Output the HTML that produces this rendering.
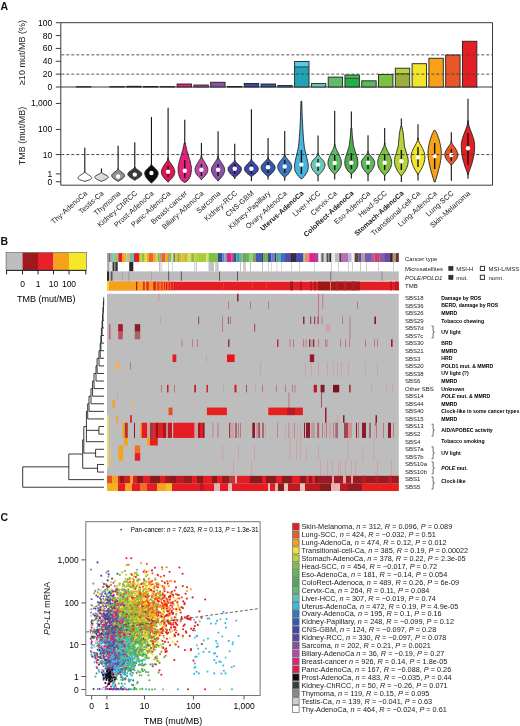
<!DOCTYPE html>
<html><head><meta charset="utf-8"><title>fig</title>
<style>
html,body{margin:0;padding:0;background:#fff;width:520px;height:726px;overflow:hidden}
svg{display:block;filter:blur(0.3px)}
text{font-family:"Liberation Sans",sans-serif}
</style></head><body>
<svg width="520" height="726" viewBox="0 0 520 726">
<text x="0.60" y="9.80" font-size="10.5" font-weight="bold" fill="#111">A</text>
<g stroke="#3a3a3a" stroke-width="1" fill="none">
<path d="M60.8 22.7H492.5V185.2H60.8Z"/>
<path d="M60.8 87.0H492.5"/>
</g>
<g stroke="#3a3a3a" stroke-width="1">
<path d="M55.8 87.00H60.8"/>
<path d="M55.8 74.14H60.8"/>
<path d="M55.8 61.28H60.8"/>
<path d="M55.8 48.42H60.8"/>
<path d="M55.8 35.56H60.8"/>
<path d="M55.8 22.70H60.8"/>
</g>
<text x="52.20" y="90.00" font-size="8.5" text-anchor="end">0</text>
<text x="52.20" y="77.14" font-size="8.5" text-anchor="end">20</text>
<text x="52.20" y="64.28" font-size="8.5" text-anchor="end">40</text>
<text x="52.20" y="51.42" font-size="8.5" text-anchor="end">60</text>
<text x="52.20" y="38.56" font-size="8.5" text-anchor="end">80</text>
<text x="52.20" y="25.70" font-size="8.5" text-anchor="end">100</text>
<text transform="translate(25.2 52.6) rotate(-90)" font-size="9" text-anchor="middle" fill="#222">≥10 mut/MB (%)</text>
<rect x="76.40" y="86.60" width="14.4" height="0.40" fill="#ffffff" stroke="#222" stroke-width="0.9"/>
<rect x="109.97" y="86.60" width="14.4" height="0.40" fill="#909090" stroke="#222" stroke-width="0.9"/>
<rect x="126.75" y="86.30" width="14.4" height="0.70" fill="#3c3c3c" stroke="#222" stroke-width="0.9"/>
<rect x="143.54" y="86.50" width="14.4" height="0.50" fill="#0c0c0c" stroke="#222" stroke-width="0.9"/>
<rect x="160.32" y="86.60" width="14.4" height="0.40" fill="#e0174f" stroke="#222" stroke-width="0.9"/>
<rect x="177.11" y="84.00" width="14.4" height="3.00" fill="#e6207e" stroke="#222" stroke-width="0.9"/>
<rect x="193.90" y="85.00" width="14.4" height="2.00" fill="#b84aa5" stroke="#222" stroke-width="0.9"/>
<rect x="210.68" y="82.25" width="14.4" height="4.75" fill="#8c52a8" stroke="#222" stroke-width="0.9"/>
<rect x="227.47" y="86.50" width="14.4" height="0.50" fill="#4a3f9c" stroke="#222" stroke-width="0.9"/>
<rect x="244.25" y="83.50" width="14.4" height="3.50" fill="#3d47a6" stroke="#222" stroke-width="0.9"/>
<rect x="261.04" y="84.00" width="14.4" height="3.00" fill="#3358a8" stroke="#222" stroke-width="0.9"/>
<rect x="277.82" y="85.50" width="14.4" height="1.50" fill="#3b78c0" stroke="#222" stroke-width="0.9"/>
<rect x="294.61" y="61.50" width="14.4" height="5.40" fill="#5cc8ea"/>
<rect x="294.61" y="66.90" width="14.4" height="20.10" fill="#1fa3b5"/>
<path d="M294.61 66.90h14.4" stroke="#222" stroke-width="0.8"/>
<rect x="294.61" y="61.50" width="14.4" height="25.50" fill="none" stroke="#222" stroke-width="0.9"/>
<rect x="311.39" y="83.60" width="14.4" height="3.40" fill="#6cc9b7" stroke="#222" stroke-width="0.9"/>
<rect x="328.18" y="77.10" width="14.4" height="9.90" fill="#5fba6a" stroke="#222" stroke-width="0.9"/>
<rect x="344.96" y="75.00" width="14.4" height="3.30" fill="#4cc060"/>
<rect x="344.96" y="78.30" width="14.4" height="8.70" fill="#22b04a"/>
<path d="M344.96 78.30h14.4" stroke="#222" stroke-width="0.8"/>
<rect x="344.96" y="75.00" width="14.4" height="12.00" fill="none" stroke="#222" stroke-width="0.9"/>
<rect x="361.75" y="80.80" width="14.4" height="6.20" fill="#5cb85c" stroke="#222" stroke-width="0.9"/>
<rect x="378.53" y="74.50" width="14.4" height="12.50" fill="#7dc142" stroke="#222" stroke-width="0.9"/>
<rect x="395.31" y="68.20" width="14.4" height="5.60" fill="#bad53a"/>
<rect x="395.31" y="73.80" width="14.4" height="13.20" fill="#9cae3c"/>
<path d="M395.31 73.80h14.4" stroke="#222" stroke-width="0.8"/>
<rect x="395.31" y="68.20" width="14.4" height="18.80" fill="none" stroke="#222" stroke-width="0.9"/>
<rect x="412.10" y="63.70" width="14.4" height="23.30" fill="#f0e52a" stroke="#222" stroke-width="0.9"/>
<rect x="428.89" y="58.25" width="14.4" height="28.75" fill="#f7a11a" stroke="#222" stroke-width="0.9"/>
<rect x="445.67" y="55.00" width="14.4" height="32.00" fill="#e8562a" stroke="#222" stroke-width="0.9"/>
<rect x="462.45" y="41.25" width="14.4" height="45.75" fill="#e31e24" stroke="#222" stroke-width="0.9"/>
<g stroke="#444" stroke-width="0.9" stroke-dasharray="3 2" fill="none">
<path d="M61.3 54.85H492.0"/>
<path d="M61.3 74.14H492.0"/>
</g>
<g stroke="#3a3a3a" stroke-width="1">
<path d="M55.8 181.75H60.8"/>
<path d="M55.8 173.89H60.8"/>
<path d="M55.8 154.57H60.8"/>
<path d="M55.8 129.44H60.8"/>
<path d="M55.8 103.44H60.8"/>
</g>
<text x="52.20" y="184.75" font-size="8.5" text-anchor="end">0</text>
<text x="52.20" y="176.89" font-size="8.5" text-anchor="end">1</text>
<text x="52.20" y="157.57" font-size="8.5" text-anchor="end">10</text>
<text x="52.20" y="132.44" font-size="8.5" text-anchor="end">100</text>
<text x="52.20" y="106.44" font-size="8.5" text-anchor="end">1,000</text>
<text transform="translate(25.2 136) rotate(-90)" font-size="9" text-anchor="middle" fill="#222">TMB (mut/MB)</text>
<path d="M84.80 147.70V181.30" stroke="#111" stroke-width="1.1"/>
<polygon points="85.1,171.7 85.1,172.1 85.2,172.4 85.6,172.8 86.0,173.1 86.5,173.5 87.0,173.8 87.6,174.2 88.2,174.5 88.7,174.9 89.2,175.3 89.8,175.6 90.2,176.0 90.7,176.3 91.0,176.7 91.3,177.0 91.5,177.4 91.7,177.7 91.7,178.1 91.6,178.5 91.2,178.8 90.8,179.2 90.1,179.5 89.3,179.9 88.3,180.2 87.2,180.6 86.0,180.9 85.1,181.3 84.5,181.3 83.6,180.9 82.4,180.6 81.3,180.2 80.3,179.9 79.5,179.5 78.8,179.2 78.4,178.8 78.0,178.5 77.9,178.1 77.9,177.7 78.1,177.4 78.3,177.0 78.6,176.7 78.9,176.3 79.4,176.0 79.8,175.6 80.4,175.3 80.9,174.9 81.4,174.5 82.0,174.2 82.6,173.8 83.1,173.5 83.6,173.1 84.0,172.8 84.4,172.4 84.5,172.1 84.5,171.7" fill="#ffffff" stroke="#222" stroke-width="0.9"/>
<path d="M101.46 168.50V181.30" stroke="#111" stroke-width="1.1"/>
<polygon points="101.8,172.3 101.8,172.6 102.0,173.0 102.5,173.3 103.1,173.6 103.8,174.0 104.5,174.3 105.1,174.6 105.8,175.0 106.4,175.3 107.0,175.6 107.4,176.0 107.8,176.3 108.1,176.6 108.2,177.0 108.1,177.3 108.0,177.6 107.8,178.0 107.5,178.3 107.1,178.6 106.6,179.0 106.1,179.3 105.5,179.6 104.8,180.0 104.0,180.3 103.2,180.6 102.3,181.0 101.8,181.3 101.2,181.3 100.6,181.0 99.8,180.6 98.9,180.3 98.2,180.0 97.5,179.6 96.8,179.3 96.3,179.0 95.8,178.6 95.4,178.3 95.1,178.0 94.9,177.6 94.8,177.3 94.8,177.0 94.9,176.6 95.1,176.3 95.5,176.0 95.9,175.6 96.5,175.3 97.1,175.0 97.8,174.6 98.5,174.3 99.1,174.0 99.8,173.6 100.4,173.3 100.9,173.0 101.2,172.6 101.2,172.3" fill="#dadada" stroke="#222" stroke-width="0.9"/>
<path d="M118.12 145.80V181.30" stroke="#111" stroke-width="1.1"/>
<polygon points="118.4,168.8 118.4,169.3 118.6,169.7 119.1,170.2 119.7,170.7 120.3,171.1 120.9,171.6 121.5,172.0 122.1,172.5 122.7,173.0 123.3,173.4 123.7,173.9 124.1,174.4 124.4,174.8 124.5,175.3 124.5,175.7 124.4,176.2 124.2,176.7 124.0,177.1 123.6,177.6 123.2,178.1 122.6,178.5 122.0,179.0 121.3,179.4 120.6,179.9 119.8,180.4 118.9,180.8 118.4,181.3 117.8,181.3 117.3,180.8 116.5,180.4 115.6,179.9 114.9,179.4 114.2,179.0 113.6,178.5 113.1,178.1 112.6,177.6 112.3,177.1 112.0,176.7 111.8,176.2 111.7,175.7 111.7,175.3 111.9,174.8 112.1,174.4 112.5,173.9 113.0,173.4 113.5,173.0 114.1,172.5 114.7,172.0 115.4,171.6 116.0,171.1 116.6,170.7 117.1,170.2 117.6,169.7 117.8,169.3 117.8,168.8" fill="#909090" stroke="#222" stroke-width="0.9"/>
<circle cx="118.12" cy="176.50" r="2.2" fill="#fff"/>
<path d="M134.78 142.30V180.50" stroke="#111" stroke-width="1.1"/>
<polygon points="135.1,167.0 135.1,167.5 135.3,168.0 135.9,168.4 136.5,168.9 137.1,169.4 137.8,169.9 138.5,170.4 139.2,170.9 139.8,171.3 140.4,171.8 140.9,172.3 141.3,172.8 141.6,173.3 141.8,173.7 141.8,174.2 141.7,174.7 141.5,175.2 141.2,175.7 140.8,176.1 140.3,176.6 139.7,177.1 139.1,177.6 138.3,178.1 137.5,178.6 136.6,179.0 135.7,179.5 135.1,180.0 134.5,180.0 133.9,179.5 133.0,179.0 132.1,178.6 131.2,178.1 130.5,177.6 129.8,177.1 129.2,176.6 128.8,176.1 128.4,175.7 128.1,175.2 127.9,174.7 127.8,174.2 127.8,173.7 128.0,173.3 128.3,172.8 128.7,172.3 129.2,171.8 129.8,171.3 130.4,170.9 131.1,170.4 131.8,169.9 132.5,169.4 133.1,168.9 133.7,168.4 134.2,168.0 134.5,167.5 134.5,167.0" fill="#3c3c3c" stroke="#222" stroke-width="0.9"/>
<circle cx="134.78" cy="174.60" r="2.2" fill="#fff"/>
<path d="M151.44 117.00V183.00" stroke="#111" stroke-width="1.1"/>
<polygon points="151.7,164.0 151.7,164.7 152.1,165.4 152.7,166.1 153.4,166.8 154.1,167.5 154.9,168.2 155.6,168.9 156.3,169.6 156.9,170.3 157.4,171.0 157.8,171.7 158.1,172.4 158.1,173.1 158.1,173.9 158.0,174.6 157.8,175.3 157.5,176.0 157.2,176.7 156.7,177.4 156.3,178.1 155.7,178.8 155.1,179.5 154.5,180.2 153.7,180.9 153.0,181.6 152.2,182.3 151.7,183.0 151.1,183.0 150.7,182.3 149.9,181.6 149.1,180.9 148.4,180.2 147.8,179.5 147.2,178.8 146.6,178.1 146.1,177.4 145.7,176.7 145.4,176.0 145.1,175.3 144.9,174.6 144.8,173.9 144.7,173.1 144.8,172.4 145.0,171.7 145.4,171.0 146.0,170.3 146.6,169.6 147.3,168.9 148.0,168.2 148.8,167.5 149.5,166.8 150.2,166.1 150.8,165.4 151.1,164.7 151.1,164.0" fill="#0c0c0c" stroke="#222" stroke-width="0.9"/>
<circle cx="151.44" cy="173.00" r="2.2" fill="#fff"/>
<path d="M168.10 107.70V182.00" stroke="#111" stroke-width="1.1"/>
<polygon points="168.4,158.0 168.4,158.9 168.6,159.8 169.0,160.7 169.6,161.6 170.1,162.4 170.8,163.3 171.4,164.2 172.0,165.1 172.6,166.0 173.1,166.9 173.6,167.8 174.1,168.7 174.4,169.6 174.7,170.4 174.8,171.3 174.8,172.2 174.7,173.1 174.4,174.0 174.1,174.9 173.7,175.8 173.1,176.7 172.5,177.6 171.7,178.4 170.9,179.3 170.0,180.2 169.0,181.1 168.4,182.0 167.8,182.0 167.2,181.1 166.2,180.2 165.3,179.3 164.5,178.4 163.7,177.6 163.1,176.7 162.5,175.8 162.1,174.9 161.8,174.0 161.5,173.1 161.4,172.2 161.4,171.3 161.5,170.4 161.8,169.6 162.1,168.7 162.6,167.8 163.1,166.9 163.6,166.0 164.2,165.1 164.8,164.2 165.4,163.3 166.1,162.4 166.6,161.6 167.2,160.7 167.6,159.8 167.8,158.9 167.8,158.0" fill="#e0174f" stroke="#222" stroke-width="0.9"/>
<path d="M168.10 166.00V177.00" stroke="#111" stroke-width="1.4"/>
<circle cx="168.10" cy="171.70" r="2.2" fill="#fff"/>
<path d="M184.76 119.80V182.30" stroke="#111" stroke-width="1.1"/>
<polygon points="185.3,143.0 185.5,144.3 185.8,145.5 186.1,146.8 186.3,148.1 186.6,149.3 186.9,150.6 187.3,151.9 187.7,153.1 188.1,154.4 188.5,155.7 188.8,156.9 189.2,158.2 189.6,159.5 190.0,160.7 190.4,162.0 190.6,163.3 190.9,164.6 191.1,165.8 191.4,167.1 191.4,168.4 191.4,169.6 191.3,170.9 191.2,172.2 191.0,173.4 190.7,174.7 190.3,176.0 189.8,177.2 189.2,178.5 188.2,179.8 187.2,181.0 185.3,182.3 184.3,182.3 182.3,181.0 181.3,179.8 180.3,178.5 179.7,177.2 179.2,176.0 178.8,174.7 178.5,173.4 178.3,172.2 178.2,170.9 178.1,169.6 178.1,168.4 178.2,167.1 178.4,165.8 178.6,164.6 178.9,163.3 179.2,162.0 179.5,160.7 179.9,159.5 180.3,158.2 180.7,156.9 181.1,155.7 181.4,154.4 181.8,153.1 182.2,151.9 182.6,150.6 182.9,149.3 183.2,148.1 183.4,146.8 183.7,145.5 184.0,144.3 184.3,143.0" fill="#e6207e" stroke="#222" stroke-width="0.9"/>
<path d="M184.76 160.00V178.00" stroke="#111" stroke-width="1.4"/>
<circle cx="184.76" cy="170.80" r="2.2" fill="#fff"/>
<path d="M201.42 142.90V179.40" stroke="#111" stroke-width="1.1"/>
<polygon points="201.7,155.4 201.7,156.3 201.9,157.2 202.2,158.1 202.7,159.0 203.2,159.8 203.8,160.7 204.3,161.6 204.9,162.5 205.5,163.4 206.0,164.3 206.5,165.2 206.9,166.1 207.3,167.0 207.5,167.8 207.7,168.7 207.8,169.6 207.8,170.5 207.6,171.4 207.3,172.3 207.0,173.2 206.4,174.1 205.8,175.0 205.1,175.8 204.3,176.7 203.3,177.6 202.4,178.5 201.7,179.4 201.1,179.4 200.5,178.5 199.5,177.6 198.6,176.7 197.7,175.8 197.0,175.0 196.4,174.1 195.9,173.2 195.5,172.3 195.2,171.4 195.1,170.5 195.0,169.6 195.1,168.7 195.3,167.8 195.6,167.0 195.9,166.1 196.4,165.2 196.9,164.3 197.4,163.4 197.9,162.5 198.5,161.6 199.1,160.7 199.6,159.8 200.1,159.0 200.6,158.1 201.0,157.2 201.1,156.3 201.1,155.4" fill="#b84aa5" stroke="#222" stroke-width="0.9"/>
<path d="M201.42 164.00V176.00" stroke="#111" stroke-width="1.4"/>
<circle cx="201.42" cy="169.80" r="2.2" fill="#fff"/>
<path d="M218.08 131.30V180.80" stroke="#111" stroke-width="1.1"/>
<polygon points="218.4,156.3 218.4,157.2 218.6,158.1 219.1,159.0 219.6,159.9 220.2,160.8 220.8,161.7 221.5,162.7 222.1,163.6 222.7,164.5 223.2,165.4 223.7,166.3 224.1,167.2 224.4,168.1 224.6,169.0 224.7,169.9 224.6,170.8 224.5,171.7 224.2,172.6 223.8,173.5 223.4,174.4 222.9,175.4 222.2,176.3 221.5,177.2 220.7,178.1 219.9,179.0 218.9,179.9 218.4,180.8 217.8,180.8 217.2,179.9 216.3,179.0 215.4,178.1 214.7,177.2 213.9,176.3 213.3,175.4 212.8,174.4 212.3,173.5 212.0,172.6 211.7,171.7 211.5,170.8 211.5,169.9 211.5,169.0 211.7,168.1 212.0,167.2 212.4,166.3 212.9,165.4 213.5,164.5 214.1,163.6 214.7,162.7 215.3,161.7 216.0,160.8 216.6,159.9 217.1,159.0 217.6,158.1 217.8,157.2 217.8,156.3" fill="#8c52a8" stroke="#222" stroke-width="0.9"/>
<path d="M218.08 164.00V176.00" stroke="#111" stroke-width="1.4"/>
<circle cx="218.08" cy="169.80" r="2.2" fill="#fff"/>
<path d="M234.74 143.80V179.00" stroke="#111" stroke-width="1.1"/>
<polygon points="235.0,160.2 235.0,160.8 235.4,161.5 235.9,162.1 236.5,162.8 237.2,163.4 238.0,164.0 238.7,164.7 239.3,165.3 240.0,166.0 240.5,166.6 240.9,167.2 241.3,167.9 241.4,168.5 241.4,169.2 241.3,169.8 241.2,170.5 240.9,171.1 240.6,171.7 240.2,172.4 239.7,173.0 239.2,173.7 238.6,174.3 237.9,174.9 237.1,175.6 236.3,176.2 235.5,176.9 235.0,177.5 234.4,177.5 234.0,176.9 233.1,176.2 232.3,175.6 231.6,174.9 230.9,174.3 230.3,173.7 229.7,173.0 229.3,172.4 228.9,171.7 228.5,171.1 228.3,170.5 228.1,169.8 228.1,169.2 228.1,168.5 228.2,167.9 228.5,167.2 229.0,166.6 229.5,166.0 230.1,165.3 230.8,164.7 231.5,164.0 232.2,163.4 232.9,162.8 233.6,162.1 234.1,161.5 234.4,160.8 234.4,160.2" fill="#4a3f9c" stroke="#222" stroke-width="0.9"/>
<path d="M234.74 164.00V174.00" stroke="#111" stroke-width="1.4"/>
<circle cx="234.74" cy="168.80" r="2.2" fill="#fff"/>
<path d="M251.40 109.20V181.30" stroke="#111" stroke-width="1.1"/>
<polygon points="251.7,159.0 251.7,159.6 251.9,160.3 252.4,160.9 253.0,161.6 253.6,162.2 254.2,162.9 254.9,163.5 255.5,164.2 256.1,164.8 256.7,165.5 257.2,166.1 257.6,166.8 258.0,167.4 258.2,168.1 258.3,168.7 258.3,169.4 258.1,170.0 257.9,170.7 257.5,171.3 257.0,172.0 256.5,172.6 255.8,173.3 255.0,173.9 254.2,174.6 253.3,175.2 252.3,175.9 251.7,176.5 251.1,176.5 250.5,175.9 249.5,175.2 248.6,174.6 247.8,173.9 247.0,173.3 246.3,172.6 245.8,172.0 245.3,171.3 244.9,170.7 244.7,170.0 244.5,169.4 244.5,168.7 244.6,168.1 244.8,167.4 245.2,166.8 245.6,166.1 246.1,165.5 246.7,164.8 247.3,164.2 247.9,163.5 248.6,162.9 249.2,162.2 249.8,161.6 250.4,160.9 250.9,160.3 251.1,159.6 251.1,159.0" fill="#3d47a6" stroke="#222" stroke-width="0.9"/>
<path d="M251.40 164.00V174.00" stroke="#111" stroke-width="1.4"/>
<circle cx="251.40" cy="168.80" r="2.2" fill="#fff"/>
<path d="M268.06 138.00V179.40" stroke="#111" stroke-width="1.1"/>
<polygon points="268.4,157.3 268.4,158.0 268.7,158.7 269.2,159.4 269.8,160.1 270.5,160.9 271.2,161.6 271.9,162.3 272.6,163.0 273.3,163.7 273.8,164.4 274.3,165.1 274.7,165.8 275.0,166.5 275.1,167.3 275.0,168.0 274.9,168.7 274.7,169.4 274.4,170.1 273.9,170.8 273.5,171.5 272.9,172.2 272.2,172.9 271.5,173.7 270.7,174.4 269.8,175.1 268.9,175.8 268.4,176.5 267.8,176.5 267.2,175.8 266.3,175.1 265.4,174.4 264.6,173.7 263.9,172.9 263.2,172.2 262.7,171.5 262.2,170.8 261.8,170.1 261.5,169.4 261.2,168.7 261.1,168.0 261.1,167.3 261.2,166.5 261.4,165.8 261.8,165.1 262.3,164.4 262.9,163.7 263.5,163.0 264.2,162.3 264.9,161.6 265.6,160.9 266.3,160.1 266.9,159.4 267.5,158.7 267.8,158.0 267.8,157.3" fill="#3358a8" stroke="#222" stroke-width="0.9"/>
<path d="M268.06 162.00V173.00" stroke="#111" stroke-width="1.4"/>
<circle cx="268.06" cy="167.30" r="2.2" fill="#fff"/>
<path d="M284.72 131.00V180.80" stroke="#111" stroke-width="1.1"/>
<polygon points="285.0,154.4 285.0,155.3 285.3,156.1 285.8,157.0 286.5,157.8 287.1,158.7 287.8,159.5 288.6,160.4 289.2,161.2 289.9,162.1 290.5,163.0 291.0,163.8 291.3,164.7 291.6,165.5 291.7,166.4 291.7,167.2 291.6,168.1 291.3,168.9 291.0,169.8 290.6,170.7 290.1,171.5 289.6,172.4 288.9,173.2 288.2,174.1 287.4,174.9 286.5,175.8 285.6,176.6 285.0,177.5 284.4,177.5 283.9,176.6 282.9,175.8 282.1,174.9 281.3,174.1 280.5,173.2 279.9,172.4 279.3,171.5 278.8,170.7 278.4,169.8 278.1,168.9 277.9,168.1 277.8,167.2 277.7,166.4 277.8,165.5 278.1,164.7 278.5,163.8 279.0,163.0 279.6,162.1 280.2,161.2 280.9,160.4 281.6,159.5 282.3,158.7 283.0,157.8 283.6,157.0 284.1,156.1 284.4,155.3 284.4,154.4" fill="#3b78c0" stroke="#222" stroke-width="0.9"/>
<path d="M284.72 160.00V173.00" stroke="#111" stroke-width="1.4"/>
<circle cx="284.72" cy="166.50" r="2.2" fill="#fff"/>
<path d="M301.38 101.20V178.80" stroke="#111" stroke-width="1.1"/>
<polygon points="301.7,101.2 301.8,103.7 301.9,106.2 302.0,108.7 302.0,111.2 302.1,113.7 302.2,116.2 302.3,118.7 302.5,121.2 302.6,123.7 302.7,126.2 302.8,128.7 303.0,131.2 303.1,133.7 303.3,136.2 303.5,138.7 303.7,141.3 304.0,143.8 304.2,146.3 304.6,148.8 305.2,151.3 305.8,153.8 306.4,156.3 307.0,158.8 307.6,161.3 308.1,163.8 308.3,166.3 308.1,168.8 307.5,171.3 306.1,173.8 304.2,176.3 301.9,178.8 300.9,178.8 298.6,176.3 296.7,173.8 295.2,171.3 294.7,168.8 294.5,166.3 294.7,163.8 295.2,161.3 295.7,158.8 296.3,156.3 296.9,153.8 297.5,151.3 298.1,148.8 298.5,146.3 298.8,143.8 299.0,141.3 299.3,138.7 299.4,136.2 299.6,133.7 299.8,131.2 300.0,128.7 300.1,126.2 300.2,123.7 300.3,121.2 300.4,118.7 300.5,116.2 300.6,113.7 300.7,111.2 300.8,108.7 300.9,106.2 301.0,103.7 301.1,101.2" fill="#45b5e0" stroke="#222" stroke-width="0.9"/>
<path d="M301.38 150.00V174.00" stroke="#111" stroke-width="1.4"/>
<circle cx="301.38" cy="164.60" r="2.2" fill="#fff"/>
<path d="M318.04 135.60V181.30" stroke="#111" stroke-width="1.1"/>
<polygon points="318.3,153.5 318.3,154.3 318.7,155.1 319.2,156.0 319.9,156.8 320.6,157.6 321.3,158.4 322.1,159.2 322.8,160.0 323.4,160.9 324.0,161.7 324.5,162.5 324.8,163.3 325.0,164.1 325.0,165.0 325.0,165.8 324.8,166.6 324.5,167.4 324.2,168.2 323.8,169.1 323.3,169.9 322.7,170.7 322.1,171.5 321.4,172.3 320.6,173.1 319.7,174.0 318.9,174.8 318.3,175.6 317.7,175.6 317.2,174.8 316.3,174.0 315.5,173.1 314.7,172.3 314.0,171.5 313.4,170.7 312.8,169.9 312.3,169.1 311.9,168.2 311.5,167.4 311.3,166.6 311.1,165.8 311.0,165.0 311.1,164.1 311.3,163.3 311.6,162.5 312.1,161.7 312.6,160.9 313.3,160.0 314.0,159.2 314.7,158.4 315.5,157.6 316.2,156.8 316.8,156.0 317.4,155.1 317.7,154.3 317.7,153.5" fill="#6cc9b7" stroke="#222" stroke-width="0.9"/>
<path d="M318.04 159.00V171.00" stroke="#111" stroke-width="1.4"/>
<circle cx="318.04" cy="164.60" r="2.2" fill="#fff"/>
<path d="M334.70 110.80V179.40" stroke="#111" stroke-width="1.1"/>
<polygon points="335.0,143.8 335.0,144.9 335.1,146.1 335.5,147.2 336.0,148.4 336.5,149.5 337.0,150.6 337.6,151.8 338.2,152.9 338.7,154.1 339.3,155.2 339.8,156.3 340.2,157.5 340.6,158.6 341.0,159.8 341.2,160.9 341.4,162.1 341.4,163.2 341.3,164.3 341.1,165.5 340.7,166.6 340.2,167.8 339.5,168.9 338.7,170.0 337.8,171.2 336.8,172.3 335.8,173.5 335.0,174.6 334.4,174.6 333.6,173.5 332.6,172.3 331.6,171.2 330.7,170.0 329.9,168.9 329.2,167.8 328.7,166.6 328.3,165.5 328.1,164.3 328.0,163.2 328.0,162.1 328.2,160.9 328.4,159.8 328.8,158.6 329.2,157.5 329.6,156.3 330.1,155.2 330.7,154.1 331.2,152.9 331.8,151.8 332.4,150.6 332.9,149.5 333.4,148.4 333.9,147.2 334.3,146.1 334.4,144.9 334.4,143.8" fill="#5fba6a" stroke="#222" stroke-width="0.9"/>
<path d="M334.70 155.00V170.00" stroke="#111" stroke-width="1.4"/>
<circle cx="334.70" cy="163.00" r="2.2" fill="#fff"/>
<path d="M351.36 111.50V178.50" stroke="#111" stroke-width="1.1"/>
<polygon points="351.8,128.0 351.9,129.5 352.0,130.9 352.1,132.4 352.2,133.9 352.3,135.4 352.5,136.8 352.6,138.3 352.8,139.8 353.0,141.3 353.2,142.7 353.3,144.2 353.5,145.7 353.9,147.2 354.4,148.6 354.8,150.1 355.2,151.6 355.7,153.1 356.2,154.5 356.7,156.0 357.2,157.5 357.5,159.0 357.7,160.4 357.9,161.9 357.9,163.4 357.7,164.9 357.5,166.3 356.9,167.8 355.9,169.3 355.0,170.8 353.5,172.2 351.9,173.7 350.9,173.7 349.2,172.2 347.7,170.8 346.8,169.3 345.9,167.8 345.3,166.3 345.0,164.9 344.8,163.4 344.8,161.9 345.0,160.4 345.2,159.0 345.5,157.5 346.0,156.0 346.5,154.5 347.0,153.1 347.5,151.6 347.9,150.1 348.4,148.6 348.8,147.2 349.2,145.7 349.4,144.2 349.6,142.7 349.8,141.3 349.9,139.8 350.1,138.3 350.3,136.8 350.4,135.4 350.5,133.9 350.6,132.4 350.7,130.9 350.8,129.5 351.0,128.0" fill="#4cae4f" stroke="#222" stroke-width="0.9"/>
<path d="M351.36 153.00V169.00" stroke="#111" stroke-width="1.4"/>
<circle cx="351.36" cy="162.70" r="2.2" fill="#fff"/>
<path d="M368.02 135.20V181.30" stroke="#111" stroke-width="1.1"/>
<polygon points="368.3,151.5 368.3,152.4 368.7,153.2 369.2,154.1 369.9,154.9 370.6,155.8 371.3,156.6 372.1,157.5 372.8,158.3 373.4,159.2 373.9,160.1 374.3,160.9 374.6,161.8 374.7,162.6 374.7,163.5 374.6,164.3 374.4,165.2 374.1,166.0 373.8,166.9 373.4,167.8 372.9,168.6 372.4,169.5 371.8,170.3 371.1,171.2 370.4,172.0 369.6,172.9 368.8,173.7 368.3,174.6 367.7,174.6 367.3,173.7 366.5,172.9 365.7,172.0 364.9,171.2 364.3,170.3 363.7,169.5 363.1,168.6 362.6,167.8 362.2,166.9 361.9,166.0 361.6,165.2 361.5,164.3 361.4,163.5 361.3,162.6 361.4,161.8 361.7,160.9 362.1,160.1 362.7,159.2 363.3,158.3 364.0,157.5 364.7,156.6 365.4,155.8 366.1,154.9 366.8,154.1 367.4,153.2 367.7,152.4 367.7,151.5" fill="#5cb85c" stroke="#222" stroke-width="0.9"/>
<path d="M368.02 157.00V169.00" stroke="#111" stroke-width="1.4"/>
<circle cx="368.02" cy="162.70" r="2.2" fill="#fff"/>
<path d="M384.68 128.00V180.80" stroke="#111" stroke-width="1.1"/>
<polygon points="385.0,142.9 385.0,144.1 385.1,145.3 385.6,146.5 386.1,147.7 386.6,149.0 387.2,150.2 387.8,151.4 388.5,152.6 389.1,153.8 389.6,155.0 390.2,156.2 390.6,157.4 391.0,158.6 391.3,159.9 391.6,161.1 391.7,162.3 391.7,163.5 391.5,164.7 391.2,165.9 390.8,167.1 390.2,168.3 389.5,169.5 388.7,170.8 387.8,172.0 386.8,173.2 385.7,174.4 385.0,175.6 384.4,175.6 383.6,174.4 382.5,173.2 381.5,172.0 380.6,170.8 379.8,169.5 379.1,168.3 378.6,167.1 378.2,165.9 377.9,164.7 377.7,163.5 377.7,162.3 377.8,161.1 378.0,159.9 378.3,158.6 378.7,157.4 379.2,156.2 379.7,155.0 380.3,153.8 380.9,152.6 381.5,151.4 382.1,150.2 382.7,149.0 383.3,147.7 383.8,146.5 384.2,145.3 384.4,144.1 384.4,142.9" fill="#7dc142" stroke="#222" stroke-width="0.9"/>
<path d="M384.68 154.00V170.00" stroke="#111" stroke-width="1.4"/>
<circle cx="384.68" cy="162.70" r="2.2" fill="#fff"/>
<path d="M401.34 118.50V182.00" stroke="#111" stroke-width="1.1"/>
<polygon points="401.7,126.0 402.1,127.6 402.5,129.2 402.8,130.8 403.1,132.4 403.3,134.0 403.4,135.6 403.6,137.2 403.8,138.8 404.0,140.4 404.1,142.0 404.2,143.6 404.3,145.2 404.6,146.8 405.1,148.4 405.6,150.0 406.0,151.6 406.5,153.2 407.0,154.8 407.5,156.4 407.9,158.0 408.1,159.6 408.3,161.2 408.1,162.8 407.8,164.4 407.5,166.0 406.8,167.6 406.0,169.2 405.2,170.8 404.1,172.4 403.0,174.0 401.8,175.6 400.8,175.6 399.7,174.0 398.5,172.4 397.4,170.8 396.7,169.2 395.9,167.6 395.1,166.0 394.9,164.4 394.6,162.8 394.3,161.2 394.6,159.6 394.8,158.0 395.1,156.4 395.6,154.8 396.2,153.2 396.7,151.6 397.1,150.0 397.6,148.4 398.0,146.8 398.4,145.2 398.5,143.6 398.6,142.0 398.7,140.4 398.9,138.8 399.1,137.2 399.2,135.6 399.4,134.0 399.6,132.4 399.9,130.8 400.2,129.2 400.6,127.6 400.9,126.0" fill="#b8d438" stroke="#222" stroke-width="0.9"/>
<path d="M401.34 150.00V170.00" stroke="#111" stroke-width="1.4"/>
<circle cx="401.34" cy="161.20" r="2.2" fill="#fff"/>
<path d="M418.00 124.20V180.40" stroke="#111" stroke-width="1.1"/>
<polygon points="418.3,138.0 418.3,139.4 418.6,140.7 419.2,142.1 419.8,143.4 420.5,144.8 421.3,146.1 422.0,147.5 422.7,148.8 423.3,150.2 423.9,151.6 424.4,152.9 424.7,154.3 424.9,155.6 424.9,157.0 424.8,158.3 424.6,159.7 424.4,161.0 424.1,162.4 423.7,163.8 423.2,165.1 422.6,166.5 422.0,167.8 421.3,169.2 420.5,170.5 419.7,171.9 418.8,173.2 418.3,174.6 417.7,174.6 417.2,173.2 416.3,171.9 415.5,170.5 414.7,169.2 414.0,167.8 413.4,166.5 412.8,165.1 412.3,163.8 411.9,162.4 411.6,161.0 411.4,159.7 411.2,158.3 411.1,157.0 411.1,155.6 411.3,154.3 411.6,152.9 412.1,151.6 412.7,150.2 413.3,148.8 414.0,147.5 414.7,146.1 415.5,144.8 416.2,143.4 416.8,142.1 417.4,140.7 417.7,139.4 417.7,138.0" fill="#f0e52a" stroke="#222" stroke-width="0.9"/>
<path d="M418.00 147.00V167.00" stroke="#111" stroke-width="1.4"/>
<circle cx="418.00" cy="157.30" r="2.2" fill="#fff"/>
<path d="M434.66 130.40V182.00" stroke="#111" stroke-width="1.1"/>
<polygon points="435.2,130.4 436.1,132.1 437.0,133.7 437.6,135.4 438.2,137.1 438.8,138.7 439.4,140.4 439.7,142.1 440.1,143.7 440.5,145.4 440.8,147.0 441.0,148.7 441.2,150.4 441.3,152.0 441.3,153.7 441.2,155.4 441.1,157.0 440.9,158.7 440.7,160.4 440.4,162.0 440.1,163.7 439.8,165.4 439.3,167.0 438.9,168.7 438.5,170.3 438.1,172.0 437.6,173.7 437.1,175.3 436.6,177.0 436.1,178.7 435.6,180.3 435.1,182.0 434.3,182.0 433.8,180.3 433.3,178.7 432.8,177.0 432.3,175.3 431.8,173.7 431.3,172.0 430.8,170.3 430.4,168.7 430.0,167.0 429.6,165.4 429.2,163.7 429.0,162.0 428.7,160.4 428.4,158.7 428.2,157.0 428.1,155.4 428.1,153.7 428.0,152.0 428.1,150.4 428.3,148.7 428.5,147.0 428.8,145.4 429.2,143.7 429.6,142.1 430.0,140.4 430.5,138.7 431.1,137.1 431.7,135.4 432.3,133.7 433.2,132.1 434.2,130.4" fill="#f7a11a" stroke="#222" stroke-width="0.9"/>
<path d="M434.66 143.00V169.00" stroke="#111" stroke-width="1.4"/>
<circle cx="434.66" cy="156.00" r="2.2" fill="#fff"/>
<path d="M451.32 132.30V180.80" stroke="#111" stroke-width="1.1"/>
<polygon points="451.6,141.0 451.6,141.9 451.8,142.8 452.3,143.7 452.8,144.6 453.4,145.4 454.0,146.3 454.6,147.2 455.2,148.1 455.8,149.0 456.3,149.9 456.8,150.8 457.2,151.7 457.5,152.6 457.7,153.4 457.8,154.3 457.8,155.2 457.6,156.1 457.4,157.0 457.0,157.9 456.6,158.8 456.1,159.7 455.5,160.6 454.7,161.4 454.0,162.3 453.1,163.2 452.2,164.1 451.6,165.0 451.0,165.0 450.5,164.1 449.5,163.2 448.7,162.3 447.9,161.4 447.2,160.6 446.6,159.7 446.0,158.8 445.6,157.9 445.2,157.0 445.0,156.1 444.9,155.2 444.8,154.3 444.9,153.4 445.1,152.6 445.4,151.7 445.8,150.8 446.3,149.9 446.9,149.0 447.4,148.1 448.0,147.2 448.7,146.3 449.3,145.4 449.9,144.6 450.4,143.7 450.8,142.8 451.0,141.9 451.0,141.0" fill="#e8562a" stroke="#222" stroke-width="0.9"/>
<path d="M451.32 149.00V161.00" stroke="#111" stroke-width="1.4"/>
<circle cx="451.32" cy="155.00" r="2.2" fill="#fff"/>
<path d="M467.98 98.70V178.80" stroke="#111" stroke-width="1.1"/>
<polygon points="468.3,120.8 468.3,122.8 468.7,124.8 469.3,126.8 470.0,128.8 470.7,130.8 471.5,132.8 472.2,134.7 472.9,136.7 473.6,138.7 474.1,140.7 474.4,142.7 474.6,144.7 474.7,146.7 474.6,148.7 474.5,150.7 474.3,152.7 474.0,154.7 473.6,156.7 473.2,158.7 472.7,160.7 472.2,162.6 471.6,164.6 470.9,166.6 470.2,168.6 469.5,170.6 468.7,172.6 468.3,174.6 467.7,174.6 467.2,172.6 466.5,170.6 465.7,168.6 465.0,166.6 464.4,164.6 463.8,162.6 463.2,160.7 462.7,158.7 462.3,156.7 462.0,154.7 461.7,152.7 461.5,150.7 461.4,148.7 461.3,146.7 461.3,144.7 461.5,142.7 461.9,140.7 462.4,138.7 463.0,136.7 463.7,134.7 464.5,132.8 465.2,130.8 466.0,128.8 466.7,126.8 467.3,124.8 467.7,122.8 467.7,120.8" fill="#e31e24" stroke="#222" stroke-width="0.9"/>
<path d="M467.98 133.00V165.00" stroke="#111" stroke-width="1.4"/>
<circle cx="467.98" cy="148.30" r="2.2" fill="#fff"/>
<path d="M61.3 154.57H492.0" stroke="#333" stroke-width="0.9" stroke-dasharray="3 2"/>
<text transform="translate(87.70 193.9) rotate(-42)" font-size="7.4" text-anchor="end" font-weight="normal" fill="#222">Thy-AdenoCa</text>
<text transform="translate(104.36 193.9) rotate(-42)" font-size="7.4" text-anchor="end" font-weight="normal" fill="#222">Testis-Ca</text>
<text transform="translate(121.02 193.9) rotate(-42)" font-size="7.4" text-anchor="end" font-weight="normal" fill="#222">Thymoma</text>
<text transform="translate(137.68 193.9) rotate(-42)" font-size="7.4" text-anchor="end" font-weight="normal" fill="#222">Kidney-ChRCC</text>
<text transform="translate(154.34 193.9) rotate(-42)" font-size="7.4" text-anchor="end" font-weight="normal" fill="#222">Prost-AdenoCa</text>
<text transform="translate(171.00 193.9) rotate(-42)" font-size="7.4" text-anchor="end" font-weight="normal" fill="#222">Panc-AdenoCa</text>
<text transform="translate(187.66 193.9) rotate(-42)" font-size="7.4" text-anchor="end" font-weight="normal" fill="#222">Breast-cancer</text>
<text transform="translate(204.32 193.9) rotate(-42)" font-size="7.4" text-anchor="end" font-weight="normal" fill="#222">Biliary-AdenoCa</text>
<text transform="translate(220.98 193.9) rotate(-42)" font-size="7.4" text-anchor="end" font-weight="normal" fill="#222">Sarcoma</text>
<text transform="translate(237.64 193.9) rotate(-42)" font-size="7.4" text-anchor="end" font-weight="normal" fill="#222">Kidney-RCC</text>
<text transform="translate(254.30 193.9) rotate(-42)" font-size="7.4" text-anchor="end" font-weight="normal" fill="#222">CNS-GBM</text>
<text transform="translate(270.96 193.9) rotate(-42)" font-size="7.4" text-anchor="end" font-weight="normal" fill="#222">Kidney-Papillary</text>
<text transform="translate(287.62 193.9) rotate(-42)" font-size="7.4" text-anchor="end" font-weight="normal" fill="#222">Ovary-AdenoCa</text>
<text transform="translate(304.28 193.9) rotate(-42)" font-size="7.1" text-anchor="end" font-weight="bold" fill="#222">Uterus-AdenoCa</text>
<text transform="translate(320.94 193.9) rotate(-42)" font-size="7.4" text-anchor="end" font-weight="normal" fill="#222">Liver-HCC</text>
<text transform="translate(337.60 193.9) rotate(-42)" font-size="7.4" text-anchor="end" font-weight="normal" fill="#222">Cervix-Ca</text>
<text transform="translate(354.26 193.9) rotate(-42)" font-size="7.1" text-anchor="end" font-weight="bold" fill="#222">ColoRect-AdenoCa</text>
<text transform="translate(370.92 193.9) rotate(-42)" font-size="7.4" text-anchor="end" font-weight="normal" fill="#222">Eso-AdenoCa</text>
<text transform="translate(387.58 193.9) rotate(-42)" font-size="7.4" text-anchor="end" font-weight="normal" fill="#222">Head-SCC</text>
<text transform="translate(404.24 193.9) rotate(-42)" font-size="7.1" text-anchor="end" font-weight="bold" fill="#222">Stomach-AdenoCa</text>
<text transform="translate(420.90 193.9) rotate(-42)" font-size="7.4" text-anchor="end" font-weight="normal" fill="#222">Transitional-cell-Ca</text>
<text transform="translate(437.56 193.9) rotate(-42)" font-size="7.4" text-anchor="end" font-weight="normal" fill="#222">Lung-AdenoCa</text>
<text transform="translate(454.22 193.9) rotate(-42)" font-size="7.4" text-anchor="end" font-weight="normal" fill="#222">Lung-SCC</text>
<text transform="translate(470.88 193.9) rotate(-42)" font-size="7.4" text-anchor="end" font-weight="normal" fill="#222">Skin-Melanoma</text>
<text x="0.60" y="245.30" font-size="10.5" font-weight="bold" fill="#111">B</text>
<rect x="6.1" y="252.6" width="16.40" height="17.6" fill="#bebebe"/>
<rect x="22.5" y="252.6" width="15.50" height="17.6" fill="#9e1a1e"/>
<rect x="38.0" y="252.6" width="15.50" height="17.6" fill="#e8202a"/>
<rect x="53.5" y="252.6" width="15.50" height="17.6" fill="#f7a21b"/>
<rect x="69.0" y="252.6" width="17.30" height="17.6" fill="#f5e82a"/>
<rect x="6.1" y="252.6" width="80.2" height="17.6" fill="none" stroke="#555" stroke-width="0.6"/>
<path d="M6.1 270.4H86.3" stroke="#222" stroke-width="1"/>
<g stroke="#222" stroke-width="1"><path d="M6.6 270.4V274.4"/><path d="M22.5 270.4V274.4"/><path d="M38.0 270.4V274.4"/><path d="M53.5 270.4V274.4"/><path d="M69.0 270.4V274.4"/><path d="M85.8 270.4V274.4"/></g>
<text x="22.50" y="286.80" font-size="8.5" text-anchor="middle">0</text>
<text x="38.00" y="286.80" font-size="8.5" text-anchor="middle">1</text>
<text x="53.50" y="286.80" font-size="8.5" text-anchor="middle">10</text>
<text x="69.00" y="286.80" font-size="8.5" text-anchor="middle">100</text>
<text x="46.20" y="302.00" font-size="9.0" text-anchor="middle">TMB (mut/MB)</text>
<rect x="107.1" y="253.1" width="1.4" height="8.9" fill="#8aa0a8"/>
<rect x="108.5" y="253.1" width="1.7" height="8.9" fill="#7a6a60"/>
<rect x="110.2" y="253.1" width="1.7" height="8.9" fill="#8aa6a0"/>
<rect x="111.9" y="253.1" width="1.8" height="8.9" fill="#6cc9b7"/>
<rect x="113.7" y="253.1" width="3.4" height="8.9" fill="#8cc87a"/>
<rect x="117.1" y="253.1" width="1.2" height="8.9" fill="#a8a8a0"/>
<rect x="118.3" y="253.1" width="4.0" height="8.9" fill="#e31e24"/>
<rect x="122.3" y="253.1" width="1.7" height="8.9" fill="#f7a11a"/>
<rect x="124.0" y="253.1" width="2.3" height="8.9" fill="#f0b030"/>
<rect x="126.3" y="253.1" width="1.8" height="8.9" fill="#b0c890"/>
<rect x="128.1" y="253.1" width="1.7" height="8.9" fill="#f0a040"/>
<rect x="129.8" y="253.1" width="4.0" height="8.9" fill="#5cc2c0"/>
<rect x="133.8" y="253.1" width="5.8" height="8.9" fill="#e31e24"/>
<rect x="139.6" y="253.1" width="2.3" height="8.9" fill="#b8d438"/>
<rect x="141.9" y="253.1" width="2.9" height="8.9" fill="#8cc63f"/>
<rect x="144.8" y="253.1" width="1.7" height="8.9" fill="#f0e040"/>
<rect x="146.5" y="253.1" width="2.3" height="8.9" fill="#f7a11a"/>
<rect x="148.8" y="253.1" width="4.7" height="8.9" fill="#e8662a"/>
<rect x="153.5" y="253.1" width="2.3" height="8.9" fill="#f7a11a"/>
<rect x="155.8" y="253.1" width="1.7" height="8.9" fill="#d0d850"/>
<rect x="157.5" y="253.1" width="1.7" height="8.9" fill="#7dc142"/>
<rect x="159.2" y="253.1" width="2.3" height="8.9" fill="#a0a090"/>
<rect x="161.5" y="253.1" width="3.7" height="8.9" fill="#e8602a"/>
<rect x="165.2" y="253.1" width="2.9" height="8.9" fill="#f7a11a"/>
<rect x="168.1" y="253.1" width="1.7" height="8.9" fill="#70a0a8"/>
<rect x="169.8" y="253.1" width="1.7" height="8.9" fill="#7dc142"/>
<rect x="171.5" y="253.1" width="1.8" height="8.9" fill="#f0e030"/>
<rect x="173.3" y="253.1" width="1.7" height="8.9" fill="#6a7ab0"/>
<rect x="175.0" y="253.1" width="2.3" height="8.9" fill="#b8d438"/>
<rect x="177.3" y="253.1" width="2.3" height="8.9" fill="#a8a040"/>
<rect x="179.6" y="253.1" width="1.7" height="8.9" fill="#f7a11a"/>
<rect x="181.3" y="253.1" width="2.9" height="8.9" fill="#b8d438"/>
<rect x="184.2" y="253.1" width="1.8" height="8.9" fill="#f0a030"/>
<rect x="186.0" y="253.1" width="1.7" height="8.9" fill="#a8c840"/>
<rect x="187.7" y="253.1" width="3.5" height="8.9" fill="#d0e060"/>
<rect x="191.2" y="253.1" width="3.4" height="8.9" fill="#a8b040"/>
<rect x="194.6" y="253.1" width="3.4" height="8.9" fill="#b8d438"/>
<rect x="198.0" y="253.1" width="8.2" height="8.9" fill="#a8cc40"/>
<rect x="206.2" y="253.1" width="2.3" height="8.9" fill="#d0e070"/>
<rect x="208.5" y="253.1" width="9.4" height="8.9" fill="#7dc142"/>
<rect x="217.9" y="253.1" width="1.1" height="8.9" fill="#404a60"/>
<rect x="219.0" y="253.1" width="3.5" height="8.9" fill="#3d47a6"/>
<rect x="222.5" y="253.1" width="1.7" height="8.9" fill="#4a8ab0"/>
<rect x="224.2" y="253.1" width="2.3" height="8.9" fill="#6ab0c8"/>
<rect x="226.5" y="253.1" width="4.7" height="8.9" fill="#e0207f"/>
<rect x="231.2" y="253.1" width="2.8" height="8.9" fill="#b84aa5"/>
<rect x="234.0" y="253.1" width="2.3" height="8.9" fill="#2a6070"/>
<rect x="236.3" y="253.1" width="1.7" height="8.9" fill="#45a0b0"/>
<rect x="238.0" y="253.1" width="1.8" height="8.9" fill="#4a9a90"/>
<rect x="239.8" y="253.1" width="2.9" height="8.9" fill="#5cbfa8"/>
<rect x="242.7" y="253.1" width="2.3" height="8.9" fill="#a08a50"/>
<rect x="245.0" y="253.1" width="4.6" height="8.9" fill="#5cb85c"/>
<rect x="249.6" y="253.1" width="3.4" height="8.9" fill="#90d080"/>
<rect x="253.0" y="253.1" width="2.4" height="8.9" fill="#90a040"/>
<rect x="255.4" y="253.1" width="5.8" height="8.9" fill="#3d5fb0"/>
<rect x="261.2" y="253.1" width="2.3" height="8.9" fill="#304080"/>
<rect x="263.5" y="253.1" width="2.3" height="8.9" fill="#80a040"/>
<rect x="265.8" y="253.1" width="2.2" height="8.9" fill="#5cb85c"/>
<rect x="268.0" y="253.1" width="3.5" height="8.9" fill="#3d47a6"/>
<rect x="271.5" y="253.1" width="3.1" height="8.9" fill="#6a80b0"/>
<rect x="274.6" y="253.1" width="1.7" height="8.9" fill="#303a70"/>
<rect x="276.3" y="253.1" width="1.7" height="8.9" fill="#4aa0a0"/>
<rect x="278.0" y="253.1" width="2.4" height="8.9" fill="#60b080"/>
<rect x="280.4" y="253.1" width="4.6" height="8.9" fill="#3b6fc0"/>
<rect x="285.0" y="253.1" width="5.2" height="8.9" fill="#5a4aa8"/>
<rect x="290.2" y="253.1" width="5.8" height="8.9" fill="#3a2a40"/>
<rect x="296.0" y="253.1" width="7.5" height="8.9" fill="#4050a8"/>
<rect x="303.5" y="253.1" width="1.1" height="8.9" fill="#c0a080"/>
<rect x="304.6" y="253.1" width="4.6" height="8.9" fill="#e09070"/>
<rect x="309.2" y="253.1" width="5.8" height="8.9" fill="#e62090"/>
<rect x="315.0" y="253.1" width="3.5" height="8.9" fill="#a04a9a"/>
<rect x="318.5" y="253.1" width="2.3" height="8.9" fill="#f0f0f0"/>
<rect x="320.8" y="253.1" width="1.2" height="8.9" fill="#999999"/>
<rect x="322.0" y="253.1" width="1.0" height="8.9" fill="#606060"/>
<rect x="323.0" y="253.1" width="1.2" height="8.9" fill="#a0a0a0"/>
<rect x="324.2" y="253.1" width="2.3" height="8.9" fill="#d0d0d0"/>
<rect x="326.5" y="253.1" width="1.5" height="8.9" fill="#505050"/>
<rect x="328.0" y="253.1" width="1.3" height="8.9" fill="#909090"/>
<rect x="329.3" y="253.1" width="2.2" height="8.9" fill="#303030"/>
<rect x="331.5" y="253.1" width="3.5" height="8.9" fill="#e8e8e8"/>
<rect x="335.0" y="253.1" width="4.4" height="8.9" fill="#b8bcc8"/>
<rect x="339.4" y="253.1" width="1.6" height="8.9" fill="#5a3a3a"/>
<rect x="341.0" y="253.1" width="2.0" height="8.9" fill="#c07090"/>
<rect x="343.0" y="253.1" width="5.0" height="8.9" fill="#b070c0"/>
<rect x="348.0" y="253.1" width="3.7" height="8.9" fill="#c8b0d8"/>
<rect x="351.7" y="253.1" width="2.9" height="8.9" fill="#f0f0f0"/>
<rect x="354.6" y="253.1" width="3.6" height="8.9" fill="#5a4a30"/>
<rect x="358.2" y="253.1" width="2.8" height="8.9" fill="#6a4aa8"/>
<rect x="361.0" y="253.1" width="3.7" height="8.9" fill="#b0a090"/>
<rect x="364.7" y="253.1" width="6.3" height="8.9" fill="#7a5ab0"/>
<rect x="371.0" y="253.1" width="3.8" height="8.9" fill="#a060a8"/>
<rect x="374.8" y="253.1" width="5.0" height="8.9" fill="#d04060"/>
<rect x="379.8" y="253.1" width="4.3" height="8.9" fill="#8a5ab0"/>
<rect x="384.1" y="253.1" width="5.8" height="8.9" fill="#6a4aa8"/>
<rect x="389.9" y="253.1" width="2.9" height="8.9" fill="#3a2a30"/>
<rect x="392.8" y="253.1" width="2.9" height="8.9" fill="#c09060"/>
<rect x="395.7" y="253.1" width="3.1" height="8.9" fill="#5a3a30"/>
<rect x="107.0" y="262.0" width="291.8" height="9.4" fill="#ffffff"/>
<rect x="107.1" y="262.0" width="2.5" height="9.4" fill="#a8a8a8"/>
<rect x="109.6" y="262.0" width="2.4" height="9.4" fill="#e0e0e0"/>
<rect x="112.5" y="262.0" width="2.1" height="9.4" fill="#333333"/>
<rect x="114.6" y="262.0" width="0.7" height="9.4" fill="#888888"/>
<rect x="115.3" y="262.0" width="2.4" height="9.4" fill="#333333"/>
<rect x="129.2" y="262.0" width="4.1" height="9.4" fill="#2a2a2a"/>
<rect x="159.2" y="262.0" width="1.2" height="9.4" fill="#b0b0b0"/>
<rect x="161.5" y="262.0" width="0.7" height="9.4" fill="#c0c0c0"/>
<rect x="168.0" y="262.0" width="0.8" height="9.4" fill="#c0c0c0"/>
<rect x="172.0" y="262.0" width="0.7" height="9.4" fill="#c8c8c8"/>
<rect x="194.3" y="262.0" width="0.9" height="9.4" fill="#c0c0c0"/>
<rect x="196.0" y="262.0" width="1.0" height="9.4" fill="#c8c8c8"/>
<rect x="208.5" y="262.0" width="5.5" height="9.4" fill="#c0c0c8"/>
<rect x="216.0" y="262.0" width="2.5" height="9.4" fill="#c0c0c0"/>
<rect x="215.0" y="262.0" width="2.0" height="9.4" fill="#d0d0d0"/>
<rect x="240.0" y="262.0" width="1.0" height="9.4" fill="#c0c0c0"/>
<rect x="243.0" y="262.0" width="3.0" height="9.4" fill="#d0d0d0"/>
<rect x="250.0" y="262.0" width="1.0" height="9.4" fill="#c0c0c0"/>
<rect x="262.0" y="262.0" width="1.0" height="9.4" fill="#c0c0c0"/>
<rect x="268.0" y="262.0" width="0.8" height="9.4" fill="#c8c8c8"/>
<rect x="271.0" y="262.0" width="0.8" height="9.4" fill="#d0d0d0"/>
<rect x="276.5" y="262.0" width="0.8" height="9.4" fill="#d0d0d0"/>
<rect x="281.0" y="262.0" width="0.8" height="9.4" fill="#d0d0d0"/>
<rect x="291.0" y="262.0" width="1.0" height="9.4" fill="#d0d0d0"/>
<rect x="299.0" y="262.0" width="1.0" height="9.4" fill="#d0d0d0"/>
<rect x="314.0" y="262.0" width="1.0" height="9.4" fill="#d8d8d8"/>
<rect x="331.0" y="262.0" width="1.0" height="9.4" fill="#d0d0d0"/>
<rect x="338.0" y="262.0" width="1.0" height="9.4" fill="#d0d0d0"/>
<rect x="348.0" y="262.0" width="1.0" height="9.4" fill="#d0d0d0"/>
<rect x="352.0" y="262.0" width="1.0" height="9.4" fill="#d0d0d0"/>
<rect x="360.0" y="262.0" width="1.0" height="9.4" fill="#c8c8c8"/>
<rect x="366.0" y="262.0" width="1.0" height="9.4" fill="#d0d0d0"/>
<rect x="378.0" y="262.0" width="1.0" height="9.4" fill="#d0d0d0"/>
<rect x="393.0" y="262.0" width="1.0" height="9.4" fill="#d0d0d0"/>
<rect x="107.0" y="271.4" width="291.8" height="9.4" fill="#bcbcbc"/>
<rect x="107.1" y="271.4" width="1.9" height="9.4" fill="#222222"/>
<rect x="110.8" y="271.4" width="1.7" height="9.4" fill="#555555"/>
<rect x="122.3" y="271.4" width="0.7" height="9.4" fill="#a0a0a0"/>
<rect x="128.5" y="271.4" width="0.8" height="9.4" fill="#909090"/>
<rect x="151.0" y="271.4" width="0.8" height="9.4" fill="#a0a0a0"/>
<rect x="168.3" y="271.4" width="0.8" height="9.4" fill="#444444"/>
<rect x="180.9" y="271.4" width="0.8" height="9.4" fill="#444444"/>
<rect x="219.2" y="271.4" width="0.8" height="9.4" fill="#444444"/>
<rect x="237.1" y="271.4" width="0.8" height="9.4" fill="#444444"/>
<rect x="330.4" y="271.4" width="0.8" height="9.4" fill="#666666"/>
<rect x="381.6" y="271.4" width="0.8" height="9.4" fill="#888888"/>
<rect x="107.0" y="281.6" width="291.8" height="8.7" fill="#e31e24"/>
<rect x="107.1" y="281.6" width="2.5" height="8.7" fill="#f5e030"/>
<rect x="109.6" y="281.6" width="26.6" height="8.7" fill="#f7a11a"/>
<rect x="136.2" y="281.6" width="1.1" height="8.7" fill="#a01a1a"/>
<rect x="137.3" y="281.6" width="5.7" height="8.7" fill="#f7a11a"/>
<rect x="143.0" y="281.6" width="1.8" height="8.7" fill="#e8302a"/>
<rect x="144.8" y="281.6" width="1.7" height="8.7" fill="#f7a11a"/>
<rect x="146.5" y="281.6" width="2.3" height="8.7" fill="#e8302a"/>
<rect x="148.8" y="281.6" width="4.7" height="8.7" fill="#f79a1a"/>
<rect x="153.5" y="281.6" width="2.3" height="8.7" fill="#e31e24"/>
<rect x="155.8" y="281.6" width="1.7" height="8.7" fill="#f08a1a"/>
<rect x="157.5" y="281.6" width="1.7" height="8.7" fill="#e8402a"/>
<rect x="159.2" y="281.6" width="2.3" height="8.7" fill="#f07a1a"/>
<rect x="161.5" y="281.6" width="1.0" height="8.7" fill="#e8302a"/>
<rect x="162.5" y="281.6" width="1.5" height="8.7" fill="#f0801a"/>
<rect x="165.0" y="281.6" width="1.0" height="8.7" fill="#f06a20"/>
<rect x="167.5" y="281.6" width="1.0" height="8.7" fill="#f08a20"/>
<rect x="170.0" y="281.6" width="1.0" height="8.7" fill="#f06020"/>
<rect x="173.0" y="281.6" width="1.0" height="8.7" fill="#e84a24"/>
<rect x="223.0" y="281.6" width="0.6" height="8.7" fill="#f04a24"/>
<rect x="252.3" y="281.6" width="0.6" height="8.7" fill="#f04a24"/>
<rect x="266.0" y="281.6" width="0.6" height="8.7" fill="#f04a24"/>
<rect x="290.0" y="281.6" width="3.0" height="8.7" fill="#a01a1a"/>
<rect x="300.0" y="281.6" width="2.0" height="8.7" fill="#b01a1a"/>
<rect x="310.0" y="281.6" width="2.0" height="8.7" fill="#b81a1e"/>
<rect x="314.0" y="281.6" width="2.0" height="8.7" fill="#a81a1e"/>
<rect x="318.0" y="281.6" width="12.0" height="8.7" fill="#9a1a1a"/>
<rect x="330.0" y="281.6" width="1.0" height="8.7" fill="#f07a20"/>
<rect x="331.0" y="281.6" width="29.0" height="8.7" fill="#a41a1c"/>
<rect x="336.0" y="281.6" width="2.0" height="8.7" fill="#c01a20"/>
<rect x="344.0" y="281.6" width="2.0" height="8.7" fill="#c81a20"/>
<rect x="352.0" y="281.6" width="3.0" height="8.7" fill="#b01a1e"/>
<rect x="390.0" y="281.6" width="2.0" height="8.7" fill="#b81a1e"/>
<rect x="395.0" y="281.6" width="3.8" height="8.7" fill="#c01a1e"/>
<rect x="107.0" y="293.8" width="291.8" height="197.21" fill="#bdbdbd"/>
<g>
<rect x="158.0" y="293.80" width="1.5" height="7.58" fill="#cca0a6"/>
<rect x="237.0" y="293.80" width="1.6" height="7.58" fill="#8b2a3a"/>
<rect x="318.0" y="293.80" width="1.0" height="22.75" fill="#bc7880"/>
<rect x="322.3" y="293.80" width="0.9" height="15.17" fill="#bc7880"/>
<rect x="228.0" y="301.38" width="1.0" height="7.58" fill="#bc7880"/>
<rect x="250.0" y="301.38" width="1.0" height="7.58" fill="#bc7880"/>
<rect x="268.0" y="301.38" width="1.0" height="7.58" fill="#bc7880"/>
<rect x="357.0" y="301.38" width="1.0" height="7.58" fill="#bc7880"/>
<rect x="160.0" y="316.56" width="1.0" height="7.58" fill="#cca0a6"/>
<rect x="198.0" y="316.56" width="1.2" height="7.58" fill="#a05060"/>
<rect x="222.0" y="316.56" width="1.0" height="15.17" fill="#bc7880"/>
<rect x="228.0" y="316.56" width="1.0" height="7.58" fill="#a05060"/>
<rect x="230.0" y="316.56" width="1.0" height="7.58" fill="#bc7880"/>
<rect x="303.0" y="316.56" width="1.5" height="7.58" fill="#8b2a3a"/>
<rect x="310.0" y="316.56" width="1.2" height="7.58" fill="#a04050"/>
<rect x="314.0" y="316.56" width="1.2" height="7.58" fill="#a04050"/>
<rect x="317.5" y="316.56" width="1.2" height="7.58" fill="#a04050"/>
<rect x="321.5" y="316.56" width="1.0" height="7.58" fill="#bc7880"/>
<rect x="342.0" y="316.56" width="1.0" height="7.58" fill="#bc7880"/>
<rect x="349.5" y="316.56" width="1.0" height="22.75" fill="#bc7880"/>
<rect x="374.3" y="316.56" width="1.7" height="7.58" fill="#8b1a3a"/>
<rect x="109.0" y="324.14" width="1.5" height="15.17" fill="#c06070"/>
<rect x="118.2" y="324.14" width="4.6" height="7.58" fill="#b0142a"/>
<rect x="118.2" y="331.73" width="4.6" height="7.58" fill="#c05060"/>
<rect x="134.8" y="324.14" width="5.4" height="7.58" fill="#8b1a2a"/>
<rect x="134.8" y="331.73" width="5.4" height="7.58" fill="#b06060"/>
<rect x="254.0" y="324.14" width="1.2" height="7.58" fill="#a05060"/>
<rect x="326.0" y="324.14" width="4.0" height="7.58" fill="#cca0a6"/>
<rect x="181.5" y="339.31" width="1.0" height="7.58" fill="#bc7880"/>
<rect x="192.0" y="339.31" width="1.0" height="7.58" fill="#bc7880"/>
<rect x="197.0" y="339.31" width="1.0" height="7.58" fill="#bc7880"/>
<rect x="289.5" y="339.31" width="1.0" height="7.58" fill="#bc7880"/>
<rect x="293.0" y="339.31" width="1.0" height="7.58" fill="#bc7880"/>
<rect x="303.0" y="339.31" width="1.0" height="7.58" fill="#bc7880"/>
<rect x="305.5" y="339.31" width="1.0" height="7.58" fill="#bc7880"/>
<rect x="311.5" y="339.31" width="1.0" height="7.58" fill="#bc7880"/>
<rect x="318.0" y="339.31" width="1.0" height="7.58" fill="#bc7880"/>
<rect x="325.0" y="339.31" width="1.0" height="7.58" fill="#bc7880"/>
<rect x="326.5" y="339.31" width="1.0" height="7.58" fill="#bc7880"/>
<rect x="340.0" y="339.31" width="1.0" height="7.58" fill="#bc7880"/>
<rect x="345.0" y="339.31" width="1.0" height="7.58" fill="#bc7880"/>
<rect x="349.0" y="339.31" width="1.0" height="7.58" fill="#bc7880"/>
<rect x="365.0" y="339.31" width="1.0" height="7.58" fill="#bc7880"/>
<rect x="374.0" y="339.31" width="1.0" height="7.58" fill="#bc7880"/>
<rect x="377.0" y="339.31" width="1.0" height="7.58" fill="#bc7880"/>
<rect x="228.0" y="339.31" width="1.5" height="7.58" fill="#8b3a4a"/>
<rect x="277.0" y="339.31" width="1.5" height="7.58" fill="#c0303a"/>
<rect x="309.0" y="339.31" width="1.3" height="7.58" fill="#8b2a3a"/>
<rect x="313.0" y="339.31" width="1.3" height="7.58" fill="#8b2a3a"/>
<rect x="391.0" y="339.31" width="1.6" height="7.58" fill="#a01a2a"/>
<rect x="172.5" y="354.48" width="3.8" height="7.58" fill="#e41c24"/>
<rect x="227.0" y="354.48" width="7.6" height="7.58" fill="#e8141c"/>
<rect x="309.8" y="354.48" width="4.4" height="7.58" fill="#a0142a"/>
<rect x="206.0" y="354.48" width="1.0" height="7.58" fill="#cca0a6"/>
<rect x="115.5" y="362.06" width="3.9" height="7.58" fill="#f0b060"/>
<rect x="130.0" y="362.06" width="1.0" height="7.58" fill="#bc7880"/>
<rect x="260.0" y="362.06" width="0.9" height="15.17" fill="#cca0a6"/>
<rect x="305.0" y="362.06" width="0.9" height="15.17" fill="#cca0a6"/>
<rect x="311.0" y="362.06" width="0.9" height="15.17" fill="#cca0a6"/>
<rect x="318.0" y="362.06" width="0.9" height="15.17" fill="#cca0a6"/>
<rect x="327.0" y="362.06" width="0.9" height="15.17" fill="#cca0a6"/>
<rect x="333.0" y="362.06" width="0.9" height="15.17" fill="#cca0a6"/>
<rect x="337.0" y="362.06" width="0.9" height="15.17" fill="#cca0a6"/>
<rect x="341.0" y="362.06" width="0.9" height="15.17" fill="#cca0a6"/>
<rect x="348.0" y="362.06" width="0.9" height="15.17" fill="#cca0a6"/>
<rect x="365.0" y="362.06" width="0.9" height="15.17" fill="#cca0a6"/>
<rect x="377.0" y="362.06" width="0.9" height="15.17" fill="#cca0a6"/>
<rect x="161.0" y="384.82" width="1.0" height="7.58" fill="#bc7880"/>
<rect x="167.0" y="384.82" width="1.5" height="7.58" fill="#c02030"/>
<rect x="174.0" y="384.82" width="1.0" height="7.58" fill="#bc7880"/>
<rect x="194.3" y="384.82" width="1.7" height="7.58" fill="#c0182a"/>
<rect x="206.5" y="384.82" width="1.5" height="7.58" fill="#d0202a"/>
<rect x="223.0" y="384.82" width="1.0" height="7.58" fill="#cca0a6"/>
<rect x="234.5" y="384.82" width="2.0" height="7.58" fill="#d0182a"/>
<rect x="246.0" y="384.82" width="1.0" height="7.58" fill="#a05060"/>
<rect x="255.0" y="384.82" width="1.0" height="7.58" fill="#cca0a6"/>
<rect x="262.0" y="384.82" width="1.0" height="7.58" fill="#bc7880"/>
<rect x="276.0" y="384.82" width="1.0" height="7.58" fill="#bc7880"/>
<rect x="285.0" y="384.82" width="1.0" height="7.58" fill="#bc7880"/>
<rect x="292.0" y="384.82" width="1.0" height="7.58" fill="#bc7880"/>
<rect x="294.5" y="384.82" width="1.0" height="7.58" fill="#bc7880"/>
<rect x="313.7" y="384.82" width="3.3" height="7.58" fill="#c01a2a"/>
<rect x="320.6" y="384.82" width="3.9" height="7.58" fill="#7a1a2a"/>
<rect x="333.0" y="384.82" width="6.2" height="7.58" fill="#7a1020"/>
<rect x="349.2" y="384.82" width="1.4" height="7.58" fill="#9a1a2a"/>
<rect x="371.0" y="384.82" width="1.0" height="7.58" fill="#cca0a6"/>
<rect x="386.0" y="384.82" width="1.0" height="7.58" fill="#cca0a6"/>
<rect x="392.0" y="384.82" width="1.0" height="7.58" fill="#cca0a6"/>
<rect x="117.0" y="392.41" width="1.0" height="7.58" fill="#cca0a6"/>
<rect x="288.5" y="392.41" width="1.0" height="22.75" fill="#bc7880"/>
<rect x="321.0" y="392.41" width="1.0" height="15.17" fill="#a05060"/>
<rect x="112.5" y="399.99" width="2.3" height="7.58" fill="#f5a21e"/>
<rect x="132.5" y="399.99" width="1.5" height="7.58" fill="#f0b060"/>
<rect x="168.6" y="407.58" width="3.9" height="7.58" fill="#e84a1a"/>
<rect x="206.9" y="407.58" width="20.0" height="7.58" fill="#e8201c"/>
<rect x="268.3" y="407.58" width="18.7" height="7.58" fill="#e8201c"/>
<rect x="287.0" y="407.58" width="8.0" height="7.58" fill="#b81a2a"/>
<rect x="295.0" y="407.58" width="7.9" height="7.58" fill="#e02020"/>
<rect x="325.0" y="407.58" width="1.5" height="15.17" fill="#a01a2a"/>
<rect x="116.3" y="415.16" width="1.7" height="7.58" fill="#f5a21e"/>
<rect x="130.0" y="415.16" width="2.0" height="7.58" fill="#e0303a"/>
<rect x="343.0" y="415.16" width="1.5" height="7.58" fill="#8b1a2a"/>
<rect x="337.0" y="415.16" width="1.0" height="7.58" fill="#cca0a6"/>
<rect x="375.5" y="415.16" width="1.5" height="10.62" fill="#8b1a2a"/>
<rect x="122.5" y="422.75" width="2.3" height="15.17" fill="#f5a21e"/>
<rect x="124.8" y="422.75" width="3.0" height="15.17" fill="#c0302a"/>
<rect x="134.0" y="422.75" width="1.0" height="15.17" fill="#8b1a1a"/>
<rect x="140.2" y="422.75" width="1.5" height="15.17" fill="#f5a21e"/>
<rect x="141.7" y="422.75" width="5.3" height="15.17" fill="#e41c24"/>
<rect x="147.0" y="422.75" width="3.0" height="15.17" fill="#d0a0a0"/>
<rect x="150.0" y="422.75" width="3.2" height="15.17" fill="#9a3a3a"/>
<rect x="153.2" y="422.75" width="2.8" height="15.17" fill="#e41c24"/>
<rect x="156.0" y="422.75" width="2.0" height="15.17" fill="#8b1a1a"/>
<rect x="158.0" y="422.75" width="5.0" height="15.17" fill="#e41c24"/>
<rect x="163.0" y="422.75" width="3.0" height="15.17" fill="#a01a1a"/>
<rect x="166.0" y="422.75" width="2.0" height="15.17" fill="#d08080"/>
<rect x="168.0" y="422.75" width="4.0" height="15.17" fill="#c01a24"/>
<rect x="173.2" y="422.75" width="21.4" height="15.17" fill="#e41c24"/>
<rect x="194.6" y="422.75" width="3.4" height="15.17" fill="#d0a0a0"/>
<rect x="198.0" y="422.75" width="2.0" height="15.17" fill="#a01a2a"/>
<rect x="200.0" y="422.75" width="3.0" height="15.17" fill="#e41c24"/>
<rect x="203.0" y="422.75" width="1.6" height="15.17" fill="#8b1a2a"/>
<rect x="212.5" y="422.75" width="0.8" height="15.17" fill="#bc7880"/>
<rect x="217.5" y="422.75" width="1.0" height="15.17" fill="#bc7880"/>
<rect x="229.2" y="422.75" width="1.0" height="15.17" fill="#8b1a2a"/>
<rect x="230.2" y="422.75" width="3.8" height="15.17" fill="#cca0a6"/>
<rect x="235.5" y="422.75" width="1.0" height="15.17" fill="#8b1a2a"/>
<rect x="238.0" y="422.75" width="1.0" height="15.17" fill="#bc7880"/>
<rect x="240.0" y="422.75" width="1.0" height="15.17" fill="#bc7880"/>
<rect x="252.3" y="422.75" width="2.7" height="15.17" fill="#8b1a2a"/>
<rect x="256.5" y="422.75" width="1.0" height="15.17" fill="#bc7880"/>
<rect x="259.0" y="422.75" width="1.0" height="15.17" fill="#bc7880"/>
<rect x="258.5" y="422.75" width="1.0" height="15.17" fill="#8b1a2a"/>
<rect x="262.5" y="422.75" width="1.0" height="15.17" fill="#8b1a2a"/>
<rect x="265.0" y="422.75" width="1.0" height="15.17" fill="#cca0a6"/>
<rect x="277.0" y="422.75" width="0.8" height="15.17" fill="#bc7880"/>
<rect x="285.0" y="422.75" width="0.8" height="15.17" fill="#cca0a6"/>
<rect x="288.5" y="422.75" width="0.8" height="15.17" fill="#bc7880"/>
<rect x="292.0" y="422.75" width="0.8" height="15.17" fill="#cca0a6"/>
<rect x="294.0" y="422.75" width="0.8" height="15.17" fill="#bc7880"/>
<rect x="297.0" y="422.75" width="0.8" height="15.17" fill="#cca0a6"/>
<rect x="300.0" y="422.75" width="0.8" height="15.17" fill="#cca0a6"/>
<rect x="304.0" y="422.75" width="1.0" height="15.17" fill="#8b1a2a"/>
<rect x="306.0" y="422.75" width="4.0" height="15.17" fill="#8b1a2a"/>
<rect x="311.5" y="422.75" width="1.0" height="15.17" fill="#bc7880"/>
<rect x="313.5" y="422.75" width="1.0" height="15.17" fill="#bc7880"/>
<rect x="317.5" y="422.75" width="1.0" height="15.17" fill="#8b1a2a"/>
<rect x="319.0" y="422.75" width="1.0" height="15.17" fill="#cca0a6"/>
<rect x="322.0" y="422.75" width="1.0" height="15.17" fill="#bc7880"/>
<rect x="324.0" y="422.75" width="1.0" height="15.17" fill="#cca0a6"/>
<rect x="326.0" y="422.75" width="1.0" height="15.17" fill="#bc7880"/>
<rect x="329.0" y="422.75" width="2.0" height="15.17" fill="#cca0a6"/>
<rect x="333.0" y="422.75" width="1.0" height="15.17" fill="#bc7880"/>
<rect x="335.0" y="422.75" width="1.0" height="15.17" fill="#bc7880"/>
<rect x="336.5" y="422.75" width="1.0" height="15.17" fill="#8b1a2a"/>
<rect x="344.0" y="422.75" width="4.0" height="15.17" fill="#a04848"/>
<rect x="348.0" y="422.75" width="4.0" height="15.17" fill="#d09098"/>
<rect x="356.0" y="422.75" width="1.0" height="15.17" fill="#8b1a2a"/>
<rect x="358.0" y="422.75" width="1.0" height="15.17" fill="#bc7880"/>
<rect x="362.0" y="422.75" width="4.0" height="15.17" fill="#8b1a2a"/>
<rect x="369.5" y="422.75" width="1.0" height="15.17" fill="#8b1a2a"/>
<rect x="374.0" y="422.75" width="1.0" height="15.17" fill="#cca0a6"/>
<rect x="376.0" y="422.75" width="1.0" height="15.17" fill="#bc7880"/>
<rect x="383.0" y="422.75" width="1.0" height="15.17" fill="#bc7880"/>
<rect x="388.0" y="422.75" width="3.0" height="15.17" fill="#8b1a2a"/>
<rect x="393.0" y="422.75" width="1.0" height="15.17" fill="#bc7880"/>
<rect x="124.0" y="437.92" width="3.8" height="7.58" fill="#f5a21e"/>
<rect x="147.0" y="437.92" width="3.0" height="7.58" fill="#f5a21e"/>
<rect x="150.0" y="437.92" width="7.8" height="7.58" fill="#e8201c"/>
<rect x="289.5" y="437.92" width="0.9" height="22.75" fill="#cca0a6"/>
<rect x="296.0" y="437.92" width="0.9" height="22.75" fill="#cca0a6"/>
<rect x="300.0" y="437.92" width="0.9" height="22.75" fill="#cca0a6"/>
<rect x="347.5" y="437.92" width="0.9" height="22.75" fill="#cca0a6"/>
<rect x="373.5" y="437.92" width="0.9" height="22.75" fill="#cca0a6"/>
<rect x="222.5" y="445.50" width="0.9" height="15.17" fill="#cca0a6"/>
<rect x="238.0" y="445.50" width="0.9" height="15.17" fill="#cca0a6"/>
<rect x="254.0" y="445.50" width="0.9" height="15.17" fill="#cca0a6"/>
<rect x="306.0" y="445.50" width="0.9" height="15.17" fill="#cca0a6"/>
<rect x="318.0" y="445.50" width="0.9" height="15.17" fill="#cca0a6"/>
<rect x="362.5" y="445.50" width="0.9" height="15.17" fill="#cca0a6"/>
<rect x="233.0" y="460.67" width="0.9" height="15.17" fill="#cca0a6"/>
<rect x="251.0" y="460.67" width="0.9" height="15.17" fill="#cca0a6"/>
<rect x="320.0" y="460.67" width="0.9" height="15.17" fill="#cca0a6"/>
<rect x="327.0" y="460.67" width="0.9" height="15.17" fill="#cca0a6"/>
<rect x="332.0" y="460.67" width="0.9" height="15.17" fill="#cca0a6"/>
<rect x="338.0" y="460.67" width="0.9" height="15.17" fill="#cca0a6"/>
<rect x="340.0" y="460.67" width="0.9" height="15.17" fill="#cca0a6"/>
<rect x="345.0" y="460.67" width="0.9" height="15.17" fill="#cca0a6"/>
<rect x="351.0" y="460.67" width="0.9" height="15.17" fill="#cca0a6"/>
<rect x="355.0" y="460.67" width="0.9" height="15.17" fill="#cca0a6"/>
<rect x="377.0" y="460.67" width="0.9" height="15.17" fill="#cca0a6"/>
<rect x="391.0" y="460.67" width="0.9" height="15.17" fill="#cca0a6"/>
<rect x="118.6" y="445.50" width="4.6" height="15.17" fill="#f5a21e"/>
<rect x="134.8" y="445.50" width="5.4" height="7.58" fill="#f07020"/>
<rect x="134.8" y="453.09" width="5.4" height="7.58" fill="#e81c24"/>
<rect x="110.0" y="445.50" width="1.0" height="15.17" fill="#f0c080"/>
<rect x="107.0" y="415.16" width="1.6" height="53.09" fill="#f0e060"/>
</g>
<rect x="107.0" y="475.84" width="5.0" height="7.58" fill="#e8501c"/>
<rect x="112.0" y="475.84" width="6.0" height="7.58" fill="#f5a21e"/>
<rect x="118.0" y="475.84" width="2.0" height="7.58" fill="#e41c24"/>
<rect x="120.0" y="475.84" width="4.0" height="7.58" fill="#8b1a1a"/>
<rect x="124.0" y="475.84" width="6.0" height="7.58" fill="#d01c24"/>
<rect x="130.0" y="475.84" width="3.0" height="7.58" fill="#f5a21e"/>
<rect x="133.0" y="475.84" width="4.0" height="7.58" fill="#e41c24"/>
<rect x="137.0" y="475.84" width="6.0" height="7.58" fill="#8b1a1a"/>
<rect x="143.0" y="475.84" width="7.0" height="7.58" fill="#e41c24"/>
<rect x="150.0" y="475.84" width="10.0" height="7.58" fill="#8b1a1a"/>
<rect x="160.0" y="475.84" width="5.0" height="7.58" fill="#e41c24"/>
<rect x="165.0" y="475.84" width="5.0" height="7.58" fill="#a01a1a"/>
<rect x="170.0" y="475.84" width="6.0" height="7.58" fill="#8b1a1a"/>
<rect x="176.0" y="475.84" width="8.0" height="7.58" fill="#c01a20"/>
<rect x="184.0" y="475.84" width="8.0" height="7.58" fill="#a01a1a"/>
<rect x="192.0" y="475.84" width="5.0" height="7.58" fill="#e41c24"/>
<rect x="197.0" y="475.84" width="6.0" height="7.58" fill="#8b1a1a"/>
<rect x="203.0" y="475.84" width="9.0" height="7.58" fill="#e41c24"/>
<rect x="212.0" y="475.84" width="5.0" height="7.58" fill="#8b1a1a"/>
<rect x="217.0" y="475.84" width="5.0" height="7.58" fill="#e41c24"/>
<rect x="222.0" y="475.84" width="7.0" height="7.58" fill="#9a1a1a"/>
<rect x="229.0" y="475.84" width="6.0" height="7.58" fill="#b83a3a"/>
<rect x="235.0" y="475.84" width="2.0" height="7.58" fill="#e0b0b0"/>
<rect x="237.0" y="475.84" width="13.0" height="7.58" fill="#e41c24"/>
<rect x="250.0" y="475.84" width="6.0" height="7.58" fill="#8b1a1a"/>
<rect x="256.0" y="475.84" width="6.0" height="7.58" fill="#8b1a1a"/>
<rect x="262.0" y="475.84" width="4.0" height="7.58" fill="#e41c24"/>
<rect x="266.0" y="475.84" width="10.0" height="7.58" fill="#8b1a1a"/>
<rect x="276.0" y="475.84" width="6.0" height="7.58" fill="#e41c24"/>
<rect x="282.0" y="475.84" width="10.0" height="7.58" fill="#8b1a1a"/>
<rect x="292.0" y="475.84" width="8.0" height="7.58" fill="#e41c24"/>
<rect x="300.0" y="475.84" width="6.0" height="7.58" fill="#8b1a1a"/>
<rect x="306.0" y="475.84" width="3.0" height="7.58" fill="#e41c24"/>
<rect x="309.0" y="475.84" width="3.0" height="7.58" fill="#8b1a1a"/>
<rect x="312.0" y="475.84" width="3.0" height="7.58" fill="#e41c24"/>
<rect x="315.0" y="475.84" width="3.0" height="7.58" fill="#8b1a1a"/>
<rect x="318.0" y="475.84" width="14.0" height="7.58" fill="#9a1a2a"/>
<rect x="332.0" y="475.84" width="2.0" height="7.58" fill="#e0a0a0"/>
<rect x="334.0" y="475.84" width="9.0" height="7.58" fill="#a01a24"/>
<rect x="343.0" y="475.84" width="3.0" height="7.58" fill="#e0a0a0"/>
<rect x="346.0" y="475.84" width="5.0" height="7.58" fill="#a01a24"/>
<rect x="351.0" y="475.84" width="2.0" height="7.58" fill="#e0a0a0"/>
<rect x="353.0" y="475.84" width="45.8" height="7.58" fill="#9a1a24"/>
<rect x="362.0" y="475.84" width="4.0" height="7.58" fill="#b81a20"/>
<rect x="375.0" y="475.84" width="3.0" height="7.58" fill="#b81a20"/>
<rect x="388.0" y="475.84" width="4.0" height="7.58" fill="#c01a20"/>
<rect x="107.0" y="483.43" width="11.0" height="7.58" fill="#f5b020"/>
<rect x="118.0" y="483.43" width="7.0" height="7.58" fill="#e41c24"/>
<rect x="125.0" y="483.43" width="7.0" height="7.58" fill="#f5a21e"/>
<rect x="132.0" y="483.43" width="8.0" height="7.58" fill="#e41c24"/>
<rect x="140.0" y="483.43" width="7.0" height="7.58" fill="#f07020"/>
<rect x="147.0" y="483.43" width="10.0" height="7.58" fill="#e41c24"/>
<rect x="157.0" y="483.43" width="9.0" height="7.58" fill="#f5a21e"/>
<rect x="166.0" y="483.43" width="6.0" height="7.58" fill="#f5c030"/>
<rect x="172.0" y="483.43" width="42.0" height="7.58" fill="#e41c24"/>
<rect x="200.0" y="483.43" width="4.0" height="7.58" fill="#c01a20"/>
<rect x="214.0" y="483.43" width="6.0" height="7.58" fill="#e8b0b0"/>
<rect x="220.0" y="483.43" width="8.0" height="7.58" fill="#e41c24"/>
<rect x="228.0" y="483.43" width="4.0" height="7.58" fill="#e8b8b8"/>
<rect x="232.0" y="483.43" width="24.0" height="7.58" fill="#e41c24"/>
<rect x="256.0" y="483.43" width="12.0" height="7.58" fill="#e41c24"/>
<rect x="268.0" y="483.43" width="2.0" height="7.58" fill="#e8c0c0"/>
<rect x="270.0" y="483.43" width="5.0" height="7.58" fill="#e41c24"/>
<rect x="275.0" y="483.43" width="3.0" height="7.58" fill="#e8b0b0"/>
<rect x="278.0" y="483.43" width="6.0" height="7.58" fill="#8b1a1a"/>
<rect x="284.0" y="483.43" width="4.0" height="7.58" fill="#e8c0c0"/>
<rect x="288.0" y="483.43" width="12.0" height="7.58" fill="#c01a20"/>
<rect x="300.0" y="483.43" width="5.0" height="7.58" fill="#e8c0c0"/>
<rect x="305.0" y="483.43" width="15.0" height="7.58" fill="#b81a20"/>
<rect x="320.0" y="483.43" width="11.0" height="7.58" fill="#8b1a1a"/>
<rect x="331.0" y="483.43" width="5.0" height="7.58" fill="#e8b0b0"/>
<rect x="336.0" y="483.43" width="4.0" height="7.58" fill="#e8b8b8"/>
<rect x="340.0" y="483.43" width="8.0" height="7.58" fill="#c01a20"/>
<rect x="348.0" y="483.43" width="14.0" height="7.58" fill="#9a1a24"/>
<rect x="362.0" y="483.43" width="36.8" height="7.58" fill="#e8201c"/>
<text x="405.00" y="300.10" font-size="6.0" fill="#1a1a1a">SBS18</text>
<text x="405.00" y="307.65" font-size="6.0" fill="#1a1a1a">SBS36</text>
<text x="405.00" y="315.20" font-size="6.0" fill="#1a1a1a">SBS26</text>
<text x="405.00" y="322.75" font-size="6.0" fill="#1a1a1a">SBS29</text>
<text x="405.00" y="330.30" font-size="6.0" fill="#1a1a1a">SBS7d</text>
<text x="405.00" y="337.85" font-size="6.0" fill="#1a1a1a">SBS7c</text>
<text x="405.00" y="345.40" font-size="6.0" fill="#1a1a1a">SBS30</text>
<text x="405.00" y="352.95" font-size="6.0" fill="#1a1a1a">SBS21</text>
<text x="405.00" y="360.50" font-size="6.0" fill="#1a1a1a">SBS3</text>
<text x="405.00" y="368.05" font-size="6.0" fill="#1a1a1a">SBS20</text>
<text x="405.00" y="375.60" font-size="6.0" fill="#1a1a1a">SBS38</text>
<text x="405.00" y="383.15" font-size="6.0" fill="#1a1a1a">SBS6</text>
<text x="405.00" y="390.70" font-size="6.0" fill="#1a1a1a">Other SBS</text>
<text x="405.00" y="398.25" font-size="6.0" fill="#1a1a1a">SBS14</text>
<text x="405.00" y="405.80" font-size="6.0" fill="#1a1a1a">SBS44</text>
<text x="405.00" y="413.35" font-size="6.0" fill="#1a1a1a">SBS40</text>
<text x="405.00" y="420.90" font-size="6.0" fill="#1a1a1a">SBS15</text>
<text x="405.00" y="428.45" font-size="6.0" fill="#1a1a1a">SBS13</text>
<text x="405.00" y="436.00" font-size="6.0" fill="#1a1a1a">SBS2</text>
<text x="405.00" y="443.55" font-size="6.0" fill="#1a1a1a">SBS4</text>
<text x="405.00" y="451.10" font-size="6.0" fill="#1a1a1a">SBS7a</text>
<text x="405.00" y="458.65" font-size="6.0" fill="#1a1a1a">SBS7b</text>
<text x="405.00" y="466.20" font-size="6.0" fill="#1a1a1a">SBS10a</text>
<text x="405.00" y="473.75" font-size="6.0" fill="#1a1a1a">SBS10b</text>
<text x="405.00" y="481.30" font-size="6.0" fill="#1a1a1a">SBS1</text>
<text x="405.00" y="488.85" font-size="6.0" fill="#1a1a1a">SBS5</text>
<text x="441.30" y="299.90" font-size="5.15" font-weight="bold">Damage by ROS</text>
<text x="441.30" y="307.45" font-size="5.15" font-weight="bold">BERD, damage by ROS</text>
<text x="441.30" y="315.00" font-size="5.15" font-weight="bold">MMRD</text>
<text x="441.30" y="322.55" font-size="5.15" font-weight="bold">Tobacco chewing</text>
<text x="441.30" y="345.20" font-size="5.15" font-weight="bold">BRD</text>
<text x="441.30" y="352.75" font-size="5.15" font-weight="bold">MMRD</text>
<text x="441.30" y="360.30" font-size="5.15" font-weight="bold">HRD</text>
<text x="441.30" y="367.85" font-size="5.15" font-weight="bold">POLD1 mut. &amp; MMRD</text>
<text x="441.30" y="375.40" font-size="5.15" font-weight="bold">UV light (?)</text>
<text x="441.30" y="382.95" font-size="5.15" font-weight="bold">MMRD</text>
<text x="441.30" y="390.50" font-size="5.15" font-weight="bold">Unknown</text>
<text x="441.30" y="405.60" font-size="5.15" font-weight="bold">MMRD</text>
<text x="441.30" y="413.15" font-size="5.15" font-weight="bold">Clock-like in some cancer types</text>
<text x="441.30" y="420.70" font-size="5.15" font-weight="bold">MMRD</text>
<text x="441.30" y="443.35" font-size="5.15" font-weight="bold">Tobacco smoking</text>
<text x="441.30" y="398.05" font-size="5.15" font-weight="bold"><tspan font-style="italic">POLE</tspan> mut. &amp; MMRD</text>
<path d="M431.5 326.00h1.6v5.18l1.4 0.8l-1.4 0.8v5.17h-1.6" fill="none" stroke="#333" stroke-width="0.7"/>
<text x="441.30" y="333.88" font-size="5.15" font-weight="bold">UV light</text>
<path d="M431.5 424.15h1.6v5.17l1.4 0.8l-1.4 0.8v5.17h-1.6" fill="none" stroke="#333" stroke-width="0.7"/>
<text x="441.30" y="432.02" font-size="5.15" font-weight="bold">AID/APOBEC activity</text>
<path d="M431.5 446.80h1.6v5.17l1.4 0.8l-1.4 0.8v5.17h-1.6" fill="none" stroke="#333" stroke-width="0.7"/>
<text x="441.30" y="454.67" font-size="5.15" font-weight="bold">UV light</text>
<path d="M431.5 461.90h1.6v5.17l1.4 0.8l-1.4 0.8v5.17h-1.6" fill="none" stroke="#333" stroke-width="0.7"/>
<text x="441.30" y="469.77" font-size="5.15" font-weight="bold"><tspan font-style="italic">POLE</tspan> mut.</text>
<path d="M431.5 477.00h1.6v5.18l1.4 0.8l-1.4 0.8v5.17h-1.6" fill="none" stroke="#333" stroke-width="0.7"/>
<text x="441.30" y="482.88" font-size="5.15" font-weight="bold">Clock-like</text>
<text x="405.00" y="260.70" font-size="6.0" fill="#1a1a1a">Cancer type</text>
<text x="405.00" y="270.60" font-size="6.0" fill="#1a1a1a">Microsatellites</text>
<text x="405.00" y="279.50" font-size="6.0" fill="#1a1a1a"><tspan font-style="italic">POLE/POLD1</tspan></text>
<text x="405.00" y="288.40" font-size="6.0" fill="#1a1a1a">TMB</text>
<rect x="448.8" y="266.3" width="4.2" height="4.2" fill="#333" stroke="#222" stroke-width="0.6"/>
<text x="456.20" y="270.60" font-size="6.0" fill="#1a1a1a">MSI-H</text>
<rect x="480.3" y="266.3" width="4.2" height="4.2" fill="#fff" stroke="#222" stroke-width="0.9"/>
<text x="488.50" y="270.60" font-size="6.0" fill="#1a1a1a">MSI-L/MSS</text>
<rect x="448.8" y="275.2" width="4.2" height="4.2" fill="#333" stroke="#222" stroke-width="0.6"/>
<text x="456.20" y="279.50" font-size="6.0" fill="#1a1a1a">mut.</text>
<rect x="480.3" y="275.2" width="4.2" height="4.2" fill="#fff" stroke="#222" stroke-width="0.9"/>
<text x="488.50" y="279.50" font-size="6.0" fill="#1a1a1a">norm.</text>
<path d="M103.70 297.59V305.18M103.70 305.18H104.0M103.70 297.59H104.0M103.40 301.38V312.76M103.40 312.76H104.0M103.40 301.38H103.70M103.00 307.07V320.35M103.00 320.35H104.0M103.00 307.07H103.40M102.60 313.71V327.93M102.60 327.93H104.0M102.60 313.71H103.00M102.10 320.82V335.52M102.10 335.52H104.0M102.10 320.82H102.60M101.40 328.17V343.10M101.40 343.10H104.0M101.40 328.17H102.10M100.90 335.64V350.69M100.90 350.69H104.0M100.90 335.64H101.40M100.20 343.16V358.27M100.20 358.27H104.0M100.20 343.16H100.90M99.00 350.72V365.86M99.00 365.86H104.0M99.00 350.72H100.20M97.10 358.29V373.44M97.10 373.44H104.0M97.10 358.29H99.00M96.00 365.86V381.03M96.00 381.03H104.0M96.00 365.86H97.10M94.00 373.45V388.61M94.00 388.61H104.0M94.00 373.45H96.00M92.60 381.03V396.20M92.60 396.20H104.0M92.60 381.03H94.00M91.00 388.61V403.78M91.00 403.78H104.0M91.00 388.61H92.60M89.00 396.20V411.37M89.00 411.37H104.0M89.00 396.20H91.00M87.70 403.78V418.95M87.70 418.95H104.0M87.70 403.78H89.00M104.0 426.54H98.9V434.12H104.0M86.4 411.37V441.71H104.0M86.4 411.37H87.70M86.4 430.33H98.9M104.0 449.29H95.6V456.88H104.0M83.8 426.54V453.09H95.6M83.8 426.54H86.4M104.0 464.46H97.5V472.05H104.0M82.7 439.81V468.25H97.5M82.7 439.81H83.8M68.8 454.03V479.63H104.0M68.8 454.03H82.7M22.7 466.83V487.22H104.0M22.7 466.83H68.8" fill="none" stroke="#222" stroke-width="0.9"/>
<text x="0.60" y="521.00" font-size="10.5" font-weight="bold" fill="#111">C</text>
<g stroke-linecap="round" stroke-width="2.1" fill="none">
<path stroke="#f05a28" d="M139.8 608.9h0M119.0 652.1h0M148.5 630.2h0M155.1 596.3h0M139.1 614.2h0M147.3 632.0h0M143.5 603.1h0M143.3 612.9h0M175.9 594.0h0M160.3 595.4h0M152.6 603.5h0M127.5 609.7h0M158.6 633.0h0M136.5 604.8h0M123.5 601.6h0M153.3 605.1h0M131.4 614.9h0M148.5 596.0h0M160.7 576.7h0M122.5 633.9h0M156.8 616.0h0M164.3 605.4h0M168.6 622.6h0M138.6 593.3h0M145.0 606.6h0M136.9 636.5h0M166.9 651.4h0M161.4 602.3h0M122.4 611.1h0M136.9 595.6h0M160.1 654.1h0M169.3 613.3h0M152.0 636.6h0M152.3 596.0h0M152.0 630.4h0M152.5 610.5h0M170.3 609.4h0M150.2 613.5h0M153.1 617.7h0M142.7 605.0h0M118.7 638.0h0M142.3 609.7h0M166.2 598.3h0M153.1 607.3h0M134.0 632.4h0M159.1 597.8h0M169.6 608.9h0M144.1 625.4h0M142.3 606.9h0M135.7 631.5h0M137.3 602.2h0M144.4 584.9h0M154.7 603.2h0M162.9 620.5h0M133.7 649.3h0M144.7 584.9h0M117.9 612.0h0M144.7 616.5h0M138.0 626.0h0M146.9 563.9h0M140.4 621.7h0M114.2 600.0h0M133.5 643.3h0M148.8 635.5h0M127.4 611.6h0M154.2 587.9h0M144.6 619.2h0M157.5 612.3h0M142.1 608.6h0M140.8 600.0h0M132.9 622.9h0M155.4 624.9h0"/>
<path stroke="#4cae4f" d="M139.5 660.7h0M132.6 638.2h0M124.2 653.3h0M139.2 634.2h0M142.6 643.4h0M142.0 660.9h0M136.0 651.3h0M126.5 650.5h0M144.2 630.7h0M124.6 651.6h0M131.9 684.8h0M148.2 672.2h0M137.0 648.7h0M123.2 665.5h0M154.0 637.0h0M152.3 637.6h0M127.2 675.7h0M134.7 616.2h0M143.9 635.5h0M163.1 644.0h0M117.1 645.9h0M157.4 632.4h0M137.1 633.6h0M148.8 658.1h0M135.7 634.7h0M135.6 638.0h0M121.1 670.6h0M126.6 665.7h0M114.8 657.8h0M152.1 689.5h0M140.0 642.5h0M154.5 628.9h0M138.9 665.0h0M125.7 614.8h0M128.8 679.2h0M136.2 649.7h0M132.2 646.7h0M126.0 633.5h0M148.3 638.4h0M141.1 628.0h0M133.9 618.4h0M125.2 623.1h0M127.1 642.3h0M142.9 671.3h0M127.9 662.7h0M107.4 627.8h0M140.3 652.2h0M132.9 673.1h0M123.6 627.4h0M106.0 641.7h0M122.5 651.4h0M101.7 644.6h0M119.4 665.2h0M131.0 655.3h0M130.1 638.1h0M139.1 631.4h0M114.3 665.5h0M125.9 641.4h0M128.9 670.0h0M129.7 627.8h0M145.0 626.0h0M122.4 654.9h0M129.0 664.8h0M120.1 623.2h0M138.5 654.2h0M107.9 638.0h0M127.9 643.2h0M134.3 658.8h0M138.8 635.6h0M125.8 644.7h0M124.9 634.6h0M148.8 635.8h0"/>
<path stroke="#e31e24" d="M165.5 652.0h0M135.7 601.4h0M107.4 630.8h0M175.8 644.6h0M190.7 617.8h0M125.5 605.3h0M152.7 666.3h0M165.9 624.7h0M156.1 595.7h0M183.1 629.2h0M151.2 621.5h0M154.6 620.8h0M170.4 605.5h0M189.7 635.9h0M193.9 628.5h0M133.7 609.7h0M166.0 625.9h0M160.5 607.0h0M150.9 617.9h0M167.1 633.8h0M150.9 621.9h0M138.2 592.0h0M164.3 596.4h0M156.8 610.0h0M183.2 601.4h0M143.7 571.7h0M125.6 608.4h0M118.5 622.7h0M139.3 642.7h0M161.9 608.9h0M145.0 642.4h0M149.5 605.8h0M132.0 614.3h0M152.8 618.0h0M176.3 614.3h0M144.0 625.2h0M186.8 598.6h0M160.7 606.3h0M134.2 621.7h0M186.3 632.8h0M166.9 605.3h0M128.3 615.0h0M163.8 608.1h0M175.5 627.8h0M139.4 628.9h0"/>
<path stroke="#5fba6a" d="M110.4 599.9h0M136.9 648.6h0M124.7 599.5h0M95.8 619.0h0M149.4 637.9h0M144.4 629.4h0M124.5 634.1h0M126.6 642.7h0M118.3 611.5h0M126.0 598.7h0M116.2 590.5h0M117.7 593.2h0M128.5 625.2h0M138.5 652.7h0M127.5 645.5h0M111.0 613.1h0M126.7 629.9h0M123.1 630.2h0M122.9 603.7h0M122.4 609.1h0M136.0 600.6h0M123.4 637.2h0M130.3 608.2h0M117.7 616.3h0M142.2 654.2h0M120.8 626.5h0M136.7 636.4h0M126.4 591.9h0M116.2 637.8h0M124.2 625.2h0M145.6 589.7h0M127.4 592.1h0M128.2 602.0h0M124.1 655.9h0M110.0 628.7h0M121.1 621.4h0M126.7 628.5h0M142.4 655.7h0M136.5 602.6h0M108.1 644.1h0M163.3 616.8h0M120.4 635.0h0M126.9 634.1h0M117.9 622.4h0M141.6 623.7h0M140.3 608.5h0M122.4 618.1h0M102.2 611.2h0M154.8 614.1h0M133.1 619.8h0M105.4 637.3h0M124.9 571.0h0M121.7 612.8h0"/>
<path stroke="#3ab8e6" d="M111.8 637.7h0M131.0 648.9h0M118.3 662.6h0M138.1 647.3h0M111.3 689.0h0M130.3 649.8h0M109.7 675.0h0M128.9 636.5h0M122.2 650.3h0M120.5 651.8h0M116.6 631.1h0M136.0 663.1h0M128.7 657.3h0M215.2 653.3h0M99.8 644.3h0M144.9 659.7h0M116.7 655.9h0M132.3 662.0h0M127.8 665.5h0M126.6 668.3h0M118.7 667.3h0M120.7 672.3h0M146.0 689.2h0M128.4 638.3h0M117.6 658.0h0M111.8 656.8h0M138.7 648.0h0M113.4 657.9h0M120.1 656.0h0M131.3 667.2h0M135.7 637.5h0M114.7 628.5h0M116.6 641.0h0M109.5 659.0h0M122.6 689.0h0M111.8 639.8h0M114.0 652.1h0M226.5 619.1h0M116.9 676.2h0M117.8 657.1h0M117.1 634.4h0M111.0 651.3h0M96.5 666.7h0M139.7 653.4h0M196.5 671.8h0M214.3 673.4h0M134.1 653.4h0M132.3 665.9h0M122.3 618.9h0M104.7 689.0h0M136.7 661.2h0M107.2 649.5h0M109.3 649.6h0M98.5 669.9h0M105.3 638.3h0M123.9 653.3h0M124.0 637.0h0M111.8 640.5h0M123.5 647.0h0M107.9 648.6h0M115.3 646.6h0M124.3 662.9h0M104.0 656.3h0M196.6 656.6h0M131.2 625.4h0M117.4 650.5h0M111.0 649.3h0M113.4 689.0h0M126.5 668.8h0M134.5 641.4h0M208.0 638.6h0M116.6 665.9h0M125.1 656.3h0M120.5 689.0h0M116.2 618.6h0M127.5 662.2h0M216.1 641.1h0M145.0 653.2h0M113.9 632.0h0M112.9 665.1h0M152.4 647.8h0M109.9 638.0h0M103.7 662.0h0"/>
<path stroke="#e2207e" d="M111.0 618.2h0M127.7 602.6h0M115.3 657.4h0M111.1 624.6h0M121.5 635.9h0M103.9 636.2h0M118.2 633.7h0M104.7 629.4h0M111.8 644.7h0M117.2 626.0h0M114.5 633.8h0M115.6 616.9h0M117.7 649.2h0M119.0 620.8h0M124.7 642.8h0M106.0 687.0h0M118.1 608.8h0M114.5 648.7h0M126.7 620.2h0M107.1 661.4h0M113.7 689.0h0M119.8 659.6h0M113.4 634.7h0M110.6 641.0h0M118.0 628.5h0M105.3 622.5h0M109.5 623.9h0M112.5 637.8h0M114.6 623.2h0M113.7 641.0h0M116.5 634.8h0M111.0 646.2h0M111.9 689.0h0M110.1 670.2h0M114.4 652.1h0M94.1 652.7h0M98.9 633.4h0M111.7 612.5h0M109.3 628.2h0M124.3 594.1h0M100.5 655.4h0M111.5 660.4h0M107.0 625.1h0M110.8 633.8h0M114.6 624.5h0M115.9 649.8h0M110.0 632.1h0M122.6 633.5h0M113.9 636.7h0M105.0 674.8h0M122.9 648.2h0M102.0 631.8h0M114.4 643.9h0M116.9 630.7h0M110.5 656.1h0M113.5 689.0h0M97.8 641.3h0M111.6 635.2h0M106.3 646.6h0M115.6 647.4h0M116.7 648.6h0M123.4 585.8h0M116.9 644.6h0M106.9 636.8h0M114.0 667.0h0"/>
<path stroke="#5cc4b8" d="M111.2 633.7h0M128.8 645.4h0M112.0 639.3h0M117.4 674.3h0M121.8 663.7h0M120.5 641.9h0M123.1 660.4h0M135.4 657.4h0M133.4 669.2h0M113.8 655.3h0M120.8 641.0h0M119.4 653.5h0M124.1 614.8h0M117.1 642.1h0M129.6 669.8h0M121.1 629.7h0M109.1 651.4h0M121.7 638.3h0M118.2 631.9h0M125.8 656.2h0M133.6 666.4h0M109.6 649.8h0M112.4 632.8h0M121.1 632.0h0M198.7 653.7h0M114.3 629.4h0M120.5 640.9h0M117.1 659.7h0M112.1 655.9h0M125.5 659.2h0M113.9 649.1h0M199.7 621.3h0M120.8 689.0h0M124.2 658.5h0M122.9 616.5h0M121.1 660.0h0M124.2 660.9h0M118.7 669.6h0M131.3 672.2h0M127.2 656.0h0M117.6 632.3h0M117.9 625.0h0M131.6 644.5h0M116.7 640.8h0M105.1 689.5h0M116.7 642.5h0M128.9 650.0h0M125.0 667.1h0M115.1 650.0h0M122.3 655.0h0M111.0 638.3h0M117.4 664.0h0M124.2 640.6h0"/>
<path stroke="#7dc142" d="M119.7 615.7h0M141.5 607.9h0M130.2 608.8h0M113.7 608.5h0M108.3 605.5h0M109.0 637.6h0M124.3 629.4h0M133.1 627.5h0M124.2 618.3h0M144.4 619.1h0M131.9 635.9h0M131.4 628.1h0M146.4 636.4h0M136.6 610.5h0M141.3 618.6h0M135.7 613.7h0M132.1 608.1h0M128.3 611.5h0M131.3 609.6h0M130.8 617.0h0M115.8 610.6h0M135.3 625.8h0M136.5 586.6h0M96.6 618.3h0M162.1 614.3h0M144.2 611.5h0M150.4 605.4h0M133.1 614.7h0M133.6 606.6h0M122.4 605.6h0M121.8 631.5h0M134.3 614.6h0M128.8 614.5h0M127.5 600.4h0M150.6 611.0h0M134.5 641.8h0M149.3 621.2h0M129.1 630.7h0M134.0 624.7h0M141.1 604.3h0M112.3 612.1h0M132.3 623.7h0M127.8 611.7h0M146.9 622.0h0M122.8 632.1h0M126.5 599.3h0M129.4 629.9h0M121.8 618.4h0M128.6 629.7h0M141.7 631.8h0M116.8 625.0h0M149.1 605.2h0M140.7 621.0h0M124.1 630.5h0M124.3 635.4h0M142.6 654.5h0M111.4 614.5h0M104.2 613.5h0M126.0 620.1h0M130.7 629.0h0M139.5 612.3h0M118.5 594.7h0M132.0 636.4h0M132.6 605.6h0M119.8 622.8h0M117.0 630.4h0M133.1 632.4h0M141.8 596.9h0M148.8 615.8h0M147.2 613.1h0M144.1 607.6h0M133.7 643.3h0M118.2 635.0h0M113.1 622.0h0M105.0 616.3h0M109.1 612.7h0M129.6 621.6h0M114.1 600.6h0M146.6 624.9h0M129.2 622.2h0"/>
<path stroke="#5a44a8" d="M110.1 665.3h0M104.8 640.2h0M106.6 596.2h0M98.1 608.1h0M106.6 622.5h0M99.8 624.6h0M101.0 609.7h0M112.6 641.4h0M121.5 636.6h0M114.0 628.1h0M109.9 647.0h0M100.8 645.4h0M113.5 636.6h0M104.5 628.6h0M108.7 574.4h0M112.6 608.6h0M107.7 653.3h0M118.8 620.2h0M107.0 626.9h0M113.3 644.2h0M111.8 624.9h0M115.0 641.7h0M98.8 638.6h0M101.4 626.9h0M90.8 632.5h0M101.9 602.4h0M108.1 634.9h0M110.9 657.1h0M109.2 633.3h0M94.9 646.8h0M104.6 689.0h0M112.5 643.4h0M111.9 623.6h0M94.5 645.6h0M114.8 633.5h0M103.7 632.1h0M113.3 662.9h0M101.4 614.8h0M98.1 627.0h0M101.3 637.8h0M100.7 645.3h0M112.6 653.0h0M117.1 625.7h0M119.1 645.8h0M102.3 606.6h0"/>
<path stroke="#2b7bc4" d="M126.4 669.2h0M116.6 653.0h0M112.6 630.9h0M112.6 647.5h0M114.1 663.2h0M125.2 661.8h0M103.3 675.2h0M116.6 661.3h0M113.7 653.3h0M121.4 661.6h0M123.6 653.5h0M112.5 679.0h0M111.0 665.6h0M124.6 642.0h0M122.4 640.7h0M116.1 659.5h0M126.4 647.4h0M115.7 647.8h0M107.3 658.0h0M118.1 665.6h0M121.2 687.4h0M119.0 656.1h0M123.7 663.1h0M121.7 656.0h0M120.7 662.6h0M126.0 660.9h0M97.9 689.0h0M112.4 672.1h0M110.7 618.8h0M131.5 637.5h0M118.0 663.2h0M132.8 649.5h0M110.0 652.7h0M104.6 660.9h0M116.7 653.0h0M110.8 659.2h0M110.4 662.1h0M123.1 654.4h0M126.0 636.6h0M102.8 653.0h0"/>
<path stroke="#f0e52a" d="M123.0 653.3h0M121.5 632.1h0M110.5 594.2h0M146.4 631.2h0M150.8 612.5h0M147.6 589.4h0M116.6 634.8h0M127.9 583.9h0M134.2 605.3h0M120.2 633.3h0M144.0 618.3h0M140.9 646.6h0M120.3 614.3h0M157.9 642.6h0M136.4 613.3h0M123.5 607.3h0M139.2 636.6h0M135.6 622.4h0M129.4 620.5h0M125.7 610.1h0M139.4 606.6h0M113.5 607.5h0M136.9 612.1h0M120.3 628.1h0M120.3 609.8h0M130.6 649.1h0M128.8 613.4h0M123.4 603.3h0M139.9 653.7h0M143.6 616.7h0M150.5 611.8h0M154.2 645.2h0M150.5 622.6h0M139.5 593.4h0M137.5 635.8h0M152.6 624.6h0M127.6 631.6h0M145.5 617.2h0M140.6 627.0h0M136.6 579.9h0M156.1 610.7h0M123.7 631.9h0M133.5 642.0h0M137.7 635.7h0M150.1 652.5h0M123.0 602.2h0M138.6 625.5h0M142.9 635.8h0M151.9 615.7h0M151.1 616.0h0M120.6 658.9h0M121.6 612.0h0M136.9 637.7h0M168.0 615.4h0M107.6 622.7h0M145.9 601.9h0M154.6 618.0h0M107.6 602.5h0M142.5 619.0h0M145.7 596.9h0M126.5 608.2h0M143.5 648.7h0M124.2 620.4h0"/>
<path stroke="#2f5bb5" d="M110.3 606.9h0M112.1 658.8h0M114.7 673.1h0M130.1 664.9h0M110.6 611.2h0M108.0 626.6h0M110.7 643.3h0M133.8 653.3h0M121.3 616.3h0M122.0 638.0h0M108.8 638.3h0M109.7 677.1h0M113.1 623.3h0M118.8 639.1h0M105.3 647.0h0M99.4 631.6h0M125.8 651.7h0M125.6 632.1h0M117.1 689.0h0M120.9 641.7h0M117.2 648.6h0M98.6 645.1h0M122.8 663.7h0M107.4 662.3h0M122.5 689.0h0M121.1 634.4h0M125.3 646.0h0M124.0 689.0h0M111.4 638.1h0M115.8 650.8h0M111.2 621.2h0M123.7 631.1h0M124.0 627.5h0M117.5 641.8h0M118.5 624.1h0M122.6 628.2h0M115.4 649.0h0M100.0 645.8h0M118.2 673.1h0M120.1 646.8h0M110.3 599.5h0M113.5 660.0h0M112.3 654.5h0M114.9 616.3h0M121.7 671.4h0M134.5 688.0h0M117.8 609.3h0M125.6 649.6h0"/>
<path stroke="#f7a11a" d="M138.8 623.6h0M145.7 607.3h0M112.4 590.3h0M104.9 618.9h0M171.6 619.1h0M116.6 592.4h0M180.0 610.2h0M144.9 635.8h0M129.7 594.3h0M133.8 615.0h0M155.9 583.2h0M147.4 605.3h0M134.3 619.9h0M128.8 564.7h0M119.3 618.3h0M143.8 631.8h0M119.5 600.6h0M136.4 617.4h0M173.1 595.8h0M134.9 584.0h0M141.6 597.5h0M143.0 612.9h0M132.7 582.4h0M153.3 596.4h0M115.3 606.6h0M149.3 618.5h0M147.9 624.5h0M161.8 615.3h0M145.4 626.4h0M152.9 625.9h0M117.7 643.4h0M132.6 625.2h0M151.6 595.2h0M157.4 605.4h0M136.6 601.9h0M136.5 612.0h0M128.1 631.8h0M149.2 631.1h0M130.9 586.7h0M149.1 613.1h0M148.4 607.4h0M149.2 637.8h0M131.8 593.2h0M148.9 583.4h0M124.8 639.5h0M113.5 603.6h0M122.3 598.3h0M136.1 623.8h0M119.7 645.5h0M123.7 618.6h0M160.4 606.9h0M131.2 626.5h0M138.1 585.1h0M175.8 617.5h0M141.8 637.0h0M160.7 612.7h0M155.0 623.9h0M139.6 579.6h0M113.3 635.2h0M161.9 646.7h0M149.0 613.8h0M156.3 612.7h0M147.1 602.1h0M153.5 607.4h0M157.2 614.6h0M132.9 588.1h0M166.6 630.1h0M154.9 596.4h0M178.2 598.3h0M123.3 598.7h0M156.9 640.7h0M114.2 609.8h0M128.8 600.7h0M150.3 604.2h0M133.8 601.1h0M163.8 627.4h0M178.2 605.7h0M146.0 610.2h0M142.1 594.8h0"/>
<path stroke="#b8d438" d="M133.2 591.1h0M117.6 607.3h0M130.0 634.9h0M130.9 619.9h0M115.5 616.2h0M113.3 608.1h0M130.2 643.1h0M119.2 647.4h0M145.2 640.2h0M129.7 603.9h0M120.9 626.9h0M111.0 620.3h0M121.2 603.8h0M134.9 649.2h0M116.0 624.8h0M122.3 649.2h0M104.4 634.4h0M118.9 603.3h0M148.1 643.9h0M136.0 604.5h0M131.7 628.6h0M126.5 633.3h0M146.5 614.9h0M135.3 614.3h0M130.0 619.8h0M141.2 646.7h0M122.2 600.9h0M126.6 617.0h0M134.7 616.1h0M129.3 644.7h0M145.3 596.7h0M114.9 642.9h0M129.9 633.4h0M138.0 600.8h0M155.1 615.5h0M116.8 629.5h0M115.1 616.9h0M125.8 636.9h0M128.2 623.0h0M117.5 618.5h0M142.5 603.4h0M115.3 644.7h0M146.3 617.7h0M117.0 594.1h0M123.4 656.2h0M126.4 613.3h0M130.4 603.0h0M126.9 629.9h0M108.1 654.0h0M118.9 631.1h0M145.9 615.4h0M146.2 609.5h0M130.4 578.2h0M141.0 635.2h0M118.4 627.8h0M133.9 632.7h0M134.3 633.4h0M149.1 617.0h0M157.1 584.6h0M135.8 620.7h0M100.9 614.7h0M143.4 613.2h0M140.2 589.6h0M115.8 643.4h0M136.1 629.6h0"/>
<path stroke="#3a47b0" d="M103.0 631.5h0M116.7 667.8h0M102.8 629.2h0M106.2 643.5h0M120.8 595.4h0M109.2 689.0h0M127.0 631.0h0M109.4 641.3h0M105.6 622.1h0M100.4 617.0h0M102.5 640.0h0M109.8 634.2h0M117.1 632.8h0M125.9 600.2h0M102.5 670.2h0M109.8 612.4h0M99.3 612.6h0M106.9 615.0h0M114.2 630.3h0M106.9 659.9h0M101.5 617.0h0M115.0 613.1h0M102.5 618.9h0M106.9 613.5h0M102.4 618.4h0M108.7 593.1h0"/>
<path stroke="#8c4aa8" d="M116.8 639.5h0M94.7 655.4h0M118.4 633.6h0M108.2 612.9h0M117.8 621.2h0M112.2 628.3h0M104.0 629.2h0M110.3 636.8h0M112.1 639.2h0M108.6 672.2h0M107.5 609.4h0M103.4 598.7h0M115.9 607.2h0M108.3 571.2h0M106.2 626.7h0M118.2 601.4h0M104.8 678.3h0M103.4 616.4h0M104.3 625.5h0M94.7 636.6h0M107.5 648.4h0M108.5 647.3h0M108.1 627.6h0M106.9 664.1h0M99.6 626.5h0M103.5 601.7h0M105.3 654.8h0"/>
<path stroke="#5cb85c" d="M139.0 635.5h0M115.4 636.3h0M149.5 645.0h0M144.0 605.4h0M130.6 654.2h0M132.9 635.1h0M134.4 622.7h0M147.4 638.7h0M123.5 648.9h0M118.1 655.2h0M141.0 612.0h0M120.0 636.7h0M143.0 648.9h0M100.7 627.6h0M163.6 630.9h0M121.3 627.1h0M133.4 653.4h0M114.2 655.6h0M107.2 653.9h0M123.4 660.8h0M134.2 648.1h0M115.9 627.5h0M138.5 634.9h0M123.4 614.7h0M143.9 643.3h0M153.2 645.8h0M130.6 669.1h0M145.0 605.6h0M143.2 665.8h0M121.5 618.7h0M130.6 625.1h0"/>
<path stroke="#b84aa5" d="M110.3 639.1h0M114.4 651.8h0M97.8 623.7h0M115.9 689.0h0M105.5 623.8h0"/>
<path stroke="#8a8a8a" d="M111.3 592.4h0M100.8 615.0h0M105.3 592.1h0M96.5 613.8h0M104.9 627.8h0M109.5 623.1h0M110.9 607.6h0M101.2 615.4h0M105.2 613.7h0"/>
<path stroke="#0c0c0c" d="M112.4 680.2h0M105.7 674.4h0M109.6 668.4h0M112.4 677.8h0M109.9 664.9h0M107.6 671.2h0M106.5 675.1h0M106.5 673.4h0M109.2 682.2h0M110.9 680.5h0M109.3 680.8h0M115.6 677.7h0M110.0 675.4h0M111.7 671.8h0M109.9 672.0h0M109.2 671.6h0"/>
<path stroke="#3c3c3c" d="M99.8 638.3h0M99.2 649.5h0M91.5 637.4h0M92.5 623.7h0M97.9 633.6h0M102.1 646.1h0M106.4 640.9h0M99.9 638.3h0"/>
<path stroke="#e8184a" d="M114.8 630.8h0M111.9 667.5h0M106.6 603.0h0M110.8 622.7h0M101.8 638.4h0M123.9 647.1h0M116.9 637.9h0M115.2 629.4h0M125.1 660.0h0M98.9 634.8h0M102.0 641.5h0M121.8 626.1h0"/>
<path stroke="#f2f2f2" d="M95.9 592.4h0M92.3 622.8h0M100.5 649.5h0M95.2 658.3h0M104.9 629.0h0M107.0 594.0h0M98.5 646.9h0M103.8 607.4h0M98.4 622.1h0M95.8 629.6h0M102.1 641.5h0"/>
<path stroke="#cfcfcf" d="M102.0 645.2h0M99.9 656.3h0M104.5 632.9h0M96.6 641.7h0M97.2 633.5h0M103.1 621.4h0"/>
<path stroke="#f7a11a" d="M115.1 622.2h0M146.3 623.7h0M135.2 624.2h0M139.3 621.2h0M149.0 603.8h0M164.6 600.7h0M145.2 636.9h0M135.3 593.8h0M91.4 625.4h0M132.0 601.0h0M144.1 603.9h0M162.9 630.3h0M145.1 601.9h0M146.8 581.8h0M143.6 589.7h0M155.1 645.5h0M143.2 610.7h0M138.8 628.3h0M135.5 616.4h0M153.0 628.7h0M127.2 592.0h0M151.9 639.8h0M132.2 624.3h0M144.8 602.2h0M145.6 600.2h0M115.6 627.1h0M138.3 605.7h0M120.3 604.1h0M136.2 626.0h0M110.5 633.8h0M124.3 629.1h0M133.0 584.6h0M140.7 599.4h0M149.7 609.9h0M129.8 609.1h0M112.5 610.6h0M128.9 651.3h0M169.1 607.7h0M123.8 613.9h0M139.9 613.8h0M120.5 621.0h0M150.7 613.2h0M141.7 600.3h0M176.5 608.6h0M139.4 631.9h0M145.3 620.3h0M111.0 612.5h0M144.9 602.5h0M149.6 637.7h0M142.4 593.1h0M147.9 604.3h0M152.7 618.5h0M144.6 622.7h0M148.6 579.1h0M149.2 584.5h0M110.9 632.6h0M135.3 634.9h0M142.5 621.1h0M169.5 581.2h0M151.4 615.5h0M121.1 608.6h0M155.5 598.2h0M140.7 594.8h0M159.1 645.7h0M126.2 602.3h0M140.6 617.9h0M190.8 589.3h0M143.3 596.6h0M132.5 616.7h0M141.3 621.6h0M151.2 616.2h0M156.9 583.1h0M149.3 613.1h0M150.9 617.8h0M169.5 596.9h0M163.3 614.2h0M154.4 586.0h0M110.4 611.0h0M151.1 627.7h0M129.9 624.7h0"/>
<path stroke="#f0e52a" d="M129.7 606.7h0M116.4 617.4h0M129.9 621.3h0M134.1 628.3h0M132.1 574.0h0M132.1 625.6h0M129.5 623.5h0M154.9 613.9h0M128.4 632.9h0M142.4 643.2h0M104.0 654.3h0M126.8 658.5h0M146.6 592.1h0M142.5 617.6h0M163.1 621.3h0M127.0 623.2h0M100.6 610.0h0M122.2 612.4h0M143.7 659.2h0M149.9 616.3h0M134.1 613.8h0M148.9 604.2h0M139.1 614.6h0M138.5 592.4h0M123.9 620.9h0M150.2 618.9h0M124.3 624.8h0M149.7 649.5h0M134.9 622.1h0M158.6 613.5h0M135.9 628.6h0M147.9 591.3h0M126.2 625.0h0M162.7 587.2h0M143.1 594.9h0M139.7 593.2h0M132.0 617.6h0M155.8 635.6h0M119.8 632.9h0M135.9 610.3h0M147.8 639.0h0M150.8 637.8h0M157.1 661.4h0M139.7 626.0h0M136.3 627.8h0M148.8 629.0h0M157.2 636.5h0M147.3 638.7h0M134.0 640.9h0M111.6 638.6h0M117.9 591.1h0M152.4 654.4h0M166.8 620.5h0M152.1 620.8h0M124.0 592.9h0M134.1 646.6h0M145.7 589.4h0M133.7 587.8h0M141.2 655.1h0M121.5 615.4h0M133.4 599.4h0M147.0 625.4h0M139.2 610.3h0M161.5 640.0h0M99.3 603.8h0M172.6 641.6h0"/>
<path stroke="#3ab8e6" d="M127.1 633.5h0M116.3 653.0h0M129.6 663.3h0M99.9 637.0h0M214.4 660.1h0M122.3 633.5h0M221.4 673.6h0M122.5 657.9h0M134.6 641.7h0M121.9 660.1h0M120.3 648.2h0M101.0 653.9h0M131.4 640.8h0M216.1 662.8h0M115.8 658.1h0M132.0 647.1h0M121.9 660.3h0M209.3 651.9h0M119.7 650.0h0M116.8 658.1h0M125.5 668.9h0M142.6 650.0h0M112.4 675.4h0M116.3 661.8h0M223.4 612.1h0M121.8 639.7h0M111.7 643.6h0M104.9 644.1h0M134.3 665.9h0M124.8 683.8h0M198.8 673.4h0M116.2 655.3h0M203.4 651.9h0M114.1 686.9h0M126.0 627.0h0M120.4 622.0h0M116.5 651.5h0M109.5 662.0h0M135.0 641.1h0M128.5 642.7h0M116.3 641.4h0M121.6 642.3h0M128.5 645.0h0M120.5 670.7h0M125.5 658.7h0M117.7 641.9h0M128.0 661.3h0M111.6 670.9h0M112.4 647.4h0M124.2 645.3h0M124.1 635.0h0M104.6 638.2h0M131.4 644.1h0M127.4 651.6h0M123.8 641.4h0M114.4 653.2h0M116.5 624.2h0M107.8 636.7h0M124.7 658.3h0M121.4 636.0h0M108.8 636.8h0M128.2 628.8h0M120.9 649.5h0M133.0 645.4h0M114.0 665.7h0M124.7 642.7h0M127.6 653.6h0M139.7 650.1h0M111.2 648.8h0M130.2 626.3h0M116.6 612.6h0M118.4 663.2h0M95.4 676.6h0M195.3 656.8h0M119.7 653.5h0M130.8 648.8h0M118.1 656.1h0M124.3 643.1h0M122.3 651.9h0M116.2 645.0h0M114.9 661.8h0M129.1 681.6h0M139.6 675.2h0"/>
<path stroke="#8c4aa8" d="M117.4 651.0h0M118.4 616.0h0M116.4 689.5h0M112.0 662.3h0M116.5 641.2h0M104.0 639.6h0M102.6 640.1h0M101.2 618.4h0M91.6 599.3h0M112.0 651.2h0M113.6 619.2h0M109.9 627.0h0M116.9 660.1h0M107.6 602.2h0M113.3 638.6h0M116.2 644.2h0M108.3 655.2h0M112.0 641.5h0M114.3 630.2h0M111.1 632.5h0M112.9 607.9h0M107.4 636.4h0M110.1 640.6h0M100.0 618.8h0M115.1 598.1h0M106.6 603.8h0M123.6 648.4h0M107.0 623.5h0"/>
<path stroke="#0c0c0c" d="M112.2 672.1h0M110.7 676.5h0M109.3 671.5h0M110.4 668.9h0M112.0 680.7h0M112.4 674.4h0M111.9 681.4h0M108.4 672.5h0M106.6 674.2h0M108.2 684.1h0M108.9 675.6h0M108.5 674.8h0M110.0 677.7h0M109.2 669.5h0M108.7 677.5h0M105.0 673.9h0"/>
<path stroke="#2f5bb5" d="M108.7 636.6h0M125.0 670.2h0M117.1 648.1h0M113.9 640.3h0M121.3 637.5h0M108.0 658.7h0M120.9 644.8h0M113.0 624.3h0M117.7 643.5h0M109.6 643.3h0M102.0 637.7h0M117.9 616.0h0M123.5 620.3h0M119.1 630.3h0M113.2 625.0h0M124.8 671.9h0M110.4 621.9h0M112.3 599.4h0M124.1 612.6h0M124.0 653.5h0M114.4 669.8h0M130.8 639.8h0M109.2 673.9h0M112.9 643.4h0M112.4 624.5h0M121.8 668.9h0M106.0 633.0h0M110.2 618.1h0M107.2 643.3h0M117.0 648.0h0M110.7 650.6h0M114.5 638.3h0M110.7 658.0h0M119.3 652.2h0M99.9 650.0h0M123.7 632.1h0"/>
<path stroke="#5a44a8" d="M102.1 619.7h0M99.5 644.5h0M104.8 649.0h0M101.8 672.8h0M110.3 595.8h0M110.3 641.4h0M115.0 613.7h0M114.3 649.7h0M108.2 657.3h0M109.1 627.8h0M109.5 600.8h0M105.0 631.7h0M110.4 667.1h0M109.9 638.4h0M116.9 592.3h0M106.1 605.5h0M98.7 625.4h0M111.6 608.1h0M107.1 648.7h0M105.4 628.9h0M106.1 606.9h0M120.1 639.4h0M104.6 622.7h0M97.8 636.2h0M113.0 653.7h0M105.6 625.2h0M109.0 656.4h0M109.2 614.6h0M105.4 637.7h0M112.3 668.0h0M109.9 598.3h0M106.5 645.5h0M105.6 617.8h0M109.6 613.9h0M101.3 624.8h0M98.2 656.4h0M97.8 596.8h0M112.4 631.5h0M101.0 622.2h0M111.8 630.2h0M103.8 614.6h0M104.5 648.6h0M114.8 631.1h0M115.2 626.9h0M107.9 623.9h0M107.7 635.4h0M112.7 611.1h0M108.5 632.1h0M103.3 610.7h0"/>
<path stroke="#2b7bc4" d="M111.2 657.0h0M108.0 641.7h0M116.4 659.3h0M103.4 676.8h0M125.1 689.0h0M111.1 659.0h0M119.1 662.4h0M120.8 634.6h0M109.1 645.4h0M123.3 659.6h0M110.2 665.6h0M133.2 680.4h0M122.6 649.1h0M116.0 638.9h0M126.8 651.5h0M127.3 663.0h0M112.1 665.4h0M118.6 639.8h0M104.2 661.2h0M127.1 657.8h0M115.5 665.4h0M124.7 649.3h0M124.8 652.1h0M102.5 652.9h0M124.6 634.3h0M112.8 654.2h0M116.4 641.7h0M114.2 647.3h0M117.2 636.1h0M101.4 646.7h0M120.6 656.0h0M105.1 657.1h0M112.8 663.4h0M105.2 657.3h0M119.1 665.1h0"/>
<path stroke="#4cae4f" d="M127.4 647.5h0M135.0 665.3h0M107.3 648.2h0M122.1 624.0h0M125.7 678.0h0M122.8 636.6h0M112.5 630.7h0M118.8 673.5h0M111.8 657.6h0M125.9 622.5h0M130.7 629.2h0M127.1 655.1h0M107.2 663.1h0M131.2 639.8h0M125.2 640.0h0M125.9 637.3h0M120.7 635.4h0M115.9 664.2h0M129.8 632.0h0M126.0 625.5h0M157.2 658.5h0M112.7 648.6h0M124.3 639.9h0M139.2 632.1h0M150.1 637.2h0M94.7 654.2h0M113.2 649.1h0M128.4 658.5h0M141.8 669.7h0M113.9 647.3h0M135.3 630.5h0M129.4 656.2h0M102.7 664.6h0M124.3 641.6h0M132.8 666.0h0M150.5 664.4h0M127.9 663.7h0M133.4 647.3h0M112.6 637.2h0M131.1 663.8h0M134.4 654.8h0M147.0 657.9h0M120.7 639.3h0M133.0 664.0h0M95.6 634.1h0M120.0 658.2h0M130.2 638.1h0M135.0 663.5h0M117.2 666.0h0M119.2 616.3h0M120.9 637.3h0M117.4 662.4h0M114.8 661.6h0M98.4 620.2h0M115.9 638.1h0M126.9 658.5h0M99.4 671.8h0M130.8 648.0h0M123.7 637.4h0M119.8 666.2h0M126.7 634.1h0M116.6 649.9h0M137.2 683.2h0M128.3 658.9h0M123.5 644.5h0M114.4 667.3h0M117.7 666.4h0M120.3 642.3h0M116.0 645.4h0M113.5 648.0h0M124.8 625.2h0M136.1 622.3h0M125.7 653.8h0M149.4 636.6h0M132.5 659.0h0M142.0 638.0h0M115.2 645.7h0M135.7 641.5h0M140.0 664.3h0M130.6 621.6h0M127.2 647.1h0M129.8 662.3h0M129.6 661.8h0M129.3 624.8h0M130.3 637.6h0M130.7 663.2h0M114.4 626.5h0M109.6 656.8h0M132.7 660.4h0"/>
<path stroke="#5cb85c" d="M105.7 655.2h0M136.2 653.7h0M125.1 590.2h0M129.7 619.2h0M122.1 643.9h0M146.6 614.1h0M133.9 628.0h0M110.3 647.5h0M111.7 593.4h0M150.2 636.3h0M154.4 622.6h0M125.8 615.3h0M123.6 664.2h0M113.1 634.2h0M122.9 614.6h0M149.1 626.9h0M131.9 626.9h0M133.4 609.6h0M127.7 630.5h0M133.6 622.3h0M137.5 608.2h0M122.4 622.3h0M99.0 658.5h0"/>
<path stroke="#f05a28" d="M133.1 643.7h0M127.0 621.3h0M141.8 605.0h0M135.8 635.0h0M146.6 618.1h0M147.8 615.5h0M154.7 639.4h0M126.2 619.2h0M141.9 595.1h0M164.1 624.6h0M160.3 605.2h0M127.9 628.6h0M133.8 634.7h0M148.7 620.0h0M145.7 625.5h0M119.0 590.5h0M129.9 620.8h0M158.7 593.7h0M140.6 648.0h0M106.2 584.4h0M164.5 619.8h0M137.0 596.7h0M155.3 632.4h0M116.3 605.5h0M146.4 647.3h0M152.3 639.0h0M156.1 598.2h0M139.3 597.9h0M123.4 619.6h0M137.5 615.5h0M141.4 629.5h0M151.2 619.4h0M141.1 616.2h0M153.4 591.1h0M158.2 604.3h0M140.8 616.2h0M158.1 613.9h0M149.6 602.9h0M114.8 586.3h0M152.2 580.9h0M139.7 598.9h0M139.9 589.8h0M147.4 642.4h0M148.0 634.6h0M147.3 630.6h0M138.7 607.6h0M117.9 618.6h0M142.8 628.4h0M132.9 603.6h0M157.3 638.1h0M142.9 647.6h0M163.6 620.5h0M130.0 617.3h0M146.9 630.0h0M135.1 623.8h0M143.7 629.2h0M166.8 632.0h0M124.7 614.8h0M155.4 620.5h0M146.6 627.9h0M164.0 610.8h0M143.1 627.5h0M128.2 585.8h0M151.9 606.0h0M167.4 600.9h0"/>
<path stroke="#b8d438" d="M141.5 594.1h0M115.9 600.1h0M120.6 628.7h0M134.5 589.4h0M117.1 620.9h0M123.0 600.3h0M150.6 611.9h0M99.8 619.2h0M113.7 609.9h0M118.0 607.8h0M135.3 618.7h0M119.1 618.1h0M138.1 602.7h0M124.2 630.9h0M104.1 636.0h0M108.3 635.1h0M132.8 642.5h0M152.8 598.3h0M146.6 597.1h0M139.5 592.4h0M114.5 603.1h0M143.5 592.2h0M134.2 625.1h0M129.5 623.8h0M118.4 629.5h0M121.0 618.2h0M107.7 620.1h0M129.9 592.6h0M119.3 595.9h0M104.5 612.8h0M114.8 606.5h0M119.9 593.3h0M129.2 611.1h0M114.2 645.3h0M122.3 615.8h0M126.5 602.8h0M143.1 637.0h0M126.6 655.4h0M146.9 645.2h0M123.6 648.9h0M145.5 637.4h0M133.0 639.4h0M122.0 668.3h0M134.8 644.5h0M128.8 646.8h0M121.1 638.6h0M141.7 603.6h0M100.0 642.3h0M124.8 644.4h0M116.1 607.2h0M131.2 617.7h0M122.8 619.4h0M139.6 627.1h0M142.8 618.2h0M149.6 613.8h0M139.0 629.3h0M119.0 627.7h0M160.7 644.5h0M122.0 611.5h0M113.8 623.5h0M162.7 626.7h0M124.8 616.3h0M145.7 641.7h0M130.1 630.4h0M113.1 621.6h0M148.8 605.6h0M110.1 635.1h0M121.8 603.7h0"/>
<path stroke="#5cc4b8" d="M123.3 651.7h0M125.6 665.2h0M118.0 652.3h0M135.6 633.4h0M118.3 649.3h0M118.9 606.5h0M207.5 671.6h0M124.7 635.5h0M115.9 643.7h0M108.7 641.7h0M127.7 631.5h0M136.6 634.6h0M127.0 648.4h0M114.2 655.7h0M129.9 665.1h0M107.4 656.6h0M234.0 666.1h0M125.2 689.0h0M129.7 636.6h0M121.8 647.8h0M114.5 651.9h0M118.1 672.2h0M138.3 643.8h0M124.0 663.5h0M136.7 655.1h0M114.5 622.1h0M125.8 639.8h0M111.1 640.3h0M116.2 645.5h0M121.4 648.9h0M113.5 636.1h0M114.4 645.7h0M129.6 625.6h0M203.8 640.4h0M124.1 644.4h0M141.4 648.0h0M125.7 653.7h0M136.2 626.1h0M134.4 651.4h0M131.6 640.5h0M114.9 661.9h0M127.0 668.3h0M130.4 631.6h0M108.2 633.6h0M104.1 636.2h0M115.1 641.3h0M111.8 670.2h0M123.3 678.1h0M128.3 656.9h0M115.2 669.2h0"/>
<path stroke="#e2207e" d="M112.5 644.5h0M122.5 657.3h0M102.0 652.9h0M106.2 666.4h0M108.4 673.0h0M125.3 640.3h0M113.2 626.5h0M103.6 666.1h0M110.6 621.8h0M108.8 602.2h0M117.2 635.9h0M113.1 627.6h0M113.2 657.2h0M121.1 652.2h0M115.2 621.2h0M100.4 651.3h0M121.2 637.8h0M119.6 660.1h0M100.5 609.4h0M104.9 661.8h0M114.4 659.9h0M100.1 593.8h0M112.0 642.5h0M111.1 646.8h0M122.8 644.5h0M107.3 643.3h0M121.8 627.8h0M117.5 644.2h0M112.5 671.5h0M91.6 633.5h0M111.1 619.1h0M111.2 647.3h0M111.5 689.0h0M113.7 674.8h0M124.3 625.5h0M119.2 620.3h0M110.2 655.8h0M121.7 665.5h0M118.2 632.8h0M98.9 647.1h0M122.6 617.1h0M103.6 616.8h0M115.5 617.5h0M113.8 628.7h0M122.0 614.6h0M107.9 587.4h0M119.8 638.0h0M122.3 613.3h0M97.9 655.6h0M116.2 638.1h0M109.2 657.0h0M110.9 648.6h0M128.4 643.7h0M114.7 632.4h0M101.8 647.8h0M116.2 632.5h0M119.0 646.3h0M116.6 660.9h0M91.9 641.1h0M112.0 638.1h0M115.8 651.1h0M123.5 617.6h0M110.6 639.0h0M126.4 652.7h0M113.7 650.4h0M108.7 618.1h0M110.3 667.5h0M107.0 650.1h0"/>
<path stroke="#5fba6a" d="M132.9 612.2h0M108.8 602.8h0M145.9 622.4h0M112.5 636.6h0M121.7 647.9h0M147.4 613.1h0M123.9 585.9h0M114.1 634.9h0M121.0 626.0h0M145.2 581.0h0M145.0 596.0h0M124.6 633.1h0M132.4 596.1h0M127.3 613.8h0M139.7 623.2h0M113.3 615.8h0M126.4 591.1h0M110.6 625.1h0M128.5 645.6h0M125.1 590.8h0M112.2 603.6h0M138.3 599.3h0M143.5 617.3h0M132.6 602.8h0M118.8 600.3h0M109.9 620.1h0M123.8 612.9h0M114.4 660.0h0M116.6 604.9h0M142.0 595.7h0M132.5 612.0h0M147.1 596.8h0M119.6 604.7h0M128.9 591.6h0M120.3 596.5h0M108.4 576.7h0M166.7 567.2h0M117.1 618.3h0M130.9 628.9h0M114.9 612.0h0M124.4 649.6h0M126.7 608.1h0M155.0 689.2h0M115.8 610.2h0M125.7 637.8h0M131.2 625.0h0M121.9 624.2h0M94.2 593.3h0M118.3 609.2h0M137.2 569.7h0M107.6 626.5h0M131.2 653.9h0M121.6 638.5h0M141.6 620.1h0"/>
<path stroke="#e8184a" d="M113.3 609.2h0M119.0 633.2h0M123.1 629.3h0M102.5 646.3h0M120.3 660.4h0M113.8 652.5h0M109.7 617.2h0M102.7 603.4h0M118.5 633.2h0M126.1 630.0h0M96.8 616.2h0M114.6 644.8h0M124.9 646.9h0M103.1 650.9h0M106.3 614.6h0M109.2 660.5h0M117.2 689.0h0M113.6 655.7h0M118.9 633.1h0M103.6 634.8h0"/>
<path stroke="#e31e24" d="M144.8 617.6h0M134.1 625.4h0M187.1 616.6h0M170.5 595.9h0M158.3 615.3h0M148.8 604.4h0M187.7 618.9h0M162.2 628.2h0M170.5 622.7h0M154.9 567.8h0M157.1 614.7h0M177.4 594.7h0M153.1 612.5h0M205.2 599.5h0M161.2 632.5h0M150.4 632.2h0M140.2 614.8h0M145.3 596.7h0M176.1 623.8h0M169.9 629.6h0M144.1 612.2h0M177.3 625.0h0M112.8 635.2h0M136.9 620.0h0M146.4 613.7h0M130.2 638.0h0M169.8 623.3h0M149.3 620.9h0M150.9 608.5h0M156.5 611.8h0M191.1 628.8h0M159.3 630.6h0M116.6 624.4h0M152.4 621.4h0M145.4 593.4h0M131.2 558.3h0M147.2 623.1h0M177.3 602.0h0M140.1 610.1h0M167.8 620.4h0M165.8 615.9h0M165.9 629.0h0M189.3 618.7h0M109.4 620.9h0M156.1 595.6h0M151.0 589.9h0M201.5 617.8h0M187.2 618.1h0M185.9 631.4h0M170.4 602.6h0M124.4 618.4h0M169.6 571.7h0M166.7 614.7h0M166.9 629.9h0M142.8 632.0h0"/>
<path stroke="#b84aa5" d="M107.3 666.8h0M121.8 618.0h0M116.9 610.4h0M115.6 634.5h0M110.3 620.8h0"/>
<path stroke="#7dc142" d="M111.7 631.0h0M153.0 628.3h0M147.1 607.9h0M150.0 616.0h0M126.9 593.9h0M140.2 624.3h0M120.1 626.3h0M129.6 626.6h0M121.9 633.2h0M144.0 615.2h0M109.8 621.9h0M157.1 590.4h0M156.0 631.8h0M144.4 625.9h0M109.6 597.7h0M135.0 632.7h0M144.2 648.5h0M135.3 618.6h0M127.4 642.7h0M115.9 618.8h0M124.7 595.9h0M121.0 600.6h0M114.0 647.2h0M106.6 635.2h0M120.9 617.5h0M130.4 616.6h0M131.7 592.8h0M134.8 623.9h0M130.5 606.8h0M152.5 630.5h0M125.7 590.0h0M143.3 635.2h0M107.2 589.0h0M131.1 646.2h0M117.4 588.2h0M129.4 632.5h0M146.1 648.3h0M136.0 591.2h0M120.8 624.8h0M117.3 626.7h0M121.0 628.8h0M129.4 609.4h0M153.8 647.9h0M139.8 615.0h0M123.0 599.6h0M133.7 623.9h0M121.4 589.5h0M113.7 624.2h0M133.3 621.0h0M134.6 623.9h0M126.9 631.6h0M129.5 622.4h0M122.4 593.7h0M126.3 640.5h0M140.4 618.2h0M116.8 623.2h0M132.8 633.1h0M150.9 624.9h0M129.1 594.7h0M124.7 607.4h0M112.4 578.5h0M120.1 601.5h0M117.9 633.5h0M149.7 624.3h0M116.0 621.7h0"/>
<path stroke="#f2f2f2" d="M92.1 637.6h0M103.7 647.8h0M106.0 674.9h0M97.6 602.6h0M104.8 638.6h0M96.8 664.4h0M103.0 647.6h0M103.8 583.4h0M95.6 647.6h0M98.8 649.2h0M97.8 608.0h0M97.6 623.0h0M91.9 625.8h0"/>
<path stroke="#8a8a8a" d="M103.8 641.9h0M107.1 586.5h0M98.4 654.3h0M104.6 638.9h0M95.9 618.2h0M91.3 605.0h0M92.3 625.0h0M105.7 603.7h0M91.7 647.7h0"/>
<path stroke="#3a47b0" d="M113.6 636.2h0M107.5 612.7h0M122.0 612.7h0M116.0 628.7h0M112.1 637.2h0M109.3 613.4h0M118.7 658.5h0M120.6 625.6h0M110.5 618.1h0M104.0 584.0h0M106.4 665.0h0M105.3 627.1h0M108.8 635.0h0M121.9 626.1h0M111.5 630.7h0"/>
<path stroke="#cfcfcf" d="M114.3 626.4h0M110.4 680.0h0M105.5 640.7h0M98.5 612.9h0M104.0 631.1h0M100.1 640.5h0M107.3 623.5h0M101.7 619.7h0M93.6 630.7h0M96.4 640.8h0M91.3 633.9h0M101.5 645.2h0M100.9 617.3h0M100.9 591.4h0"/>
<path stroke="#3c3c3c" d="M107.4 619.4h0M98.9 664.6h0M90.8 638.8h0M99.0 629.6h0M95.4 634.2h0M95.7 631.7h0M97.2 622.8h0M91.8 623.2h0"/>
<path stroke="#e31e24" d="M188.0 689.2h0M138.6 637.1h0M156.7 632.4h0M184.7 603.1h0M172.7 613.9h0M162.8 630.0h0M194.8 626.0h0M170.9 624.1h0M161.3 674.8h0M143.1 629.6h0M141.5 625.8h0M158.0 587.2h0M179.4 609.2h0M159.7 635.3h0M174.6 590.5h0M184.4 604.2h0M164.1 600.7h0M168.2 632.7h0M156.3 606.7h0M144.6 640.5h0M157.7 601.2h0M154.6 623.8h0M164.6 591.2h0M176.2 609.4h0M168.0 610.8h0M146.3 618.9h0M133.1 585.9h0M174.7 626.7h0M162.6 641.0h0M146.0 627.7h0M164.5 589.0h0M165.4 602.2h0M156.3 609.3h0M160.5 595.5h0M205.0 689.2h0M185.6 593.7h0M149.3 600.0h0"/>
<path stroke="#f05a28" d="M166.8 604.5h0M124.7 638.4h0M141.3 651.0h0M157.6 630.4h0M143.2 596.5h0M114.4 601.0h0M145.7 601.3h0M165.1 603.4h0M148.3 625.4h0M158.3 638.8h0M144.6 640.2h0M150.3 637.5h0M124.0 593.9h0M130.4 632.9h0M162.6 594.3h0M123.9 589.6h0M155.2 625.7h0M143.0 624.1h0M157.1 584.4h0M124.4 606.8h0M134.3 599.7h0M143.3 600.9h0M149.4 650.2h0M147.0 593.2h0M123.8 609.3h0M168.3 642.2h0M131.6 597.0h0M125.7 624.6h0M143.5 595.2h0M125.5 592.4h0M127.8 579.4h0M146.6 612.6h0M158.6 632.3h0M143.7 622.7h0M155.4 639.8h0M139.6 613.0h0M103.0 605.7h0M155.2 599.8h0M135.8 616.2h0M133.8 598.2h0M179.3 598.5h0M120.1 601.7h0M148.0 596.1h0M151.1 584.8h0M181.8 597.4h0M177.4 641.5h0M160.6 615.8h0M155.3 578.5h0M157.1 597.7h0M143.0 639.8h0M164.2 587.2h0M168.0 622.1h0M155.0 607.5h0M143.5 583.8h0M124.2 617.9h0M156.0 623.4h0M149.7 624.0h0M133.8 610.6h0M140.7 609.1h0M163.5 635.7h0M158.1 575.5h0M156.7 599.0h0M154.4 602.2h0M147.9 634.0h0M155.0 638.8h0M135.9 609.8h0M151.4 627.0h0M138.0 616.9h0M102.9 587.0h0M152.8 602.5h0M162.0 581.1h0M126.7 629.0h0M130.4 601.7h0M173.2 622.7h0M127.7 564.7h0M161.7 629.3h0M142.2 593.1h0M148.1 622.7h0M130.7 626.9h0"/>
<path stroke="#e2207e" d="M116.3 632.4h0M125.6 613.3h0M119.8 630.1h0M122.0 628.3h0M107.4 629.1h0M113.9 654.3h0M123.5 627.5h0M117.4 594.5h0M111.9 651.6h0M119.0 605.3h0M117.7 631.9h0M115.4 685.9h0M105.9 663.4h0M116.6 649.7h0M131.2 631.3h0M122.8 650.3h0M91.7 627.6h0M130.6 658.9h0M118.0 631.6h0M121.8 666.0h0M117.6 624.1h0M102.8 648.7h0M107.4 665.0h0M110.0 671.5h0M109.1 642.0h0M113.0 612.7h0M96.3 595.5h0M119.2 613.6h0M122.1 632.5h0M120.9 633.2h0M107.4 626.4h0M136.7 672.7h0M120.6 627.5h0M111.9 618.7h0M100.0 654.1h0M106.7 635.2h0M105.1 673.9h0M115.0 663.1h0M127.0 653.3h0M112.3 652.8h0M124.9 650.6h0M116.8 653.0h0M120.6 610.6h0M108.9 682.5h0M116.1 637.4h0M113.9 630.7h0M109.4 671.8h0M116.1 615.1h0M118.4 609.1h0M111.0 686.7h0M105.6 675.7h0M122.2 618.3h0M124.2 644.3h0M112.0 578.6h0M112.7 611.3h0M115.7 635.9h0M118.9 632.0h0M121.6 671.4h0M108.9 628.2h0M108.6 625.9h0M118.9 662.5h0M111.9 679.2h0M114.5 667.6h0M102.0 646.4h0M133.9 662.3h0M117.5 633.7h0M116.9 659.7h0M102.1 631.5h0M116.4 688.3h0M116.0 627.0h0"/>
<path stroke="#0c0c0c" d="M111.4 676.5h0M109.8 670.1h0M108.9 675.6h0M108.2 674.7h0M106.4 679.9h0M111.5 677.5h0M114.2 681.6h0M112.8 676.0h0M109.8 674.7h0M109.6 676.4h0"/>
<path stroke="#4cae4f" d="M130.9 652.4h0M129.7 681.0h0M128.3 645.7h0M161.4 651.8h0M138.6 635.4h0M136.1 662.8h0M134.4 666.8h0M123.4 667.0h0M126.3 651.7h0M135.8 652.8h0M130.9 670.7h0M118.8 654.0h0M110.6 639.3h0M142.7 615.5h0M125.0 632.5h0M149.1 689.5h0M140.4 645.7h0M112.4 640.1h0M149.1 624.7h0M131.5 646.8h0M139.2 643.6h0M118.6 652.1h0M132.8 634.8h0M134.2 662.5h0M141.5 636.3h0M131.2 637.7h0M145.9 623.2h0M118.0 666.0h0M160.0 623.9h0M125.7 613.2h0M123.8 634.8h0M142.2 663.2h0M112.1 640.1h0M116.6 651.1h0M113.0 683.8h0M129.1 646.2h0M144.4 670.0h0M131.9 653.7h0M131.6 647.0h0M116.4 640.3h0M123.2 689.5h0M120.1 652.9h0M125.3 650.2h0M139.1 614.1h0M134.6 650.9h0M125.2 656.0h0M136.8 631.8h0M140.8 651.8h0M138.6 654.1h0M117.4 648.3h0M148.3 624.6h0M118.3 636.1h0M148.2 644.6h0M102.0 655.8h0M123.7 642.1h0M114.2 682.0h0M133.4 689.5h0M119.4 660.3h0M131.3 643.0h0M120.1 646.7h0M139.8 655.1h0M120.2 642.7h0M123.9 673.1h0M125.4 643.3h0M136.3 619.6h0M99.5 633.8h0M104.5 639.8h0M114.0 646.7h0M96.8 654.7h0M147.0 646.2h0M96.6 673.4h0M126.0 645.5h0M119.9 639.7h0M115.6 663.9h0M123.8 627.1h0M138.3 658.7h0M152.0 638.3h0M124.9 660.3h0M143.8 618.8h0M118.6 652.9h0M130.9 662.7h0M114.2 659.6h0M137.5 607.8h0"/>
<path stroke="#5cb85c" d="M120.5 640.3h0M152.3 641.1h0M130.5 622.1h0M138.9 624.2h0M125.2 625.8h0M126.0 628.0h0M126.4 630.2h0M133.1 632.3h0M119.7 622.0h0M119.6 644.5h0M127.8 645.4h0M127.3 653.9h0M125.5 593.7h0M130.1 628.8h0M137.5 648.9h0M135.7 605.8h0M143.1 609.1h0M132.7 621.6h0M156.3 621.1h0M132.3 598.1h0M114.1 616.9h0M133.0 631.9h0M134.9 646.7h0M118.0 598.0h0M152.1 600.7h0M148.5 603.1h0M139.8 622.8h0M138.2 635.0h0"/>
<path stroke="#7dc142" d="M129.3 622.7h0M136.5 615.5h0M123.3 627.0h0M140.1 619.0h0M132.8 623.1h0M131.5 625.5h0M134.0 604.8h0M131.1 627.9h0M131.1 663.5h0M133.4 592.7h0M130.1 660.9h0M123.4 627.0h0M135.0 633.6h0M121.6 645.6h0M123.5 615.6h0M115.5 602.4h0M134.9 644.3h0M128.4 623.4h0M144.0 630.8h0M115.1 580.9h0M115.5 624.2h0M154.5 618.0h0M100.8 600.7h0M154.3 659.3h0M112.0 642.9h0M128.2 654.3h0M110.0 630.2h0M121.3 638.1h0M117.2 647.5h0M143.3 620.2h0M130.7 622.0h0M140.1 603.0h0M125.6 632.9h0M124.2 611.3h0M138.0 575.3h0M104.4 603.5h0M126.2 581.1h0M150.0 630.1h0M115.0 628.3h0M157.3 630.0h0M118.3 620.1h0M114.9 631.0h0M120.7 609.9h0M135.0 628.3h0M136.6 572.8h0M128.7 607.7h0M137.6 598.2h0M133.5 602.5h0M120.8 633.1h0M128.9 606.7h0M135.0 601.2h0M140.5 609.3h0M111.8 630.5h0M155.5 624.4h0M139.3 628.6h0M128.6 608.5h0M128.0 633.3h0M105.9 615.2h0M133.4 636.9h0M126.6 612.4h0M137.6 655.1h0M116.0 626.6h0M123.2 595.2h0M130.7 612.7h0M134.8 608.1h0M121.5 644.5h0M127.4 597.7h0M120.6 629.1h0M124.9 608.6h0M122.3 620.8h0M112.5 618.5h0M141.4 629.1h0"/>
<path stroke="#3ab8e6" d="M108.0 657.8h0M125.1 656.9h0M134.3 644.7h0M131.1 635.4h0M223.9 670.8h0M134.6 662.9h0M126.9 638.9h0M124.5 689.0h0M111.6 640.5h0M109.0 643.4h0M119.7 636.4h0M114.2 651.3h0M106.6 643.1h0M115.0 632.6h0M110.6 660.5h0M125.6 634.7h0M130.0 635.3h0M119.9 651.2h0M121.4 650.9h0M118.7 642.0h0M114.8 643.8h0M109.5 659.0h0M128.7 644.6h0M117.5 666.2h0M236.2 620.6h0M128.6 680.0h0M123.8 640.1h0M134.3 649.4h0M136.2 651.2h0M99.2 645.7h0M113.5 653.9h0M134.4 666.8h0M98.7 639.9h0M129.9 631.7h0M121.6 648.2h0M122.8 653.4h0M126.6 658.8h0M102.5 652.1h0M117.9 663.9h0M91.6 637.6h0M107.7 666.2h0M131.2 675.3h0M113.0 636.1h0M119.7 657.3h0M103.8 687.9h0M125.7 654.6h0M110.9 663.8h0M226.0 627.6h0M124.5 669.8h0M116.0 663.9h0M111.8 689.0h0M122.3 634.4h0M124.4 664.3h0M133.1 655.1h0M122.7 635.8h0M114.7 647.7h0M115.3 650.6h0M119.1 655.3h0M131.6 656.0h0M123.6 641.5h0M121.3 669.8h0M132.0 663.5h0M110.6 653.7h0M114.3 658.4h0M111.5 639.9h0M109.6 642.4h0M115.5 647.2h0M91.4 644.1h0M126.9 661.0h0M134.8 657.1h0M225.3 623.1h0M130.3 673.8h0M228.8 640.9h0M132.4 664.8h0M119.8 647.8h0M94.9 653.5h0M130.9 679.7h0M122.0 661.8h0M130.0 636.2h0M109.5 636.1h0M118.1 689.0h0M127.6 652.6h0M132.2 645.5h0M113.7 643.8h0M125.1 648.4h0M129.1 640.0h0M117.0 673.0h0"/>
<path stroke="#f7a11a" d="M138.5 614.6h0M152.8 622.3h0M122.3 617.1h0M131.0 625.7h0M150.5 618.7h0M126.3 643.2h0M147.9 618.8h0M165.1 583.3h0M165.8 602.3h0M137.1 581.2h0M166.6 605.2h0M132.6 623.8h0M154.7 606.6h0M141.0 594.9h0M151.6 607.5h0M138.8 605.2h0M127.3 616.6h0M147.0 603.3h0M137.5 584.5h0M115.1 617.8h0M165.8 597.6h0M168.7 586.1h0M158.2 596.7h0M145.5 608.0h0M173.9 604.4h0M113.8 653.2h0M141.0 632.4h0M130.5 587.3h0M123.8 601.0h0M151.2 610.4h0M135.7 620.8h0M170.1 592.5h0M134.7 573.8h0M148.4 605.1h0M127.8 622.8h0M115.0 601.6h0M139.5 597.8h0M156.4 613.6h0M160.5 596.9h0M146.0 605.1h0M130.8 611.7h0M145.5 593.1h0M116.6 611.1h0M157.1 613.2h0M137.3 604.3h0M140.7 594.7h0M123.7 584.3h0M123.2 605.1h0M144.1 632.6h0M132.6 612.0h0M146.9 585.8h0M163.4 612.3h0M160.9 624.2h0M153.1 611.6h0M95.2 606.7h0M160.2 630.0h0M147.5 574.9h0M126.2 617.8h0M113.4 605.9h0M152.6 611.2h0M134.0 576.5h0M160.1 592.2h0M143.2 596.2h0M124.2 629.1h0M161.4 606.6h0M159.4 631.4h0M137.0 617.3h0M144.1 597.3h0M119.3 602.1h0M134.3 621.4h0M148.7 621.8h0M152.4 629.4h0M136.2 617.1h0M127.2 619.0h0M145.8 588.8h0M153.3 640.4h0M129.1 604.8h0M153.6 623.7h0M150.6 616.3h0"/>
<path stroke="#5fba6a" d="M136.0 615.8h0M137.5 633.8h0M126.3 628.4h0M122.9 628.5h0M110.6 615.9h0M135.4 628.2h0M125.2 639.0h0M117.2 622.3h0M142.0 634.5h0M146.9 611.4h0M127.3 585.3h0M132.8 601.6h0M134.6 640.8h0M135.6 651.9h0M138.9 641.4h0M136.7 619.6h0M132.0 614.4h0M120.6 595.9h0M119.8 583.8h0M145.7 647.7h0M115.4 639.6h0M103.5 609.0h0M120.6 598.6h0M150.2 649.7h0M141.8 633.8h0M126.6 627.9h0M120.2 601.3h0M104.6 653.1h0M130.2 622.6h0M145.5 595.1h0M125.4 594.0h0M138.6 620.0h0M115.4 620.1h0M118.8 600.3h0M118.7 613.4h0M140.8 601.0h0M124.5 604.9h0M119.4 641.2h0M138.6 617.1h0M109.3 591.2h0M150.4 641.1h0M105.8 597.3h0M140.7 629.0h0"/>
<path stroke="#f0e52a" d="M142.6 620.8h0M128.5 626.1h0M137.7 593.3h0M135.6 617.2h0M138.2 604.7h0M152.5 648.3h0M139.6 629.5h0M113.2 611.5h0M120.9 657.8h0M133.3 629.9h0M138.2 630.0h0M176.5 599.2h0M142.1 645.4h0M145.0 632.1h0M147.7 593.0h0M122.7 610.1h0M139.6 629.0h0M132.3 600.3h0M139.0 622.2h0M154.8 617.6h0M131.6 604.2h0M169.1 610.6h0M149.6 620.1h0M145.7 603.7h0M129.1 601.4h0M162.6 609.9h0M147.1 635.6h0M125.1 648.1h0M129.7 599.4h0M146.5 607.6h0M120.5 628.1h0M119.2 649.0h0M127.4 649.5h0M123.8 604.9h0M143.5 604.0h0M127.8 585.2h0M141.0 671.7h0M147.6 656.9h0M120.6 634.1h0M125.2 613.3h0M138.3 629.2h0M107.1 611.9h0M126.2 633.3h0M139.4 613.7h0M138.7 612.8h0M176.7 611.2h0M154.9 590.1h0M139.1 620.7h0M146.2 634.1h0M147.8 604.3h0M131.9 650.3h0M147.1 607.7h0M125.7 628.5h0M143.1 623.1h0M138.6 645.1h0M148.1 606.2h0M139.6 630.6h0M124.3 626.0h0M148.8 570.7h0M151.3 613.8h0M122.3 590.1h0M151.5 653.2h0M127.1 610.4h0M113.4 615.1h0M130.2 611.0h0M140.3 612.9h0M144.2 619.4h0M141.2 636.3h0M104.0 622.9h0M144.3 584.9h0M147.9 639.3h0M162.8 616.3h0"/>
<path stroke="#5cc4b8" d="M137.6 634.7h0M102.3 660.8h0M112.3 638.4h0M138.4 658.8h0M114.7 636.7h0M110.9 646.9h0M194.1 619.8h0M222.2 636.4h0M108.3 638.8h0M113.7 650.0h0M142.8 660.2h0M116.9 652.7h0M128.2 667.8h0M124.1 663.5h0M217.4 643.5h0M123.2 659.4h0M128.4 652.8h0M134.7 651.8h0M106.1 629.8h0M121.3 645.9h0M108.6 644.3h0M122.6 689.0h0M132.0 675.6h0M128.4 657.2h0M107.3 632.8h0M120.9 658.0h0M114.8 643.5h0M120.6 631.1h0M119.2 672.3h0M119.7 647.4h0M123.9 647.4h0M124.9 689.0h0M128.2 639.6h0M116.0 638.3h0M126.6 644.4h0M120.1 647.2h0M126.8 643.3h0M136.5 632.8h0M123.4 638.0h0M117.1 656.6h0M97.5 621.1h0M106.1 673.8h0M122.8 686.1h0M127.7 662.0h0M114.9 637.9h0M106.8 631.9h0M112.0 643.4h0M117.3 670.9h0M127.1 647.5h0M194.9 637.8h0M132.6 655.7h0M220.4 619.3h0M117.8 668.8h0M137.3 657.7h0M107.4 644.4h0M117.1 651.7h0M117.8 650.9h0"/>
<path stroke="#3a47b0" d="M103.0 633.3h0M107.8 604.8h0M113.2 666.2h0M108.9 650.6h0M112.3 621.7h0M104.5 630.1h0M115.9 689.0h0M113.6 633.9h0M119.8 647.4h0M101.7 638.3h0M117.4 622.2h0M103.5 596.5h0M110.0 619.7h0M116.7 623.6h0M118.8 623.8h0M106.0 599.8h0M108.2 622.4h0M123.1 603.2h0M110.5 636.6h0M125.2 630.2h0M109.5 669.1h0M117.0 622.8h0"/>
<path stroke="#2b7bc4" d="M115.1 649.3h0M109.4 648.2h0M118.1 648.9h0M125.4 621.9h0M109.6 681.5h0M130.3 638.7h0M120.0 637.7h0M118.4 673.9h0M118.8 637.0h0M115.6 669.8h0M109.4 645.5h0M114.9 647.8h0M121.1 648.9h0M116.7 657.8h0M115.1 651.8h0M104.1 659.7h0M98.9 647.3h0M124.1 644.4h0M117.5 662.6h0M119.9 648.0h0M125.9 647.9h0M118.6 658.5h0M99.7 635.4h0M114.3 635.6h0M106.9 646.4h0M123.0 643.3h0M115.2 653.1h0M116.4 646.4h0M125.9 649.9h0M116.4 689.0h0M115.0 689.0h0M117.3 646.4h0M114.3 633.8h0"/>
<path stroke="#b8d438" d="M111.0 634.8h0M116.4 631.4h0M129.3 642.0h0M160.1 611.7h0M147.0 656.2h0M123.7 581.7h0M154.9 634.0h0M115.1 623.4h0M109.2 617.8h0M126.3 644.0h0M138.0 634.3h0M151.7 615.1h0M129.4 617.2h0M126.8 623.5h0M98.2 637.4h0M124.0 632.1h0M155.2 650.1h0M126.9 618.9h0M116.4 630.5h0M129.5 617.1h0M130.5 622.1h0M114.5 652.3h0M131.9 618.9h0M102.5 639.8h0M118.3 623.6h0M118.5 618.5h0M144.3 635.8h0M120.6 652.5h0M138.5 622.1h0M128.2 603.9h0M110.9 582.2h0M115.7 597.5h0M117.8 620.3h0M139.9 646.1h0M131.1 603.5h0M123.4 601.6h0M116.6 624.0h0M146.0 627.7h0M133.8 636.8h0M139.2 645.2h0M136.6 612.4h0M123.0 608.4h0M143.4 638.6h0M136.5 625.3h0M131.1 625.0h0M129.2 632.8h0M120.4 622.1h0M137.2 651.6h0M119.0 651.5h0M130.6 634.2h0M134.2 619.2h0M220.0 689.2h0M137.1 626.9h0M154.7 624.2h0M121.3 619.0h0M131.2 634.3h0M117.5 617.7h0M134.9 642.1h0M109.2 604.4h0M118.4 625.0h0"/>
<path stroke="#5a44a8" d="M116.3 620.3h0M97.3 615.3h0M98.8 604.8h0M110.7 608.6h0M110.3 631.0h0M106.6 612.1h0M107.3 594.5h0M103.5 653.7h0M113.3 641.6h0M107.9 650.4h0M106.2 629.1h0M115.1 634.9h0M111.5 632.1h0M108.3 626.3h0M109.5 602.2h0M108.2 613.9h0M109.4 617.8h0M108.8 642.9h0M107.7 622.5h0M107.1 623.1h0M102.8 641.4h0M109.4 670.8h0M104.7 628.0h0M113.0 629.4h0M100.8 599.2h0M99.6 636.7h0M109.5 669.5h0M101.4 621.1h0M104.8 632.3h0M102.2 621.0h0M112.5 639.8h0M113.1 614.9h0M100.9 603.0h0M106.1 660.3h0M101.9 617.3h0M112.9 651.4h0M91.2 612.7h0M109.8 633.1h0M104.6 620.5h0"/>
<path stroke="#cfcfcf" d="M101.0 620.5h0M101.2 639.7h0M96.9 629.9h0M96.5 641.2h0M102.0 689.0h0M109.1 635.1h0M102.8 601.6h0M103.1 689.0h0M102.3 626.5h0M100.0 589.7h0"/>
<path stroke="#2f5bb5" d="M123.1 625.2h0M106.4 617.1h0M120.6 647.3h0M108.6 668.4h0M108.5 618.4h0M118.2 663.3h0M105.3 660.5h0M116.3 632.3h0M122.9 666.7h0M113.8 656.8h0M118.7 670.0h0M103.3 643.4h0M117.4 649.7h0M122.7 632.8h0M125.0 674.6h0M126.5 600.3h0M108.9 625.2h0M122.4 624.6h0M132.4 648.5h0M116.8 646.5h0M114.9 662.8h0M122.0 619.2h0M113.1 645.0h0M127.9 634.1h0M118.9 652.1h0M115.7 656.8h0M109.1 638.7h0M108.5 652.7h0M115.9 637.6h0M111.9 649.9h0M117.4 649.6h0M110.2 647.9h0M126.8 624.3h0M133.6 648.2h0M97.6 627.6h0M104.3 660.5h0M110.1 631.4h0M114.0 656.3h0M107.0 631.7h0M109.1 639.9h0M122.0 644.9h0M113.9 607.1h0M103.7 653.6h0M127.7 655.9h0M119.0 670.2h0"/>
<path stroke="#f2f2f2" d="M96.1 634.7h0M104.0 661.5h0M101.1 644.8h0M95.0 627.0h0M101.9 625.2h0M105.2 647.4h0M100.8 644.0h0M101.2 621.8h0M104.4 597.7h0M105.6 657.9h0M96.4 642.8h0M102.5 607.6h0M91.6 618.6h0M96.1 635.1h0M98.8 639.9h0M97.9 649.3h0M99.1 667.9h0M101.3 632.1h0"/>
<path stroke="#e8184a" d="M109.0 671.6h0M106.3 655.7h0M118.0 631.0h0M102.4 639.4h0M119.0 629.4h0M122.4 647.4h0M104.4 631.3h0M123.2 673.4h0M117.9 646.5h0M103.4 640.3h0M100.3 645.7h0M103.1 626.7h0M123.6 689.0h0M106.7 646.5h0M112.1 632.5h0M118.3 652.4h0M120.0 618.2h0M111.1 637.4h0M121.0 641.4h0M121.8 648.1h0M117.4 645.3h0"/>
<path stroke="#b84aa5" d="M98.6 647.5h0M109.5 653.4h0M125.8 639.2h0M108.7 635.2h0M91.4 621.7h0"/>
<path stroke="#3c3c3c" d="M96.5 653.3h0M100.6 652.8h0M98.7 634.5h0M102.1 639.5h0M95.2 657.0h0M101.9 643.0h0M97.5 653.5h0M97.4 646.0h0M92.3 656.6h0M101.2 634.5h0"/>
<path stroke="#8c4aa8" d="M114.3 640.9h0M111.6 643.3h0M100.8 629.5h0M114.2 621.8h0M96.6 618.1h0M114.7 615.3h0M109.7 637.6h0M99.9 617.7h0M108.0 655.6h0M118.4 632.3h0M106.7 585.8h0M107.8 637.8h0M119.0 624.2h0M103.8 624.5h0M105.8 668.8h0M106.6 618.4h0M113.4 649.0h0M114.8 639.3h0M101.2 635.7h0M107.1 623.1h0M109.4 651.4h0M115.6 622.5h0M106.6 598.2h0"/>
<path stroke="#8a8a8a" d="M91.3 632.3h0M103.6 603.6h0M101.0 596.3h0M102.7 619.2h0M96.0 633.8h0M94.1 629.3h0M103.6 586.7h0M94.8 619.8h0M102.8 636.3h0M113.3 597.2h0M112.9 596.8h0"/>
<path stroke="#e31e24" d="M164.5 604.4h0M180.7 621.1h0M147.6 613.4h0M152.1 612.8h0M147.7 624.0h0M182.9 635.7h0M174.7 617.3h0M137.4 613.5h0M148.3 644.6h0M164.0 612.3h0M155.6 657.4h0M134.6 627.5h0M171.9 610.8h0M154.7 613.9h0M150.7 590.1h0M143.7 624.5h0M154.1 591.9h0M176.0 632.5h0M154.4 635.1h0M176.0 587.4h0M145.6 606.6h0M144.0 606.1h0M127.2 604.8h0M147.0 606.5h0M174.4 634.5h0M193.1 630.3h0M152.9 621.0h0M169.9 599.6h0M143.3 639.7h0M148.1 602.4h0M127.4 614.9h0M161.0 633.1h0M190.9 650.2h0M143.2 628.1h0M183.6 625.9h0M153.9 595.0h0M157.1 634.1h0M106.3 629.5h0M166.0 632.3h0M151.1 648.0h0M164.8 595.2h0M174.8 629.8h0M158.5 584.4h0M182.9 608.1h0M164.1 601.8h0M135.5 588.4h0M171.6 624.8h0M156.8 632.8h0M121.8 606.3h0M132.2 597.9h0M169.0 597.0h0M165.1 605.4h0M168.2 602.6h0M143.7 615.7h0M178.2 634.6h0M163.3 647.9h0M148.4 616.3h0M162.2 603.5h0M173.7 620.5h0M124.1 605.6h0M166.3 604.6h0M162.7 598.4h0M182.6 573.8h0"/>
<path stroke="#f7a11a" d="M140.0 624.8h0M100.0 629.5h0M140.1 643.1h0M144.1 610.4h0M130.5 617.3h0M165.0 622.7h0M160.3 606.6h0M144.5 570.2h0M159.5 593.9h0M127.5 632.7h0M150.2 584.6h0M130.1 619.2h0M147.3 625.0h0M165.4 625.0h0M147.5 632.5h0M147.4 633.9h0M154.4 633.7h0M162.2 605.9h0M152.5 610.3h0M138.1 608.6h0M169.8 621.3h0M136.4 605.8h0M187.1 591.0h0M119.9 620.7h0M180.3 621.5h0M129.7 579.8h0M157.2 615.6h0M149.0 581.2h0M152.3 605.7h0M133.1 583.6h0M163.9 611.7h0M120.3 605.4h0M139.0 631.6h0M132.1 611.8h0M132.4 608.4h0M136.7 607.8h0M150.1 611.7h0M121.7 605.9h0M136.5 599.5h0M157.8 583.3h0M156.0 612.6h0M138.9 621.5h0M132.7 578.8h0M162.7 592.9h0M145.3 593.7h0M161.3 599.8h0M151.0 606.2h0M146.4 594.5h0M137.8 635.2h0M129.0 642.2h0M128.7 613.2h0M150.8 582.0h0M148.2 605.4h0M140.6 611.8h0M148.5 600.6h0M123.3 605.5h0M130.1 582.3h0M147.0 605.5h0M133.3 620.6h0M129.0 609.3h0M128.8 603.6h0M127.0 635.4h0"/>
<path stroke="#b8d438" d="M131.1 591.8h0M144.6 617.4h0M136.9 604.3h0M141.7 612.0h0M137.9 624.4h0M166.4 628.8h0M137.7 672.8h0M155.1 609.0h0M130.5 611.8h0M125.9 638.7h0M110.4 659.3h0M176.3 614.8h0M138.9 621.0h0M155.2 605.9h0M127.4 603.8h0M126.2 574.7h0M150.4 621.7h0M115.8 592.3h0M127.9 604.9h0M120.6 642.2h0M124.3 625.3h0M118.6 635.5h0M126.8 652.3h0M140.1 608.6h0M119.2 585.3h0M112.3 620.6h0M106.0 612.3h0M98.3 630.9h0M159.1 618.3h0M121.3 619.7h0M137.2 622.5h0M127.1 598.0h0M133.8 626.8h0M119.1 611.9h0M154.0 607.4h0M129.3 624.7h0M127.2 631.4h0M139.1 618.4h0M156.0 659.3h0M127.3 606.7h0M140.9 612.3h0M100.0 618.9h0M128.5 607.6h0M130.9 611.3h0M117.4 589.3h0M126.5 631.3h0M125.6 607.6h0M133.5 632.8h0M142.6 629.7h0M154.5 646.5h0M138.1 599.2h0M147.7 631.9h0M119.0 614.4h0M124.0 611.0h0M125.3 586.9h0M112.6 592.9h0M116.2 629.8h0M126.9 596.2h0M137.0 618.2h0M111.3 589.6h0M103.9 591.5h0M155.4 608.0h0M153.8 631.1h0M143.6 630.9h0M124.9 623.8h0M147.3 609.1h0M130.4 630.9h0M147.3 641.6h0M138.5 604.2h0M115.8 654.1h0M152.1 643.1h0M133.3 611.3h0M113.7 630.8h0M131.0 624.1h0M144.7 626.4h0M124.8 609.9h0M118.7 630.8h0M125.5 578.8h0M128.8 632.3h0M133.0 606.5h0"/>
<path stroke="#e8184a" d="M122.0 649.4h0M122.7 660.9h0M114.3 615.5h0M106.5 624.6h0M102.6 671.5h0M106.9 665.7h0M99.3 629.2h0M126.9 643.6h0M98.1 630.6h0M108.4 639.5h0M101.6 621.1h0M116.6 689.0h0M109.4 646.0h0M91.5 642.8h0M109.4 645.9h0M105.2 636.6h0M122.8 633.3h0M112.7 620.9h0M116.7 614.0h0M108.6 649.6h0M107.7 604.5h0M98.2 657.6h0M113.3 637.9h0"/>
<path stroke="#f05a28" d="M163.9 589.5h0M145.8 613.1h0M133.5 639.4h0M153.9 612.7h0M120.9 658.8h0M128.3 589.2h0M167.9 599.4h0M132.9 620.9h0M146.2 593.4h0M137.2 626.2h0M147.7 615.0h0M132.9 599.1h0M153.7 606.5h0M157.4 615.7h0M139.8 616.5h0M138.4 616.2h0M164.1 618.0h0M141.1 639.5h0M167.2 581.2h0M147.9 593.9h0M149.7 629.9h0M131.2 614.8h0M157.6 616.6h0M152.9 584.3h0M150.6 620.0h0M128.2 617.2h0M137.0 618.7h0M150.7 608.4h0M171.4 593.6h0M139.3 651.0h0M133.0 641.2h0M152.5 573.2h0M123.9 624.0h0M156.1 613.1h0M165.1 649.8h0M166.9 599.3h0M172.1 605.6h0M171.0 603.1h0M146.6 645.3h0M144.8 620.5h0M132.4 617.8h0M133.5 625.8h0M144.2 624.5h0M157.1 615.4h0M157.8 606.2h0M151.1 636.5h0M133.8 627.1h0M135.7 586.8h0M149.3 620.1h0M145.4 607.8h0M159.2 601.2h0M116.1 599.6h0M148.6 611.7h0M140.5 592.9h0M140.6 594.4h0M135.0 607.5h0M157.2 606.9h0M151.5 640.2h0M119.1 642.5h0M146.7 611.3h0M145.0 605.0h0M142.8 612.8h0M122.8 609.7h0M147.1 598.7h0M116.5 613.5h0M146.1 592.4h0M155.1 598.9h0M168.0 603.0h0M122.6 613.3h0"/>
<path stroke="#5cc4b8" d="M119.5 637.3h0M120.6 645.9h0M119.4 659.1h0M129.1 642.5h0M112.7 652.2h0M114.0 641.1h0M122.0 661.8h0M114.1 625.3h0M122.1 636.8h0M128.5 641.9h0M113.2 650.3h0M120.0 637.2h0M133.5 621.8h0M104.5 638.4h0M114.2 614.6h0M107.5 649.8h0M116.2 656.4h0M120.9 640.1h0M119.7 689.5h0M124.2 657.8h0M128.9 630.5h0M118.6 654.4h0M130.5 634.2h0M118.2 635.9h0M120.1 630.5h0M113.7 634.6h0M123.3 634.1h0M126.6 657.9h0M120.4 649.9h0M125.0 646.7h0M105.3 629.6h0M123.0 619.6h0M116.9 652.2h0M118.7 657.2h0M125.3 639.2h0M123.7 643.8h0M123.8 658.2h0M131.4 664.7h0M220.8 661.9h0M123.7 629.5h0M114.3 640.7h0M116.2 659.6h0M115.2 650.0h0M125.6 658.1h0M124.1 640.7h0M135.7 689.0h0M116.4 668.5h0M117.2 642.8h0M116.1 658.6h0M102.6 639.7h0M130.7 640.9h0M124.5 639.6h0M123.9 629.6h0M121.1 679.7h0M115.0 629.3h0"/>
<path stroke="#3ab8e6" d="M111.0 651.3h0M108.7 655.0h0M119.6 646.2h0M111.7 672.0h0M107.3 652.7h0M111.8 639.9h0M218.0 646.2h0M123.0 656.6h0M195.0 630.5h0M122.3 654.2h0M142.9 655.0h0M135.5 651.1h0M141.1 635.8h0M114.8 657.8h0M127.2 651.6h0M140.6 636.3h0M104.3 662.7h0M108.3 643.2h0M112.2 656.5h0M122.6 678.6h0M214.1 653.6h0M138.0 657.9h0M111.5 620.9h0M124.5 678.9h0M110.6 678.9h0M113.5 654.9h0M128.4 640.4h0M120.4 659.9h0M126.6 638.0h0M113.0 664.5h0M120.9 659.2h0M110.1 645.3h0M218.4 632.8h0M122.5 670.6h0M130.8 655.3h0M115.0 672.2h0M129.3 689.0h0M217.0 620.9h0M103.8 648.4h0M130.4 634.5h0M96.3 642.9h0M114.1 687.6h0M130.1 635.7h0M127.4 657.5h0M138.9 661.9h0M121.1 639.5h0M136.0 650.6h0M232.6 644.3h0M144.9 628.0h0M136.0 651.3h0M104.5 655.0h0M134.8 650.5h0M94.6 662.4h0M114.6 653.7h0M124.0 644.8h0M101.1 663.1h0M119.8 654.6h0M120.8 639.5h0M113.1 659.8h0M114.6 652.1h0M108.5 665.8h0M141.8 644.9h0M107.3 647.1h0M123.1 669.4h0M219.3 661.5h0M111.8 634.3h0M131.0 657.8h0M105.3 648.9h0M112.6 650.0h0M123.1 636.6h0M100.8 662.9h0M120.6 623.8h0M114.1 661.1h0M194.9 663.4h0M108.9 644.0h0M178.0 689.2h0M119.0 655.2h0M129.1 670.0h0M127.2 653.1h0M111.9 676.0h0M117.3 654.4h0M108.9 653.2h0M111.3 646.6h0M135.0 622.9h0"/>
<path stroke="#4cae4f" d="M156.1 638.9h0M122.3 666.7h0M124.9 645.7h0M99.3 656.1h0M153.9 610.7h0M133.1 637.3h0M129.1 646.1h0M133.2 623.8h0M122.4 663.4h0M124.3 659.5h0M117.6 632.4h0M137.7 682.1h0M107.6 649.0h0M105.7 665.8h0M103.0 661.2h0M126.6 644.9h0M114.3 631.3h0M137.2 621.8h0M125.8 619.6h0M130.1 639.3h0M115.9 626.4h0M131.7 636.0h0M121.1 650.3h0M120.2 646.3h0M115.1 684.4h0M105.1 654.8h0M142.2 669.0h0M137.5 656.9h0M143.5 649.6h0M130.4 668.0h0M128.4 639.1h0M145.9 671.9h0M133.1 685.4h0M141.9 618.8h0M135.7 643.9h0M131.0 689.2h0M142.6 655.9h0M116.6 649.1h0M134.6 670.2h0M136.8 632.4h0M126.4 656.1h0M113.8 626.7h0M143.7 654.3h0M123.7 641.8h0M138.7 627.4h0M120.7 677.0h0M148.7 645.6h0M124.8 647.9h0M141.0 627.7h0M111.8 652.3h0M114.3 634.8h0M128.0 655.5h0M127.4 643.5h0M106.9 629.5h0M129.3 638.2h0M121.7 683.6h0M125.4 653.1h0M117.9 635.3h0M135.1 662.5h0M121.2 650.6h0M131.7 632.7h0M134.9 644.1h0M138.6 660.1h0M117.8 674.3h0M113.0 660.0h0M105.2 618.9h0M126.7 639.2h0M138.3 623.5h0M142.0 644.0h0M105.9 625.3h0M115.0 655.2h0M106.1 632.3h0M110.5 616.9h0M148.4 675.3h0M139.4 652.8h0M140.1 630.5h0M120.6 665.9h0M132.9 631.0h0"/>
<path stroke="#f0e52a" d="M154.4 629.8h0M137.4 652.4h0M129.0 608.5h0M169.6 638.3h0M145.1 619.5h0M149.3 622.5h0M133.6 601.9h0M120.0 601.2h0M135.0 630.6h0M143.0 600.0h0M133.4 631.1h0M141.6 618.5h0M134.4 608.3h0M142.3 600.7h0M178.1 608.1h0M160.5 625.1h0M148.8 599.7h0M151.4 606.7h0M132.1 626.3h0M138.1 620.7h0M136.7 640.0h0M118.6 616.8h0M118.6 600.8h0M151.9 644.4h0M131.2 590.4h0M148.7 614.8h0M134.4 640.0h0M139.5 598.1h0M142.7 618.1h0M143.0 588.4h0M159.1 646.9h0M143.4 623.3h0M147.1 608.0h0M123.8 626.7h0M142.4 603.1h0M173.4 636.7h0M154.9 613.6h0M127.0 617.8h0M150.0 605.7h0M146.5 626.0h0M137.2 632.4h0M142.7 636.8h0M143.1 601.5h0M152.2 639.5h0M118.6 636.0h0M151.8 609.3h0M141.8 625.7h0M134.6 624.8h0M152.4 627.8h0M145.6 626.5h0M157.2 596.6h0M137.2 640.0h0M145.1 648.9h0"/>
<path stroke="#2b7bc4" d="M114.7 633.5h0M125.3 627.8h0M117.7 649.3h0M121.5 661.9h0M129.1 658.7h0M108.7 650.1h0M128.4 657.6h0M123.9 634.4h0M133.4 638.1h0M111.4 660.8h0M105.5 668.5h0M120.3 653.4h0M115.1 689.0h0M121.8 644.7h0M109.8 639.1h0M126.2 656.1h0M113.0 661.8h0M118.4 632.4h0M128.4 640.3h0M124.8 637.0h0M120.3 668.9h0M120.3 657.0h0M122.0 663.5h0M129.7 643.8h0M108.0 648.7h0M119.6 655.4h0M110.4 641.1h0M118.5 662.8h0M125.7 650.5h0M116.9 633.9h0M122.7 654.3h0M110.2 653.1h0M115.4 657.7h0M113.3 650.6h0"/>
<path stroke="#5a44a8" d="M114.3 651.4h0M104.6 634.2h0M111.2 637.9h0M110.2 649.2h0M100.1 625.7h0M108.9 623.3h0M114.5 647.5h0M101.4 622.1h0M107.5 614.8h0M106.5 627.3h0M109.7 601.4h0M100.6 624.3h0M117.8 627.6h0M104.5 614.9h0M121.6 610.7h0M107.6 638.6h0M112.5 640.9h0M107.6 633.3h0M117.1 635.1h0M112.9 631.5h0M105.9 616.4h0M97.5 562.4h0M102.1 642.9h0M113.0 619.3h0M112.1 591.3h0M109.0 600.4h0M107.8 615.6h0M103.6 607.3h0M109.8 649.1h0M109.5 626.2h0M123.2 642.3h0M101.9 621.0h0M115.7 641.4h0M111.9 628.7h0M110.7 632.3h0M123.3 624.1h0M112.9 637.3h0M107.2 640.7h0M111.9 606.7h0M112.0 606.0h0M112.8 667.5h0M99.8 617.9h0M108.5 616.3h0M108.8 645.1h0M121.4 615.3h0M104.5 664.2h0"/>
<path stroke="#2f5bb5" d="M116.0 628.8h0M116.2 623.8h0M123.9 630.4h0M110.2 637.1h0M116.5 618.3h0M113.9 648.4h0M117.8 653.3h0M117.6 653.4h0M124.2 654.5h0M124.3 663.2h0M117.5 643.3h0M125.6 618.0h0M100.8 638.2h0M120.1 658.2h0M107.4 645.7h0M93.9 608.5h0M117.3 642.3h0M108.5 624.6h0M119.3 657.4h0M120.8 651.1h0M114.1 642.0h0M118.2 644.1h0M114.7 651.0h0M110.8 630.0h0M120.0 642.8h0M119.2 641.3h0M122.4 646.6h0M126.8 651.2h0M110.7 617.8h0M105.2 635.1h0M123.0 647.7h0M115.1 630.3h0M126.1 630.9h0M108.7 667.1h0"/>
<path stroke="#e2207e" d="M116.9 641.1h0M123.9 663.8h0M95.0 657.7h0M113.0 616.8h0M112.8 652.7h0M122.1 689.0h0M118.2 623.0h0M113.3 616.4h0M125.3 627.5h0M121.5 660.6h0M115.9 634.0h0M110.7 640.3h0M134.7 651.4h0M116.8 689.1h0M113.6 628.9h0M96.0 658.5h0M109.5 609.9h0M109.0 647.6h0M114.2 624.1h0M114.7 623.1h0M114.9 643.9h0M109.9 611.2h0M110.3 636.1h0M117.0 633.5h0M97.8 636.4h0M108.8 629.5h0M121.1 617.9h0M116.9 648.7h0M126.6 689.5h0M97.1 667.9h0M116.3 623.1h0M119.3 630.6h0M102.7 624.8h0M117.5 604.8h0M118.4 635.9h0M104.2 646.2h0M99.2 644.6h0M111.4 636.2h0M104.0 634.8h0M116.8 641.1h0M113.3 646.1h0M115.8 644.0h0M106.6 610.0h0M113.8 595.1h0M115.5 620.5h0M126.3 655.9h0M108.7 608.7h0M114.3 647.6h0M120.1 635.2h0M106.9 650.7h0M110.3 657.2h0M108.7 650.6h0M112.5 632.7h0M122.6 641.5h0M106.1 634.3h0M108.6 627.8h0"/>
<path stroke="#7dc142" d="M131.0 619.3h0M120.6 603.7h0M121.5 613.3h0M160.1 595.7h0M150.0 646.0h0M109.4 607.3h0M132.8 619.9h0M135.8 597.8h0M131.5 624.6h0M115.8 619.5h0M128.7 584.7h0M135.5 616.9h0M122.5 614.9h0M119.7 617.9h0M146.0 576.2h0M103.0 613.3h0M128.3 591.1h0M121.8 633.7h0M93.6 620.5h0M101.3 601.3h0M127.1 610.6h0M109.9 650.6h0M120.1 601.5h0M127.7 632.9h0M127.0 606.5h0M140.2 616.2h0M125.3 598.3h0M135.0 627.0h0M117.0 615.9h0M102.0 664.1h0M134.2 615.4h0M126.9 586.2h0M140.4 617.1h0M115.5 612.4h0M117.5 627.1h0M134.8 615.5h0M134.4 629.6h0M110.7 584.9h0M123.2 599.6h0M143.7 627.1h0M147.6 619.6h0M124.9 648.7h0M145.0 612.2h0M138.2 654.2h0M135.2 613.1h0M137.0 624.8h0M124.9 615.0h0M135.5 610.3h0M130.9 584.1h0M137.8 604.0h0M97.8 592.3h0M139.4 638.0h0M111.2 613.4h0M126.0 625.8h0M118.6 611.5h0M148.8 630.3h0M129.0 654.9h0M105.2 600.3h0M129.7 586.5h0M120.0 612.9h0M154.5 625.3h0M103.5 603.3h0M107.5 616.4h0M113.9 598.1h0M142.9 622.8h0M121.4 661.5h0M109.9 630.9h0M134.8 628.3h0M155.4 642.0h0M146.0 644.6h0M134.1 586.8h0M131.7 594.2h0M132.3 630.4h0M146.3 621.5h0M143.5 603.9h0M124.4 608.7h0M122.4 589.3h0M123.2 615.1h0M131.9 610.6h0M127.3 581.7h0M128.5 602.7h0M120.6 592.5h0M134.4 638.8h0"/>
<path stroke="#8c4aa8" d="M120.5 630.9h0M115.1 617.0h0M122.1 647.9h0M113.5 606.7h0M110.7 660.6h0M113.9 608.9h0M110.1 617.1h0M115.1 656.4h0M113.4 582.7h0M107.1 628.2h0M116.7 637.8h0M110.5 632.3h0M123.2 632.8h0M111.5 628.4h0M119.7 631.2h0M93.3 614.4h0M129.5 622.5h0M111.2 689.0h0M99.6 661.4h0M107.7 635.8h0M109.3 637.6h0M96.5 637.7h0M105.5 617.8h0M103.4 652.2h0M107.6 636.0h0M111.4 613.2h0M113.5 662.2h0M109.4 628.7h0M106.5 606.0h0M103.0 615.9h0M103.5 679.7h0M98.1 610.9h0M105.6 689.0h0M98.6 654.6h0M100.0 598.3h0M109.2 665.2h0"/>
<path stroke="#5cb85c" d="M114.2 635.3h0M143.1 638.9h0M149.1 629.2h0M145.0 649.5h0M116.4 639.3h0M132.6 617.2h0M118.9 636.9h0M130.7 639.5h0M96.6 615.3h0M101.0 626.1h0M130.3 637.3h0M152.5 651.8h0M124.8 628.8h0M118.8 630.1h0M101.9 629.6h0M139.8 650.2h0M119.2 607.7h0M132.0 652.8h0M102.4 645.8h0M130.3 627.9h0M133.2 627.2h0M134.5 648.4h0M101.1 611.4h0M115.5 635.9h0M123.6 667.5h0M128.7 622.9h0M129.9 635.9h0M152.6 642.5h0"/>
<path stroke="#f2f2f2" d="M101.8 628.4h0M108.5 594.3h0M91.5 603.9h0M104.2 689.0h0M91.1 637.0h0M102.0 617.6h0M98.6 652.9h0M102.4 642.3h0M101.0 627.4h0"/>
<path stroke="#3c3c3c" d="M94.1 636.5h0M99.7 609.9h0M100.0 633.9h0M97.8 632.0h0M97.7 649.7h0M101.2 634.2h0M106.5 640.9h0M96.6 634.4h0M97.7 630.0h0M93.6 689.0h0M102.1 633.0h0M99.7 618.6h0"/>
<path stroke="#cfcfcf" d="M99.2 689.0h0M103.2 629.9h0M91.3 615.7h0M106.1 597.6h0M102.4 582.3h0M103.0 607.7h0M110.2 608.5h0M108.2 626.6h0M100.9 639.6h0M91.1 629.9h0"/>
<path stroke="#0c0c0c" d="M109.4 675.4h0M105.7 676.9h0M109.7 676.7h0M108.2 677.3h0M109.8 677.1h0M103.7 678.5h0M110.1 681.6h0M115.0 679.6h0M107.7 669.5h0M103.0 674.6h0M110.7 676.2h0M110.8 672.7h0M109.1 669.9h0M110.6 677.9h0M108.4 674.9h0M110.2 672.7h0"/>
<path stroke="#3a47b0" d="M112.0 633.3h0M108.0 610.6h0M117.9 615.8h0M112.8 619.9h0M107.1 614.3h0M112.6 615.3h0M107.7 580.4h0M113.3 627.5h0M102.2 650.4h0M101.2 575.7h0M120.7 674.6h0M106.6 614.4h0M109.0 648.9h0M105.6 637.1h0M117.3 622.6h0M110.9 632.3h0M112.2 604.1h0M113.9 650.4h0M110.6 593.7h0M125.3 633.7h0M123.3 621.4h0M112.3 628.2h0M109.7 602.3h0M112.8 645.3h0"/>
<path stroke="#5fba6a" d="M136.3 655.6h0M125.0 608.5h0M111.0 633.7h0M115.4 611.4h0M115.0 624.8h0M129.9 648.5h0M136.8 629.3h0M142.5 629.5h0M122.6 590.2h0M126.0 623.4h0M113.2 608.4h0M132.4 620.7h0M117.9 613.0h0M135.8 624.9h0M108.3 614.6h0M124.4 644.9h0M141.8 592.8h0M111.1 625.3h0M139.6 595.3h0M105.1 625.7h0M114.0 599.4h0M131.7 610.0h0M125.0 601.7h0M148.2 614.5h0M126.9 608.1h0M118.8 644.3h0M143.5 652.7h0M98.8 604.6h0M140.5 641.1h0M131.3 654.2h0M135.9 628.6h0M118.8 593.2h0M115.2 616.1h0M143.2 582.5h0M110.5 628.4h0"/>
<path stroke="#b84aa5" d="M111.7 659.9h0M110.1 640.9h0M125.7 615.0h0M113.5 655.8h0M110.8 641.1h0M112.4 661.0h0M112.8 632.9h0M124.1 642.4h0M115.7 662.9h0M100.1 598.0h0M115.9 653.6h0M119.2 632.2h0M124.1 649.2h0"/>
<path stroke="#8a8a8a" d="M109.6 602.6h0M95.4 630.7h0M111.9 612.3h0M106.6 572.6h0M102.6 632.4h0M95.3 590.9h0M111.2 620.2h0M91.1 569.6h0M104.2 627.2h0M96.9 630.3h0M110.3 610.1h0"/>
<path stroke="#e2207e" d="M124.1 650.4h0M117.7 636.1h0M127.5 655.5h0M112.7 655.6h0M122.5 668.9h0M105.7 637.1h0M111.1 606.8h0M104.2 641.0h0M132.0 649.9h0M116.4 635.4h0M107.4 686.0h0M112.6 662.1h0M119.2 636.4h0M98.6 630.6h0M117.9 640.5h0M121.9 612.3h0M116.5 611.6h0M115.7 642.4h0M99.5 631.0h0M120.7 649.3h0M106.5 640.0h0M122.6 689.5h0M114.9 635.8h0M115.3 646.8h0M119.1 644.2h0M100.2 661.5h0M100.8 647.8h0M107.7 632.1h0M115.1 643.0h0M90.7 630.3h0M111.1 639.1h0M109.5 644.9h0M115.4 646.1h0M121.2 652.0h0M101.3 612.9h0M113.7 591.6h0M121.5 627.5h0M99.8 613.6h0M111.2 652.2h0M110.6 689.0h0M105.6 651.5h0M124.3 635.9h0M112.3 616.0h0M100.8 606.8h0M109.4 641.5h0M115.3 662.3h0M115.6 650.9h0M117.8 658.5h0M101.6 642.3h0M102.3 648.5h0"/>
<path stroke="#3ab8e6" d="M215.8 623.6h0M96.0 652.8h0M104.2 630.8h0M132.2 653.9h0M119.0 656.7h0M131.3 647.5h0M136.2 640.5h0M115.6 638.3h0M107.9 662.2h0M140.3 660.8h0M92.2 645.0h0M124.3 673.9h0M142.3 650.6h0M211.0 623.6h0M223.3 665.5h0M134.6 653.6h0M109.7 643.4h0M111.6 637.7h0M115.3 662.7h0M125.8 659.1h0M108.1 658.6h0M136.9 640.3h0M114.6 649.5h0M116.2 634.0h0M116.3 634.4h0M197.2 636.2h0M107.5 630.7h0M131.7 653.7h0M113.3 681.7h0M115.9 671.6h0M108.3 654.8h0M110.1 661.8h0M130.5 660.8h0M105.3 635.9h0M217.0 656.5h0M98.8 650.4h0M127.6 639.2h0M114.3 667.6h0M128.9 624.2h0M109.9 637.5h0M118.2 654.3h0M116.0 643.3h0M132.3 664.8h0M152.5 664.4h0M105.6 636.6h0M109.8 639.8h0M119.1 630.0h0M129.8 637.6h0M119.3 648.5h0M116.3 651.0h0M112.5 670.4h0M114.3 645.9h0M117.0 665.7h0M127.7 650.2h0M119.9 660.5h0M106.3 641.5h0M129.5 657.8h0M139.1 652.0h0M113.8 646.1h0M120.8 644.5h0M106.0 673.1h0M121.2 657.3h0M128.8 641.1h0M130.6 638.5h0M157.6 660.7h0M225.5 673.4h0M131.6 641.6h0M111.9 670.8h0M105.4 651.4h0M115.4 673.2h0M108.7 678.9h0M117.6 644.5h0M108.0 658.8h0M121.9 652.3h0M118.0 689.0h0M194.5 667.7h0M106.9 666.6h0M209.3 618.5h0M121.5 645.3h0M122.3 622.7h0M119.2 689.5h0M207.5 618.6h0M136.4 660.3h0M110.7 650.8h0M121.8 646.6h0M108.8 627.4h0M109.6 650.4h0M124.7 655.6h0M229.6 651.2h0M100.2 650.4h0M122.1 648.0h0M113.9 657.6h0M108.7 640.3h0M99.5 642.7h0M105.8 649.5h0M194.2 673.7h0M145.6 654.4h0M115.9 635.4h0"/>
<path stroke="#f7a11a" d="M160.8 633.2h0M136.9 623.8h0M124.5 601.0h0M133.4 592.4h0M142.4 614.2h0M111.8 607.6h0M152.7 623.5h0M134.5 602.4h0M119.1 598.6h0M138.8 602.1h0M105.0 620.7h0M142.3 601.5h0M147.1 610.8h0M151.9 625.8h0M162.1 569.3h0M177.6 603.7h0M124.2 591.9h0M158.9 602.3h0M165.0 607.7h0M140.2 587.6h0M124.7 614.7h0M133.7 610.2h0M173.5 597.6h0M153.7 595.0h0M131.0 630.6h0M132.8 607.5h0M139.6 599.0h0M147.8 598.0h0M131.5 609.4h0M132.9 608.1h0M122.2 572.2h0M146.5 594.1h0M124.7 601.3h0M136.5 618.1h0M155.9 617.0h0M145.0 606.3h0M158.5 661.4h0M141.1 563.0h0M138.7 605.4h0M128.1 616.1h0M154.3 606.7h0M131.4 611.3h0M144.1 623.3h0M150.2 606.8h0M118.7 631.6h0M145.2 615.6h0M146.4 615.4h0M141.1 625.5h0M117.0 622.6h0M151.6 610.2h0M138.9 628.8h0M131.6 610.9h0M158.6 597.2h0M151.8 614.1h0M135.0 642.4h0M171.6 617.9h0M119.6 583.6h0M168.0 616.6h0M164.3 602.3h0M145.7 585.7h0M122.6 622.0h0M124.4 641.1h0M150.3 616.9h0M148.9 626.1h0M128.6 611.6h0M153.2 616.5h0M146.1 592.8h0M157.1 633.4h0M171.1 581.1h0M157.8 613.0h0M136.9 591.8h0M127.1 630.5h0M108.9 598.5h0M149.4 602.9h0M144.7 605.3h0M113.3 599.4h0M140.5 618.0h0M149.1 578.5h0M149.2 590.8h0M139.4 614.0h0M133.1 601.9h0"/>
<path stroke="#4cae4f" d="M107.8 626.9h0M136.8 622.2h0M137.3 619.7h0M122.2 670.4h0M124.0 647.9h0M147.6 634.9h0M104.8 629.4h0M142.3 688.9h0M129.2 648.6h0M139.1 640.7h0M124.1 646.4h0M127.2 638.0h0M133.2 630.9h0M128.6 647.0h0M115.5 653.8h0M121.3 632.7h0M154.0 635.8h0M143.7 654.0h0M118.4 621.0h0M111.8 648.4h0M127.6 654.7h0M121.9 661.5h0M124.1 615.4h0M135.4 638.7h0M133.4 685.0h0M104.5 617.0h0M123.2 665.3h0M117.3 640.4h0M108.3 637.8h0M117.3 632.3h0M115.9 675.0h0M131.5 652.3h0M110.5 629.2h0M108.6 660.0h0M129.5 638.4h0M124.6 650.3h0M128.5 660.7h0M147.1 650.9h0M128.2 666.2h0M132.4 650.0h0M135.7 650.8h0M140.9 641.9h0M118.7 683.5h0M123.6 653.0h0M117.9 630.3h0M116.7 679.3h0M117.5 657.0h0M122.7 680.1h0M115.3 643.4h0M142.4 654.9h0M123.1 642.7h0M133.7 668.7h0M140.5 641.5h0M120.9 619.3h0M125.6 646.1h0M101.5 626.2h0M136.4 689.3h0M129.7 668.1h0M149.3 651.3h0M158.1 645.7h0M132.4 669.4h0M121.7 624.0h0M124.0 653.6h0M126.1 621.7h0M138.6 652.1h0M122.6 664.1h0M123.7 643.1h0M129.5 654.3h0M158.6 672.4h0M106.2 662.5h0M120.4 654.1h0M146.4 655.6h0M135.3 654.5h0"/>
<path stroke="#f05a28" d="M150.4 629.1h0M160.1 591.6h0M156.6 632.7h0M143.5 593.1h0M160.6 616.5h0M155.4 629.5h0M130.4 628.2h0M156.1 593.7h0M154.9 613.5h0M142.6 623.0h0M152.9 615.2h0M138.4 609.2h0M152.8 651.6h0M122.4 605.0h0M139.5 590.0h0M96.1 642.6h0M137.5 606.8h0M183.2 636.2h0M146.2 600.4h0M138.5 579.5h0M147.1 606.9h0M147.8 652.7h0M153.2 633.4h0M152.9 612.6h0M140.2 594.4h0M128.0 603.4h0M158.4 621.2h0M152.0 628.6h0M139.6 591.6h0M125.5 612.6h0M162.1 620.7h0M155.3 604.4h0M116.9 608.5h0M158.4 611.9h0M175.2 600.7h0M130.1 618.0h0M166.3 650.9h0M149.9 628.0h0M163.4 597.1h0M152.3 641.0h0M128.1 623.0h0M135.1 626.6h0M141.2 623.8h0M153.4 642.2h0M165.7 655.7h0M132.9 629.0h0M157.5 619.7h0M147.5 597.3h0M140.9 623.5h0M147.6 642.8h0M160.8 622.9h0M118.2 611.3h0M167.4 606.7h0M149.0 588.7h0M157.2 607.8h0M154.4 646.7h0M156.4 626.5h0M138.4 619.5h0M147.2 601.1h0M134.1 597.8h0M139.8 597.9h0M139.5 587.4h0M147.0 625.7h0M145.4 627.7h0M120.7 594.5h0M141.9 603.2h0"/>
<path stroke="#f0e52a" d="M134.5 599.7h0M117.1 622.8h0M134.8 595.2h0M152.9 632.3h0M125.9 601.4h0M135.9 624.2h0M133.7 615.9h0M136.0 621.1h0M137.0 601.5h0M120.8 652.5h0M145.3 653.1h0M144.4 589.0h0M147.6 633.7h0M148.0 648.8h0M138.2 584.7h0M155.1 579.1h0M128.7 618.0h0M132.0 607.3h0M145.0 629.8h0M166.4 609.8h0M142.9 628.3h0M130.0 625.0h0M157.7 634.1h0M122.6 597.0h0M153.1 615.3h0M147.8 611.7h0M135.1 639.0h0M107.2 604.7h0M145.3 573.4h0M146.8 587.0h0M146.1 620.1h0M119.7 624.3h0M128.0 617.9h0M137.6 618.6h0M135.1 623.3h0M159.8 584.7h0M136.4 613.2h0M121.6 606.3h0M128.4 612.8h0M137.6 590.6h0M163.7 612.6h0M125.3 614.2h0M147.8 592.5h0M123.0 635.0h0M151.0 618.1h0M110.2 637.9h0M152.5 587.8h0M134.9 607.8h0M130.7 584.5h0M113.5 653.0h0M141.1 597.1h0M128.4 626.5h0M145.9 635.9h0M136.4 602.0h0M153.7 614.2h0M142.6 592.8h0M133.0 643.4h0M160.2 597.4h0M143.8 632.0h0M152.1 624.0h0M138.1 583.2h0M160.4 623.6h0M182.4 637.4h0M145.4 583.9h0M130.1 603.0h0M162.4 619.0h0M147.5 604.8h0M153.6 634.5h0M116.9 630.8h0M170.6 623.7h0M125.9 565.3h0M128.8 612.9h0"/>
<path stroke="#e8184a" d="M104.1 635.0h0M115.7 638.9h0M108.0 637.3h0M101.6 663.1h0M117.5 628.1h0M105.1 624.8h0M121.3 631.7h0M109.1 658.4h0M118.1 626.1h0M105.2 646.5h0M117.5 660.3h0M111.9 624.4h0M109.1 586.5h0M115.8 625.7h0M109.0 653.6h0M108.4 621.6h0M112.0 638.5h0M96.8 661.2h0M107.3 667.9h0M117.4 645.9h0M111.3 622.4h0M115.4 689.0h0M115.6 661.8h0M115.0 643.8h0M102.7 637.0h0M131.5 631.0h0M125.5 634.5h0"/>
<path stroke="#5cc4b8" d="M116.1 653.4h0M112.9 633.8h0M117.0 639.8h0M125.3 644.0h0M124.0 635.0h0M119.4 648.2h0M120.7 671.4h0M119.9 669.8h0M110.4 643.9h0M119.4 648.1h0M119.5 644.3h0M108.5 639.5h0M124.6 658.5h0M128.1 647.2h0M123.4 646.9h0M132.0 651.2h0M123.2 624.2h0M123.5 646.3h0M130.0 640.6h0M112.0 654.6h0M131.8 655.6h0M233.0 642.3h0M126.4 652.2h0M125.2 659.8h0M107.8 664.8h0M121.2 637.9h0M129.9 652.2h0M122.2 640.3h0M123.1 673.4h0M132.4 645.0h0M129.8 628.8h0M121.8 663.5h0M132.4 646.7h0M124.9 673.3h0M117.5 619.4h0M120.8 658.2h0M121.8 638.7h0M124.4 627.3h0M123.9 651.5h0M122.9 648.1h0M120.8 640.5h0M126.8 645.9h0M117.9 636.5h0M131.2 634.1h0M124.8 652.5h0M205.9 648.6h0M128.1 648.9h0M121.0 649.1h0M115.0 673.0h0M129.1 656.1h0"/>
<path stroke="#f2f2f2" d="M96.6 642.8h0M101.3 591.9h0M95.2 645.9h0M98.3 658.8h0M93.8 609.9h0M101.7 645.9h0M91.7 613.6h0M98.6 627.6h0M98.4 619.7h0M100.4 635.5h0M103.2 670.7h0M106.2 608.9h0M92.9 640.1h0M102.5 617.9h0M103.0 637.3h0M101.8 639.2h0M95.4 612.1h0"/>
<path stroke="#2f5bb5" d="M117.9 664.2h0M107.5 645.0h0M115.9 601.6h0M112.9 668.8h0M108.5 661.7h0M121.1 628.5h0M109.5 632.9h0M120.7 637.0h0M113.2 646.4h0M124.8 625.3h0M106.2 625.7h0M123.1 618.6h0M120.9 689.0h0M115.1 658.8h0M117.4 626.7h0M125.3 622.9h0M123.1 623.3h0M103.7 657.0h0M118.3 633.4h0M111.4 653.9h0M122.4 653.2h0M116.5 661.8h0M111.3 624.7h0M103.8 655.9h0M125.1 647.4h0M107.3 648.8h0M109.8 627.0h0M121.4 646.6h0M120.4 648.4h0M124.8 637.8h0M115.6 659.4h0M108.0 654.0h0M111.5 651.7h0M123.0 622.6h0M102.0 642.6h0M123.1 654.4h0M117.5 655.5h0M114.7 648.0h0M109.3 670.6h0M100.7 646.3h0M128.4 689.5h0M111.9 632.2h0M117.3 652.9h0M116.5 635.0h0M108.5 624.7h0M115.1 650.8h0"/>
<path stroke="#7dc142" d="M124.7 613.2h0M128.3 615.6h0M130.2 605.6h0M138.2 615.5h0M135.7 609.9h0M119.5 660.8h0M125.0 615.2h0M117.7 614.5h0M134.7 643.7h0M126.8 613.1h0M121.0 639.2h0M129.2 608.7h0M113.3 608.2h0M128.0 610.5h0M137.2 624.9h0M131.9 633.6h0M135.2 635.6h0M143.5 640.7h0M153.2 594.0h0M122.0 646.2h0M137.7 610.4h0M137.4 598.6h0M134.2 629.1h0M119.6 623.5h0M117.9 590.4h0M129.7 613.4h0M158.6 611.4h0M132.2 618.4h0M133.0 609.5h0M132.2 607.4h0M103.7 640.1h0M137.1 610.7h0M113.7 623.6h0M123.0 615.8h0M111.1 585.0h0M125.8 629.9h0M99.2 660.4h0M118.7 625.3h0M122.5 618.1h0M118.9 611.2h0M127.2 602.9h0M124.0 601.1h0M128.2 596.3h0M120.1 636.1h0M119.9 603.2h0M132.3 606.6h0M111.0 596.2h0M148.3 624.6h0M128.6 611.1h0M135.9 602.8h0M135.7 633.1h0M119.8 630.3h0M126.0 611.8h0M114.9 641.6h0M134.0 624.1h0M119.9 574.9h0M134.7 616.0h0M137.8 580.5h0M128.4 619.6h0M115.8 589.4h0M118.8 649.4h0M145.5 632.6h0M152.7 632.4h0M121.0 613.7h0M147.3 613.3h0M119.8 602.1h0M126.9 618.7h0M118.9 633.4h0M125.1 627.5h0M121.2 610.0h0M98.7 608.6h0M119.6 636.4h0M131.1 619.0h0M137.0 620.7h0M143.1 591.1h0M142.6 619.2h0M140.7 620.6h0M157.8 592.5h0M141.6 638.5h0M128.6 651.1h0M101.2 628.9h0M128.8 610.2h0M124.3 597.1h0M131.0 573.9h0M119.0 608.6h0"/>
<path stroke="#8c4aa8" d="M104.9 610.8h0M116.9 619.4h0M110.3 611.3h0M105.6 625.2h0M122.9 596.9h0M113.2 651.9h0M117.4 620.6h0M115.7 612.8h0M111.7 639.6h0M108.9 609.1h0M111.8 635.4h0M110.1 632.3h0M108.0 632.8h0M105.4 675.1h0M110.0 656.4h0M114.5 641.1h0M108.8 610.7h0M101.2 658.3h0M116.3 653.7h0M109.1 624.3h0M108.8 618.9h0M124.5 636.2h0M113.6 619.3h0"/>
<path stroke="#3a47b0" d="M108.2 646.4h0M115.6 637.2h0M119.4 639.1h0M94.1 632.1h0M114.8 622.9h0M108.6 616.6h0M115.3 665.5h0M112.0 628.7h0M113.8 632.0h0M120.0 672.1h0M108.3 597.3h0M104.7 663.9h0M100.7 602.5h0M111.4 614.6h0M109.2 660.7h0M117.3 600.8h0"/>
<path stroke="#b8d438" d="M108.0 623.6h0M147.8 635.3h0M126.5 606.0h0M130.0 608.2h0M103.3 608.4h0M164.1 637.6h0M126.5 637.4h0M133.3 595.8h0M148.9 622.0h0M125.6 604.0h0M131.3 650.2h0M115.7 626.7h0M131.5 616.1h0M141.7 628.3h0M143.3 602.2h0M146.1 641.8h0M124.3 627.5h0M127.9 620.5h0M179.9 607.8h0M126.2 640.5h0M123.6 623.0h0M124.4 599.4h0M123.9 619.3h0M134.2 621.5h0M147.8 634.5h0M120.9 648.0h0M127.2 645.5h0M157.2 656.2h0M138.6 640.2h0M137.7 655.6h0M136.0 626.6h0M129.4 638.1h0M112.0 623.0h0M119.8 616.7h0M169.8 615.4h0M128.6 599.6h0M141.9 638.4h0M128.7 654.9h0M121.7 608.7h0M116.2 621.2h0M133.7 603.5h0M157.3 619.9h0M132.1 643.3h0M136.4 600.6h0M154.8 605.4h0M125.6 622.3h0M135.6 636.3h0M142.8 647.9h0M114.6 624.1h0M139.5 589.4h0M118.5 594.8h0M117.6 616.2h0M118.5 599.3h0"/>
<path stroke="#e31e24" d="M139.7 593.9h0M140.5 614.1h0M171.5 612.4h0M141.0 629.5h0M175.1 635.9h0M190.6 619.7h0M144.0 579.7h0M164.6 582.6h0M173.9 627.1h0M171.1 627.4h0M173.1 612.7h0M168.8 623.4h0M132.8 614.3h0M129.2 636.9h0M161.7 616.8h0M181.7 617.1h0M170.1 597.1h0M167.6 621.2h0M119.1 632.6h0M147.9 619.2h0M126.4 558.3h0M164.1 575.8h0M182.8 586.1h0M168.7 611.3h0M166.3 605.9h0M159.5 670.3h0M187.0 587.2h0M140.9 623.7h0M130.4 605.2h0M184.7 624.5h0M174.3 660.1h0M195.6 622.4h0M167.4 611.4h0M142.2 606.3h0M178.4 634.3h0M162.9 594.4h0M133.4 629.2h0M162.5 633.3h0M167.5 610.7h0M174.4 620.1h0M155.9 664.4h0M165.9 651.5h0M145.5 628.9h0M172.0 591.8h0M178.7 595.0h0M167.8 583.6h0M141.5 583.9h0M135.2 614.2h0M172.8 602.0h0M181.5 618.9h0M166.9 638.7h0M192.6 597.4h0M141.5 616.5h0M157.6 574.7h0M124.9 644.0h0M173.1 594.8h0"/>
<path stroke="#5cb85c" d="M132.9 626.1h0M145.3 657.4h0M137.7 639.4h0M107.1 645.7h0M135.6 636.0h0M116.5 653.0h0M125.7 621.1h0M108.9 604.1h0M142.1 645.2h0M130.8 661.9h0M146.7 658.0h0M147.9 633.7h0M147.3 622.1h0M106.4 639.0h0M133.2 636.4h0M131.5 666.7h0M148.2 642.7h0M108.7 650.2h0M130.5 644.1h0M137.4 631.3h0M104.0 621.5h0M129.9 607.0h0M120.3 616.4h0M145.5 633.4h0M135.9 618.8h0M123.7 620.0h0M126.1 643.5h0M119.1 625.4h0M118.0 618.2h0M122.1 651.8h0M130.6 642.0h0M137.5 614.4h0M130.9 587.3h0M123.3 627.5h0M113.8 623.6h0M125.6 617.7h0M128.7 650.1h0M149.0 636.7h0M133.4 646.2h0M121.5 653.4h0M154.3 664.2h0M126.1 618.4h0M129.2 634.1h0M116.8 632.8h0"/>
<path stroke="#5fba6a" d="M123.9 598.7h0M107.3 590.0h0M124.9 581.9h0M115.4 624.0h0M127.4 644.2h0M125.5 602.7h0M132.5 630.8h0M133.0 648.8h0M143.9 611.6h0M129.4 619.0h0M131.8 619.7h0M113.8 636.5h0M137.6 625.2h0M130.5 624.4h0M155.5 579.7h0M117.2 628.0h0M129.1 592.9h0M97.3 643.3h0M131.7 638.9h0M120.0 615.8h0M102.8 661.7h0M122.9 584.1h0M140.6 626.4h0M118.6 635.0h0M139.7 638.7h0M130.8 633.5h0M129.5 621.6h0M136.2 606.2h0M124.1 650.9h0M135.7 632.3h0M111.1 632.1h0M114.0 604.6h0M112.7 597.8h0M119.0 625.6h0M100.0 630.8h0M136.4 607.9h0M136.8 607.7h0M127.6 619.1h0M138.6 629.8h0M142.4 659.8h0M117.9 623.1h0M133.2 634.2h0M140.4 632.2h0"/>
<path stroke="#5a44a8" d="M115.8 622.4h0M100.4 640.1h0M107.3 689.0h0M112.8 640.5h0M103.8 613.2h0M104.9 608.1h0M111.7 633.3h0M105.5 630.1h0M107.5 599.9h0M110.4 630.7h0M109.8 614.2h0M106.4 635.6h0M107.1 642.4h0M102.6 637.9h0M110.6 629.5h0M106.7 616.0h0M101.7 594.8h0M111.2 610.3h0M106.0 631.1h0M104.4 653.4h0M104.3 650.2h0M120.8 661.8h0M101.8 639.9h0M107.2 647.7h0M107.8 618.4h0M114.0 633.8h0M102.9 613.7h0M115.3 591.2h0M95.5 608.8h0M98.4 608.5h0M99.3 602.7h0M108.2 634.3h0M99.2 616.2h0M107.1 670.4h0M115.2 657.2h0M107.8 627.5h0M111.4 672.4h0M116.8 589.2h0M105.9 616.3h0M103.2 629.1h0M108.4 620.2h0M120.2 660.0h0M110.5 641.0h0M100.2 635.3h0M108.8 652.0h0"/>
<path stroke="#cfcfcf" d="M103.4 659.6h0M98.2 646.6h0M105.1 655.0h0M115.4 618.2h0M102.5 643.9h0M96.6 641.9h0M100.3 594.4h0M100.3 656.4h0M98.9 619.7h0M103.5 661.0h0M105.4 619.5h0"/>
<path stroke="#8a8a8a" d="M102.0 594.1h0M105.1 612.2h0M112.6 630.9h0M115.7 615.6h0M93.7 638.3h0M98.4 589.5h0M92.1 605.5h0M105.4 635.9h0"/>
<path stroke="#0c0c0c" d="M109.2 676.3h0M112.9 673.9h0M105.4 683.0h0M106.9 678.3h0M107.3 676.7h0M109.6 676.4h0M109.6 673.6h0M110.2 678.3h0M108.1 677.1h0M110.4 689.2h0M108.4 673.1h0M109.8 672.6h0M108.5 677.5h0M109.7 679.4h0"/>
<path stroke="#2b7bc4" d="M122.5 653.5h0M122.2 665.5h0M115.6 689.0h0M114.5 651.8h0M114.9 668.7h0M106.6 630.0h0M108.7 646.7h0M112.5 622.0h0M122.3 663.3h0M101.7 658.3h0M116.9 661.0h0M119.4 635.8h0M122.1 665.0h0M115.0 664.5h0M117.2 657.7h0M123.6 625.6h0M110.2 661.4h0M112.9 657.5h0M115.2 654.3h0M116.7 658.7h0M117.5 654.4h0M125.0 652.1h0M125.8 647.5h0M124.9 644.4h0M114.2 645.7h0M107.5 644.5h0M125.1 667.8h0M116.5 629.8h0M121.3 650.2h0"/>
<path stroke="#3c3c3c" d="M98.7 624.8h0M96.5 630.3h0M100.7 650.7h0M99.9 649.9h0M101.1 625.6h0"/>
<path stroke="#b84aa5" d="M114.0 617.8h0M117.9 646.8h0"/>
<path stroke="#e31e24" d="M175.5 622.5h0M167.7 592.3h0M158.7 612.6h0M180.7 612.5h0M179.4 567.5h0M116.6 621.2h0M169.6 596.3h0M128.6 623.4h0M136.8 634.7h0M153.3 643.9h0M152.0 570.4h0M163.1 605.8h0M107.0 585.9h0M178.5 646.8h0M140.1 597.4h0M199.5 611.4h0M133.4 581.9h0M174.8 581.6h0M162.6 586.0h0M169.6 613.7h0M170.4 624.0h0M148.6 603.0h0M135.9 577.0h0M126.2 617.1h0M166.2 648.5h0M181.7 607.1h0M188.4 615.8h0M170.0 645.2h0M184.9 650.1h0M197.8 624.9h0M146.4 571.8h0M169.6 597.0h0M184.9 617.4h0M165.0 641.9h0M166.8 608.5h0M172.6 603.3h0M138.7 605.0h0M148.7 605.6h0M151.0 623.5h0M164.6 622.6h0M165.2 616.2h0M173.3 624.4h0M145.5 611.7h0M191.0 649.1h0M151.4 619.6h0M201.9 644.1h0M143.4 638.6h0M149.4 620.3h0M164.2 623.0h0M189.6 618.9h0M126.0 614.4h0M167.4 614.9h0M193.5 660.6h0M157.8 598.6h0M157.9 601.1h0M148.8 609.4h0M154.6 633.1h0M160.6 629.0h0"/>
<path stroke="#b8d438" d="M153.8 631.1h0M122.8 586.4h0M129.3 626.8h0M122.5 611.8h0M140.7 651.9h0M128.5 636.6h0M149.8 628.5h0M155.2 635.4h0M123.1 601.0h0M112.2 608.8h0M156.5 625.3h0M114.4 626.2h0M134.6 618.3h0M130.7 585.1h0M127.0 611.7h0M99.3 638.5h0M138.2 658.3h0M134.2 592.0h0M142.8 626.3h0M128.9 621.3h0M123.3 635.9h0M121.5 609.6h0M147.5 622.0h0M124.9 645.3h0M134.6 640.4h0M116.2 637.8h0M123.6 603.4h0M118.5 651.3h0M143.2 652.2h0M147.5 639.7h0M129.0 615.9h0M142.1 612.4h0M138.8 606.3h0M136.3 594.9h0M130.5 601.1h0M144.6 608.9h0M142.1 612.6h0M135.3 620.7h0M126.3 582.1h0M131.7 629.7h0M172.4 631.2h0M126.1 603.1h0M122.2 626.3h0M144.1 641.2h0M115.5 622.9h0M99.4 594.0h0M123.4 648.7h0M135.3 618.3h0M120.9 612.3h0M137.4 617.0h0M116.9 585.7h0M104.9 634.4h0M131.7 643.9h0"/>
<path stroke="#8a8a8a" d="M100.3 597.8h0M104.4 590.9h0M95.4 613.5h0M99.0 608.5h0M100.1 607.6h0M102.6 592.3h0M91.4 609.2h0M96.7 606.4h0M102.4 614.9h0M106.5 651.7h0M105.0 634.2h0M93.3 583.6h0"/>
<path stroke="#f0e52a" d="M123.6 641.0h0M136.0 586.5h0M146.7 633.5h0M133.3 623.8h0M115.1 580.8h0M156.0 617.1h0M145.1 599.9h0M122.0 613.2h0M142.5 617.9h0M121.2 657.7h0M124.0 618.7h0M147.5 590.2h0M145.4 638.3h0M144.0 648.2h0M148.6 642.7h0M128.5 603.6h0M140.0 614.2h0M105.4 630.8h0M153.8 615.5h0M165.7 621.4h0M150.2 587.3h0M139.5 614.7h0M134.4 621.9h0M113.9 611.3h0M112.8 609.3h0M139.8 598.3h0M135.8 634.1h0M140.4 610.0h0M120.2 615.4h0M121.4 600.7h0M133.2 582.6h0M145.9 634.6h0M131.8 610.8h0M159.4 630.6h0M143.6 604.4h0M154.6 596.1h0M137.4 621.0h0M141.5 601.6h0M114.8 624.0h0M108.3 655.3h0M108.3 624.6h0M144.6 630.8h0M130.7 610.8h0M116.6 648.9h0M146.4 603.3h0M146.6 609.6h0M158.4 623.3h0M135.4 636.6h0M131.0 625.1h0M164.4 609.8h0M146.3 648.5h0M134.0 613.4h0M124.7 622.8h0M139.2 619.0h0M130.3 618.2h0M137.7 626.2h0M157.9 618.1h0M140.1 621.2h0M112.2 609.0h0"/>
<path stroke="#7dc142" d="M123.3 643.2h0M136.8 599.0h0M125.9 652.5h0M120.8 630.9h0M111.7 613.1h0M146.3 647.2h0M115.6 599.0h0M137.7 640.9h0M142.6 621.7h0M140.2 635.6h0M132.1 612.4h0M130.0 627.4h0M131.2 642.3h0M131.5 615.0h0M146.9 591.8h0M137.8 637.3h0M134.2 604.6h0M105.4 589.6h0M106.8 634.4h0M112.5 623.4h0M120.0 626.0h0M111.2 591.8h0M115.8 643.2h0M114.7 619.6h0M120.7 601.2h0M157.5 604.5h0M110.2 604.6h0M143.7 616.6h0M127.5 621.7h0M112.4 655.7h0M121.5 638.0h0M129.5 578.0h0M139.5 637.7h0M124.3 657.6h0M135.0 607.7h0M141.6 601.8h0M113.1 606.4h0M138.1 648.8h0M126.4 666.9h0M136.6 628.1h0M129.1 617.3h0M120.4 599.9h0M109.7 630.3h0M126.3 608.9h0M109.5 636.9h0M140.0 689.2h0M138.5 598.8h0M140.5 646.5h0M110.3 617.3h0M141.4 675.4h0M133.6 612.7h0M145.6 615.8h0M129.5 622.2h0M132.6 608.5h0M121.1 634.6h0M111.9 604.8h0M110.3 605.9h0M136.9 574.9h0M144.1 578.8h0M125.9 631.8h0M116.3 625.6h0M128.6 636.7h0M132.0 592.3h0M139.8 614.7h0M112.1 606.3h0M116.0 627.6h0M114.6 626.0h0M114.2 604.3h0M116.6 603.8h0M126.9 646.2h0"/>
<path stroke="#2f5bb5" d="M111.6 643.9h0M127.3 639.2h0M119.1 621.8h0M109.1 648.4h0M124.3 646.3h0M120.5 630.5h0M103.6 671.1h0M119.3 629.2h0M118.2 648.2h0M114.5 654.1h0M109.7 614.6h0M117.6 617.5h0M112.9 636.4h0M117.7 615.8h0M125.0 660.4h0M114.4 646.3h0M122.4 650.7h0M111.5 652.0h0M113.1 689.5h0M123.0 612.4h0M104.4 614.2h0M105.1 642.6h0M117.7 630.7h0M120.5 658.5h0M124.0 605.1h0M108.8 642.5h0M109.4 662.5h0M109.6 617.7h0M111.4 652.6h0M112.9 630.3h0M108.9 652.7h0M115.7 618.6h0M108.1 652.6h0M122.9 650.1h0M116.4 614.8h0M114.8 630.2h0M112.2 638.2h0M111.6 673.6h0M113.8 625.1h0"/>
<path stroke="#f7a11a" d="M122.5 609.4h0M164.8 606.2h0M149.1 632.6h0M143.2 641.0h0M150.7 625.8h0M170.3 610.0h0M131.6 633.5h0M176.6 630.6h0M145.3 631.3h0M148.6 611.2h0M123.8 631.5h0M143.0 625.6h0M154.0 615.8h0M122.9 634.0h0M135.0 572.8h0M140.3 602.9h0M135.4 611.5h0M139.8 608.2h0M134.8 599.6h0M139.3 602.2h0M133.9 617.2h0M151.9 615.0h0M115.3 608.5h0M174.9 643.7h0M144.4 583.5h0M124.5 617.8h0M138.7 594.3h0M124.8 642.8h0M123.5 602.1h0M145.8 607.5h0M147.8 624.7h0M142.2 612.2h0M143.8 619.7h0M114.2 624.9h0M159.4 607.2h0M129.9 607.0h0M144.7 604.7h0M117.3 629.2h0M128.7 615.1h0M159.1 631.9h0M129.5 596.9h0M156.0 603.3h0M133.3 633.7h0M143.7 608.0h0M150.1 649.6h0M126.3 601.2h0M134.0 633.2h0M141.8 599.1h0M143.8 616.0h0M123.1 601.6h0M168.9 600.3h0M133.6 635.4h0M153.7 592.5h0M146.6 626.5h0M144.1 589.2h0M129.3 637.8h0M145.4 635.2h0M152.9 630.0h0M152.0 591.7h0M133.9 620.3h0M150.6 614.9h0M156.8 618.9h0M137.9 608.4h0M140.2 584.6h0M155.5 611.3h0M157.6 597.8h0M144.2 583.6h0M102.4 611.4h0M114.3 615.0h0M164.3 620.3h0M170.3 632.1h0M170.8 629.3h0M128.1 582.9h0M130.0 594.1h0M163.9 589.6h0M159.8 598.5h0M130.2 595.8h0M162.1 607.9h0M151.6 602.8h0M134.7 612.3h0M140.7 622.1h0M135.3 611.3h0M119.4 589.5h0M143.6 641.1h0M137.6 621.0h0M155.1 625.8h0M137.3 633.2h0M143.8 597.5h0M138.4 612.4h0M141.4 609.6h0M163.4 586.8h0M133.9 603.1h0M126.1 633.4h0"/>
<path stroke="#5cc4b8" d="M122.9 666.9h0M143.8 659.9h0M119.9 638.5h0M130.0 635.8h0M125.6 629.2h0M112.2 640.7h0M113.7 661.9h0M123.1 642.9h0M111.6 647.6h0M126.8 643.3h0M116.9 645.9h0M117.0 662.0h0M124.6 628.6h0M128.9 646.8h0M138.3 658.8h0M119.3 655.8h0M124.7 665.7h0M100.5 656.8h0M130.2 651.6h0M116.5 649.6h0M112.4 650.6h0M113.7 656.8h0M116.7 660.0h0M122.9 653.0h0M117.6 654.6h0M110.0 659.0h0M225.6 657.5h0M126.2 642.0h0M110.6 653.9h0M113.6 629.7h0M125.8 647.9h0M131.8 647.0h0M127.7 653.7h0M126.6 638.9h0M126.5 661.4h0M129.2 640.8h0M163.0 689.2h0M196.8 645.3h0M128.4 651.8h0M117.4 652.0h0M122.9 664.5h0M125.1 650.2h0M116.4 652.6h0M126.0 644.1h0M121.4 662.7h0M125.1 628.8h0M118.8 689.0h0M117.6 638.0h0M120.7 659.2h0M122.1 650.2h0M121.8 675.7h0M119.6 650.1h0M130.5 643.9h0M107.1 644.6h0M104.4 628.9h0M121.0 647.5h0M119.3 665.5h0M120.6 660.0h0"/>
<path stroke="#f2f2f2" d="M98.3 633.7h0M94.8 635.1h0M101.8 607.6h0M97.9 661.5h0M102.9 628.6h0M91.7 632.9h0M99.6 661.3h0M96.5 622.3h0M102.2 612.3h0M99.0 655.3h0M100.0 615.5h0M103.4 644.5h0"/>
<path stroke="#f05a28" d="M135.0 604.8h0M147.2 605.5h0M152.1 607.8h0M153.5 641.8h0M150.4 627.1h0M150.4 582.8h0M142.7 603.0h0M151.1 581.8h0M137.2 605.1h0M153.7 601.5h0M132.0 629.4h0M172.2 607.4h0M128.0 627.0h0M131.0 642.3h0M152.8 625.2h0M129.9 582.1h0M149.9 629.7h0M158.1 638.0h0M152.2 631.3h0M152.7 609.2h0M116.2 616.0h0M163.9 597.7h0M127.4 598.9h0M133.4 581.7h0M169.0 615.3h0M127.5 597.8h0M149.0 596.3h0M134.1 622.9h0M132.3 630.2h0M142.9 602.1h0M131.4 609.8h0M177.2 620.8h0M120.9 611.8h0M147.3 595.2h0M156.3 586.4h0M146.0 626.2h0M132.2 666.3h0M140.3 618.0h0M131.7 614.7h0M148.2 610.1h0M122.8 602.7h0M141.9 639.5h0M162.0 567.2h0M150.9 624.3h0M138.8 602.4h0M143.0 586.7h0M118.8 603.6h0M150.1 634.4h0M161.3 599.6h0M160.2 613.1h0M147.6 611.8h0M151.5 625.4h0M150.7 608.2h0M139.5 617.0h0M142.1 611.6h0M127.7 629.7h0M151.9 596.9h0M157.9 619.7h0M131.7 608.2h0M140.8 649.3h0M141.4 665.2h0M157.9 638.8h0M159.3 598.3h0M173.5 609.0h0M131.9 574.9h0M142.1 627.8h0M149.4 603.2h0M132.5 607.7h0M132.9 639.4h0M151.8 637.2h0M117.1 603.2h0M153.7 649.3h0M162.0 631.8h0"/>
<path stroke="#e2207e" d="M114.7 633.8h0M111.7 639.9h0M110.1 663.6h0M109.1 648.1h0M98.7 645.8h0M118.3 656.0h0M97.0 662.7h0M133.0 625.9h0M102.9 630.6h0M123.5 641.2h0M115.2 689.0h0M114.2 635.3h0M119.3 622.5h0M113.9 649.8h0M112.4 629.1h0M108.4 646.1h0M111.7 652.8h0M126.6 668.1h0M113.8 677.8h0M124.2 618.4h0M99.7 689.0h0M113.6 659.1h0M112.6 600.8h0M127.1 621.2h0M120.5 623.4h0M127.2 614.3h0M99.6 634.1h0M139.8 625.1h0M104.6 658.0h0M104.0 650.7h0M110.9 637.9h0M116.3 615.4h0M109.3 631.1h0M116.2 655.7h0M116.4 665.5h0M110.4 625.9h0M113.5 596.3h0M119.0 639.2h0M124.9 645.8h0M115.8 632.5h0M105.3 634.0h0M121.3 620.8h0M107.8 638.6h0M124.2 633.5h0M109.4 655.4h0M118.6 611.1h0M122.7 664.8h0M114.9 608.3h0M122.7 622.3h0M114.6 650.9h0M136.0 642.3h0M114.6 640.5h0M113.4 652.1h0M90.9 651.4h0M115.9 625.9h0M130.0 630.8h0M121.7 645.2h0M110.8 645.8h0M110.9 668.0h0M104.2 625.7h0M108.7 652.1h0M110.9 668.6h0M115.6 640.6h0M112.3 635.8h0M108.2 658.6h0M120.3 636.6h0M125.2 679.5h0M110.8 689.0h0M103.9 652.2h0M102.7 616.7h0M113.6 664.8h0"/>
<path stroke="#4cae4f" d="M137.8 656.6h0M130.4 652.5h0M127.0 675.9h0M159.6 663.0h0M109.9 663.7h0M121.3 640.1h0M129.2 616.1h0M122.0 614.7h0M110.8 627.9h0M156.1 647.2h0M101.0 661.7h0M134.3 630.4h0M124.3 668.9h0M139.8 672.2h0M124.6 657.0h0M98.7 644.6h0M151.6 651.6h0M164.3 657.3h0M137.7 642.6h0M136.5 655.5h0M111.8 634.2h0M124.7 672.4h0M145.3 639.8h0M130.9 669.5h0M122.4 643.8h0M148.6 627.9h0M145.5 664.4h0M124.4 670.9h0M129.7 646.9h0M145.8 628.4h0M112.1 655.1h0M136.4 650.7h0M118.3 640.4h0M129.4 626.4h0M112.3 650.8h0M109.4 644.6h0M128.2 670.9h0M132.9 645.2h0M131.2 639.0h0M156.5 644.7h0M110.5 647.4h0M136.8 613.8h0M133.4 623.7h0M127.7 637.1h0M131.0 640.0h0M128.0 621.1h0M149.4 680.2h0M105.8 653.2h0M134.9 623.3h0M129.6 647.6h0M141.5 651.5h0M117.4 630.0h0M125.5 636.5h0M124.1 660.4h0M157.2 644.8h0M148.5 645.6h0M120.2 656.7h0M134.6 616.0h0M145.2 654.8h0M143.3 624.8h0M144.3 664.8h0M93.2 632.4h0M130.8 630.6h0M110.6 641.6h0M155.1 632.1h0M141.0 640.2h0M144.2 646.7h0M128.2 646.1h0M125.8 617.8h0M140.2 641.3h0M121.9 677.3h0M129.1 617.4h0M109.8 666.2h0M128.8 657.5h0M131.4 637.9h0M138.8 641.7h0M117.7 643.1h0M116.9 636.3h0M116.2 653.4h0M130.4 654.2h0M134.5 653.5h0M142.1 639.1h0M126.8 663.8h0M105.7 639.5h0M135.6 642.7h0M111.6 669.6h0M109.9 610.1h0M134.4 635.7h0M116.3 627.6h0M127.4 620.9h0M127.4 621.2h0M145.5 640.7h0M126.5 625.9h0M119.8 640.5h0M91.4 654.8h0"/>
<path stroke="#2b7bc4" d="M115.1 652.0h0M120.7 669.6h0M105.6 622.7h0M121.3 653.6h0M123.6 635.5h0M111.9 631.3h0M107.9 676.5h0M127.8 660.2h0M123.7 644.6h0M110.2 663.3h0M122.3 663.4h0M120.1 666.3h0M107.3 667.5h0M104.9 653.5h0M119.4 654.6h0M125.5 668.8h0M130.2 670.6h0M111.1 651.9h0M115.4 659.1h0M111.9 648.8h0M118.1 615.4h0M117.9 689.0h0M117.6 661.6h0M127.2 651.9h0"/>
<path stroke="#5fba6a" d="M121.7 616.2h0M104.3 628.6h0M124.0 619.2h0M128.3 630.3h0M119.3 645.1h0M144.6 641.9h0M141.9 616.6h0M116.1 634.0h0M125.9 600.3h0M150.5 619.7h0M147.3 628.1h0M127.7 602.4h0M122.2 619.1h0M107.9 593.8h0M128.6 627.4h0M147.8 611.0h0M133.9 579.8h0M118.1 639.1h0M127.4 640.2h0M136.7 586.1h0M139.3 595.2h0M128.7 602.3h0M127.1 638.5h0M126.5 630.2h0M130.9 605.0h0M127.3 651.8h0M138.2 579.6h0M139.0 595.9h0M126.0 607.7h0M136.8 610.2h0M113.0 623.7h0M118.2 612.7h0M126.9 638.7h0M134.1 641.6h0M120.8 604.8h0M155.8 605.2h0M161.6 594.8h0"/>
<path stroke="#e8184a" d="M125.3 624.7h0M112.5 673.4h0M124.6 654.2h0M104.6 632.7h0M101.7 622.1h0M122.4 651.5h0M108.1 621.8h0M114.9 628.6h0M113.2 647.9h0M115.8 663.9h0M121.6 646.6h0M113.8 607.2h0M129.9 634.2h0M108.8 654.3h0M115.4 614.7h0M123.7 635.0h0M120.0 633.4h0"/>
<path stroke="#3a47b0" d="M105.0 606.7h0M112.4 608.8h0M117.5 573.8h0M113.7 632.7h0M116.4 613.0h0M112.9 655.5h0M118.2 689.0h0M116.2 627.0h0M106.9 651.2h0M107.2 614.4h0M114.0 648.0h0M126.7 630.1h0M107.5 662.9h0M110.4 643.4h0M108.7 618.7h0M111.5 646.6h0M110.6 603.5h0M115.0 626.5h0M106.3 623.3h0M107.5 586.6h0M109.7 592.2h0"/>
<path stroke="#3ab8e6" d="M121.9 658.1h0M102.4 660.9h0M138.2 671.0h0M114.7 666.0h0M132.1 663.0h0M121.1 651.3h0M120.1 645.2h0M113.2 683.0h0M119.9 647.4h0M127.5 633.8h0M121.3 653.1h0M101.0 649.9h0M91.7 647.5h0M114.6 645.9h0M128.9 658.4h0M112.2 685.6h0M115.6 651.2h0M137.4 631.6h0M198.2 648.6h0M111.9 676.4h0M122.2 661.8h0M128.5 668.5h0M232.0 689.2h0M114.4 661.6h0M100.4 646.3h0M124.7 687.9h0M101.0 642.4h0M101.3 651.8h0M115.3 637.8h0M132.6 657.3h0M130.3 642.1h0M150.2 637.3h0M103.8 672.9h0M104.7 664.5h0M113.2 655.2h0M111.7 642.7h0M112.4 647.8h0M116.9 671.8h0M116.2 667.7h0M129.2 664.1h0M127.2 673.1h0M104.0 633.0h0M140.0 654.7h0M115.7 669.3h0M127.6 639.9h0M196.4 635.8h0M115.1 665.5h0M120.9 651.4h0M99.6 662.8h0M118.5 671.4h0M112.2 655.6h0M125.4 643.7h0M112.8 661.7h0M121.8 645.9h0M116.0 661.0h0M231.7 667.3h0M103.5 662.1h0M132.7 665.6h0M108.6 639.5h0M126.1 650.0h0M108.0 625.5h0M127.7 658.3h0M116.6 644.8h0M122.1 656.1h0M119.7 660.9h0M101.9 643.5h0M112.7 657.9h0M94.1 657.0h0M126.2 639.5h0M112.5 660.8h0M195.3 667.0h0M105.9 634.9h0M126.9 641.7h0M126.5 675.5h0M238.6 636.0h0M132.5 657.6h0M104.2 633.1h0M130.1 638.1h0M91.7 652.6h0M101.7 641.2h0M110.7 657.0h0M216.7 647.0h0M114.6 641.9h0M120.9 663.0h0M142.6 664.3h0"/>
<path stroke="#0c0c0c" d="M109.0 673.1h0M109.4 684.0h0M111.2 676.8h0M106.0 674.6h0M110.2 679.1h0M108.6 676.9h0M109.9 671.6h0M106.7 675.0h0M109.3 680.1h0M108.9 676.4h0M110.1 673.3h0M109.1 674.7h0M108.0 676.2h0M114.4 677.2h0M107.0 674.4h0M112.1 669.9h0M107.0 671.2h0M108.5 675.6h0"/>
<path stroke="#b84aa5" d="M112.5 644.4h0M102.3 620.9h0M96.9 639.2h0M117.5 613.3h0M121.3 620.3h0M118.3 673.0h0"/>
<path stroke="#8c4aa8" d="M100.9 658.3h0M106.1 612.4h0M107.0 623.3h0M114.2 648.9h0M103.5 658.1h0M97.8 602.1h0M108.6 654.3h0M109.5 622.3h0M107.4 634.6h0M100.3 640.4h0M116.6 623.4h0M98.3 630.6h0M122.9 619.4h0M118.5 652.7h0M111.5 622.8h0M112.0 617.5h0M101.8 627.9h0M121.8 603.5h0M95.8 655.9h0M107.2 626.6h0M104.5 614.1h0M105.6 633.9h0M109.0 630.6h0M115.5 654.4h0M117.9 616.1h0M104.2 617.6h0M113.7 637.8h0M122.0 642.4h0M100.6 607.4h0M106.8 642.5h0M120.9 605.0h0M113.8 637.0h0M111.6 653.0h0"/>
<path stroke="#5cb85c" d="M134.1 612.6h0M128.7 630.0h0M142.2 622.9h0M120.0 649.0h0M152.2 626.7h0M136.0 639.9h0M147.2 607.5h0M144.1 625.9h0M143.3 628.4h0M107.6 649.4h0M148.9 630.7h0M123.3 628.5h0M121.3 639.7h0M154.3 632.1h0M125.7 623.2h0M120.4 664.8h0M130.2 613.6h0M125.5 656.1h0M126.0 615.2h0M134.0 689.2h0M137.7 658.8h0M139.2 604.0h0M150.9 599.2h0M140.1 644.1h0M140.7 597.1h0M118.4 623.3h0M135.0 633.4h0M109.0 613.7h0"/>
<path stroke="#5a44a8" d="M105.7 629.2h0M108.8 612.1h0M108.7 612.2h0M109.0 625.9h0M106.0 619.8h0M108.7 645.8h0M97.5 632.2h0M113.0 646.1h0M105.3 593.8h0M107.2 633.7h0M108.6 617.6h0M92.0 620.5h0M112.3 630.1h0M113.8 611.8h0M114.9 602.6h0M121.8 641.5h0M110.4 622.0h0M113.2 642.0h0M109.7 660.6h0M104.8 618.0h0M100.0 656.9h0M113.8 643.4h0M107.2 602.9h0M114.3 641.4h0M111.1 607.0h0M104.9 614.1h0M112.2 595.8h0M116.9 645.9h0M107.7 596.3h0M115.2 619.8h0M115.4 605.3h0M112.3 627.4h0M109.2 661.4h0M98.3 631.6h0M114.2 607.9h0M98.6 620.5h0"/>
<path stroke="#cfcfcf" d="M100.9 625.4h0M91.2 615.9h0M103.5 664.9h0M106.7 621.0h0M105.1 607.6h0M107.9 595.2h0M95.3 661.0h0M105.7 612.7h0M100.4 631.2h0"/>
<path stroke="#3c3c3c" d="M101.7 633.7h0M97.7 660.0h0M91.9 636.5h0M94.9 615.8h0M105.5 619.3h0M105.3 659.9h0M92.6 637.4h0"/>
</g>
<rect x="85.8" y="521.7" width="174.3" height="173.8" fill="none" stroke="#777" stroke-width="1"/>
<path d="M86.3 632.0L259.6 608.5" stroke="#555" stroke-width="0.9" stroke-dasharray="3 2" fill="none"/>
<g stroke="#555" stroke-width="1">
<path d="M81.3 689.50H85.8"/>
<path d="M91.60 695.5V699.5"/>
<path d="M81.3 676.50H85.8"/>
<path d="M106.89 695.5V699.5"/>
<path d="M81.3 644.51H85.8"/>
<path d="M144.50 695.5V699.5"/>
<path d="M81.3 602.91H85.8"/>
<path d="M193.42 695.5V699.5"/>
<path d="M81.3 559.88H85.8"/>
<path d="M244.02 695.5V699.5"/>
</g>
<text x="78.80" y="692.50" font-size="8.5" text-anchor="end">0</text>
<text x="91.60" y="709.30" font-size="8.5" text-anchor="middle">0</text>
<text x="78.80" y="679.50" font-size="8.5" text-anchor="end">1</text>
<text x="106.89" y="709.30" font-size="8.5" text-anchor="middle">1</text>
<text x="78.80" y="647.51" font-size="8.5" text-anchor="end">10</text>
<text x="144.50" y="709.30" font-size="8.5" text-anchor="middle">10</text>
<text x="78.80" y="605.91" font-size="8.5" text-anchor="end">100</text>
<text x="193.42" y="709.30" font-size="8.5" text-anchor="middle">100</text>
<text x="78.80" y="562.88" font-size="8.5" text-anchor="end">1,000</text>
<text x="244.02" y="709.30" font-size="8.5" text-anchor="middle">1,000</text>
<text x="172.90" y="723.80" font-size="9.0" text-anchor="middle">TMB (mut/MB)</text>
<text transform="translate(49.6 608.4) rotate(-90)" font-size="8.75" text-anchor="middle" fill="#222"><tspan font-style="italic">PD-L1</tspan> mRNA</text>
<circle cx="121.1" cy="529.6" r="0.9" fill="#333"/>
<text x="130.80" y="531.70" font-size="6.4">Pan-cancer: <tspan font-style="italic">n</tspan> = 7,623, <tspan font-style="italic">R</tspan> = 0.13, <tspan font-style="italic">P</tspan> = 1.3e-31</text>
<rect x="292.6" y="523.20" width="6.5" height="6.9" fill="#e31e24" stroke="#666" stroke-width="0.7"/>
<text x="301.50" y="529.20" font-size="7.3" fill="#1a1a1a">Skin-Melanoma, <tspan font-style="italic">n</tspan> = 312, <tspan font-style="italic">R</tspan> = 0.096, <tspan font-style="italic">P</tspan> = 0.089</text>
<rect x="292.6" y="531.13" width="6.5" height="6.9" fill="#f05a28" stroke="#666" stroke-width="0.7"/>
<text x="301.50" y="537.13" font-size="7.3" fill="#1a1a1a">Lung-SCC, <tspan font-style="italic">n</tspan> = 424, <tspan font-style="italic">R</tspan> = −0.032, <tspan font-style="italic">P</tspan> = 0.51</text>
<rect x="292.6" y="539.06" width="6.5" height="6.9" fill="#f7a11a" stroke="#666" stroke-width="0.7"/>
<text x="301.50" y="545.06" font-size="7.3" fill="#1a1a1a">Lung-AdenoCa, <tspan font-style="italic">n</tspan> = 474, <tspan font-style="italic">R</tspan> = 0.12, <tspan font-style="italic">P</tspan> = 0.012</text>
<rect x="292.6" y="546.99" width="6.5" height="6.9" fill="#f0e52a" stroke="#666" stroke-width="0.7"/>
<text x="301.50" y="552.99" font-size="7.3" fill="#1a1a1a">Transitional-cell-Ca, <tspan font-style="italic">n</tspan> = 385, <tspan font-style="italic">R</tspan> = 0.19, <tspan font-style="italic">P</tspan> = 0.00022</text>
<rect x="292.6" y="554.92" width="6.5" height="6.9" fill="#b8d438" stroke="#666" stroke-width="0.7"/>
<text x="301.50" y="560.92" font-size="7.3" fill="#1a1a1a">Stomach-AdenoCa, <tspan font-style="italic">n</tspan> = 378, <tspan font-style="italic">R</tspan> = 0.22, <tspan font-style="italic">P</tspan> = 2.3e-05</text>
<rect x="292.6" y="562.85" width="6.5" height="6.9" fill="#7dc142" stroke="#666" stroke-width="0.7"/>
<text x="301.50" y="568.85" font-size="7.3" fill="#1a1a1a">Head-SCC, <tspan font-style="italic">n</tspan> = 454, <tspan font-style="italic">R</tspan> = −0.017, <tspan font-style="italic">P</tspan> = 0.72</text>
<rect x="292.6" y="570.78" width="6.5" height="6.9" fill="#5cb85c" stroke="#666" stroke-width="0.7"/>
<text x="301.50" y="576.78" font-size="7.3" fill="#1a1a1a">Eso-AdenoCa, <tspan font-style="italic">n</tspan> = 181, <tspan font-style="italic">R</tspan> = −0.14, <tspan font-style="italic">P</tspan> = 0.054</text>
<rect x="292.6" y="578.71" width="6.5" height="6.9" fill="#4cae4f" stroke="#666" stroke-width="0.7"/>
<text x="301.50" y="584.71" font-size="7.3" fill="#1a1a1a">ColoRect-Adenoca, <tspan font-style="italic">n</tspan> = 489, <tspan font-style="italic">R</tspan> = 0.26, <tspan font-style="italic">P</tspan> = 6e-09</text>
<rect x="292.6" y="586.64" width="6.5" height="6.9" fill="#5fba6a" stroke="#666" stroke-width="0.7"/>
<text x="301.50" y="592.64" font-size="7.3" fill="#1a1a1a">Cervix-Ca, <tspan font-style="italic">n</tspan> = 264, <tspan font-style="italic">R</tspan> = 0.11, <tspan font-style="italic">P</tspan> = 0.084</text>
<rect x="292.6" y="594.57" width="6.5" height="6.9" fill="#5cc4b8" stroke="#666" stroke-width="0.7"/>
<text x="301.50" y="600.57" font-size="7.3" fill="#1a1a1a">Liver-HCC, <tspan font-style="italic">n</tspan> = 307, <tspan font-style="italic">R</tspan> = −0.019, <tspan font-style="italic">P</tspan> = 0.74</text>
<rect x="292.6" y="602.50" width="6.5" height="6.9" fill="#3ab8e6" stroke="#666" stroke-width="0.7"/>
<text x="301.50" y="608.50" font-size="7.3" fill="#1a1a1a">Uterus-AdenoCa, <tspan font-style="italic">n</tspan> = 472, <tspan font-style="italic">R</tspan> = 0.19, <tspan font-style="italic">P</tspan> = 4.9e-05</text>
<rect x="292.6" y="610.43" width="6.5" height="6.9" fill="#2b7bc4" stroke="#666" stroke-width="0.7"/>
<text x="301.50" y="616.43" font-size="7.3" fill="#1a1a1a">Ovary-AdenoCa, <tspan font-style="italic">n</tspan> = 195, <tspan font-style="italic">R</tspan> = 0.1, <tspan font-style="italic">P</tspan> = 0.16</text>
<rect x="292.6" y="618.36" width="6.5" height="6.9" fill="#2f5bb5" stroke="#666" stroke-width="0.7"/>
<text x="301.50" y="624.36" font-size="7.3" fill="#1a1a1a">Kidney-Papillary, <tspan font-style="italic">n</tspan> = 248, <tspan font-style="italic">R</tspan> = −0.099, <tspan font-style="italic">P</tspan> = 0.12</text>
<rect x="292.6" y="626.29" width="6.5" height="6.9" fill="#3a47b0" stroke="#666" stroke-width="0.7"/>
<text x="301.50" y="632.29" font-size="7.3" fill="#1a1a1a">CNS-GBM, <tspan font-style="italic">n</tspan> = 124, <tspan font-style="italic">R</tspan> = −0.097, <tspan font-style="italic">P</tspan> = 0.28</text>
<rect x="292.6" y="634.22" width="6.5" height="6.9" fill="#5a44a8" stroke="#666" stroke-width="0.7"/>
<text x="301.50" y="640.22" font-size="7.3" fill="#1a1a1a">Kidney-RCC, <tspan font-style="italic">n</tspan> = 330, <tspan font-style="italic">R</tspan> = −0.097, <tspan font-style="italic">P</tspan> = 0.078</text>
<rect x="292.6" y="642.15" width="6.5" height="6.9" fill="#8c4aa8" stroke="#666" stroke-width="0.7"/>
<text x="301.50" y="648.15" font-size="7.3" fill="#1a1a1a">Sarcoma, <tspan font-style="italic">n</tspan> = 202, <tspan font-style="italic">R</tspan> = 0.21, <tspan font-style="italic">P</tspan> = 0.0021</text>
<rect x="292.6" y="650.08" width="6.5" height="6.9" fill="#b84aa5" stroke="#666" stroke-width="0.7"/>
<text x="301.50" y="656.08" font-size="7.3" fill="#1a1a1a">Biliary-AdenoCa <tspan font-style="italic">n</tspan> = 36, <tspan font-style="italic">R</tspan> = −0.19, <tspan font-style="italic">P</tspan> = 0.27</text>
<rect x="292.6" y="658.01" width="6.5" height="6.9" fill="#e2207e" stroke="#666" stroke-width="0.7"/>
<text x="301.50" y="664.01" font-size="7.3" fill="#1a1a1a">Breast-cancer <tspan font-style="italic">n</tspan> = 926, <tspan font-style="italic">R</tspan> = 0.14, <tspan font-style="italic">P</tspan> = 1.8e-05</text>
<rect x="292.6" y="665.94" width="6.5" height="6.9" fill="#e8184a" stroke="#666" stroke-width="0.7"/>
<text x="301.50" y="671.94" font-size="7.3" fill="#1a1a1a">Panc-AdenoCa, <tspan font-style="italic">n</tspan> = 167, <tspan font-style="italic">R</tspan> = −0.088, <tspan font-style="italic">P</tspan> = 0.26</text>
<rect x="292.6" y="673.87" width="6.5" height="6.9" fill="#0c0c0c" stroke="#666" stroke-width="0.7"/>
<text x="301.50" y="679.87" font-size="7.3" fill="#1a1a1a">Prost-AdenoCa, <tspan font-style="italic">n</tspan> = 483, <tspan font-style="italic">R</tspan> = −0.035, <tspan font-style="italic">P</tspan> = 0.44</text>
<rect x="292.6" y="681.80" width="6.5" height="6.9" fill="#3c3c3c" stroke="#666" stroke-width="0.7"/>
<text x="301.50" y="687.80" font-size="7.3" fill="#1a1a1a">Kidney-ChRCC, <tspan font-style="italic">n</tspan> = 50, <tspan font-style="italic">R</tspan> = −0.26, <tspan font-style="italic">P</tspan> = 0.071</text>
<rect x="292.6" y="689.73" width="6.5" height="6.9" fill="#8a8a8a" stroke="#666" stroke-width="0.7"/>
<text x="301.50" y="695.73" font-size="7.3" fill="#1a1a1a">Thymoma, <tspan font-style="italic">n</tspan> = 119, <tspan font-style="italic">R</tspan> = 0.15, <tspan font-style="italic">P</tspan> = 0.095</text>
<rect x="292.6" y="697.66" width="6.5" height="6.9" fill="#cfcfcf" stroke="#666" stroke-width="0.7"/>
<text x="301.50" y="703.66" font-size="7.3" fill="#1a1a1a">Testis-Ca, <tspan font-style="italic">n</tspan> = 139, <tspan font-style="italic">R</tspan> = −0.041, <tspan font-style="italic">P</tspan> = 0.63</text>
<rect x="292.6" y="705.59" width="6.5" height="6.9" fill="#ffffff" stroke="#666" stroke-width="0.7"/>
<text x="301.50" y="711.59" font-size="7.3" fill="#1a1a1a">Thy-AdenoCa, <tspan font-style="italic">n</tspan> = 464, <tspan font-style="italic">R</tspan> = −0.024, <tspan font-style="italic">P</tspan> = 0.61</text>
</svg>
</body></html>
